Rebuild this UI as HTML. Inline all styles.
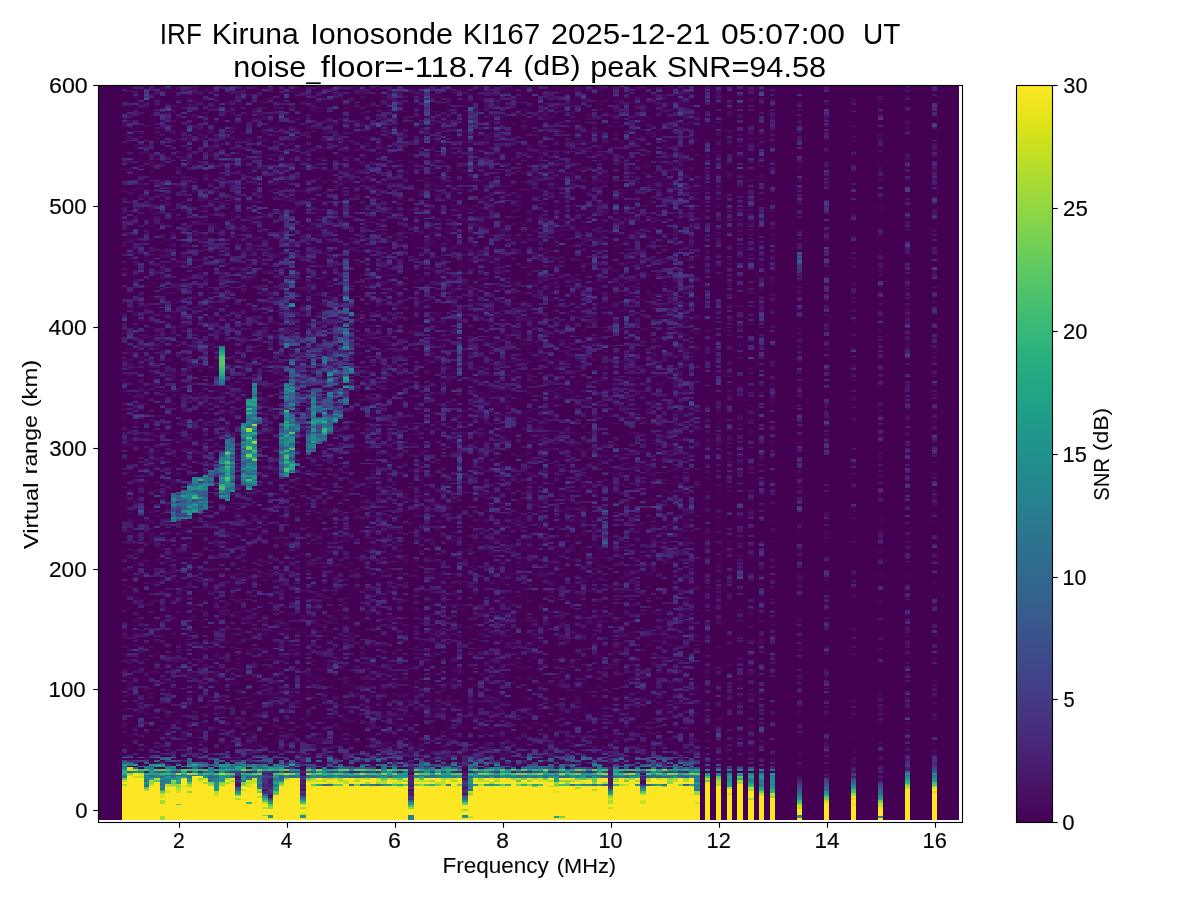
<!DOCTYPE html>
<html><head><meta charset="utf-8"><title>ionogram</title>
<style>html,body{margin:0;padding:0;background:#fff;overflow:hidden}svg{display:block}text{font-family:"Liberation Sans",sans-serif;fill:#000}</style>
</head><body>
<svg width="1200" height="900" viewBox="0 0 1200 900">
<defs><linearGradient id="vg" x1="0" y1="0" x2="0" y2="1"><stop offset="0.0000" stop-color="#fde725"/><stop offset="0.0312" stop-color="#ece51b"/><stop offset="0.0625" stop-color="#d8e219"/><stop offset="0.0938" stop-color="#c2df23"/><stop offset="0.1250" stop-color="#addc30"/><stop offset="0.1562" stop-color="#98d83e"/><stop offset="0.1875" stop-color="#84d44b"/><stop offset="0.2188" stop-color="#70cf57"/><stop offset="0.2500" stop-color="#5ec962"/><stop offset="0.2812" stop-color="#4ec36b"/><stop offset="0.3125" stop-color="#3fbc73"/><stop offset="0.3438" stop-color="#32b67a"/><stop offset="0.3750" stop-color="#28ae80"/><stop offset="0.4062" stop-color="#22a785"/><stop offset="0.4375" stop-color="#1fa088"/><stop offset="0.4688" stop-color="#1f988b"/><stop offset="0.5000" stop-color="#21918c"/><stop offset="0.5312" stop-color="#23898e"/><stop offset="0.5625" stop-color="#26828e"/><stop offset="0.5938" stop-color="#297a8e"/><stop offset="0.6250" stop-color="#2c728e"/><stop offset="0.6562" stop-color="#2f6b8e"/><stop offset="0.6875" stop-color="#33638d"/><stop offset="0.7188" stop-color="#375b8d"/><stop offset="0.7500" stop-color="#3b528b"/><stop offset="0.7812" stop-color="#3e4989"/><stop offset="0.8125" stop-color="#424086"/><stop offset="0.8438" stop-color="#453781"/><stop offset="0.8750" stop-color="#472d7b"/><stop offset="0.9062" stop-color="#482374"/><stop offset="0.9375" stop-color="#48186a"/><stop offset="0.9688" stop-color="#470d60"/><stop offset="1.0000" stop-color="#440154"/></linearGradient>
<clipPath id="cp"><rect x="97.65" y="85.23" width="863.88" height="736.99"/></clipPath></defs>
<rect width="1200" height="900" fill="#fff"/>
<rect x="98.00" y="85.50" width="861.00" height="734.50" fill="#440154"/>
<g clip-path="url(#cp)"><g transform="translate(94.950,0) scale(5.3993,1)" fill="none" shape-rendering="crispEdges">
<g stroke-width="2">
<path stroke="#470d60" d="M12 88h1M15 88h1M18 88h1M29 88h1M37 88h1M47 88h1M51 88h1M61 88h1M75 88h1M89 88h1M94 88h1M100 88h2M104 88h1M113 88h1M17 90h2M20 90h1M27 90h1M48 90h1M58 90h1M75 90h1M87 90h1M89 90h1M91 90h1M93 90h1M121 90h1M123 90h1M150 90h1M7 93h1M18 93h1M26 93h2M34 93h2M45 93h1M48 93h2M54 93h1M56 93h1M60 93h1M66 93h1M76 93h1M109 93h1M115 93h1M17 95h1M26 95h1M28 95h1M30 95h1M39 95h1M44 95h1M60 95h1M62 95h1M69 95h1M73 95h2M103 95h1M105 95h1M107 95h2M115 95h1M7 97h1M22 97h1M45 97h1M49 97h1M53 97h1M57 97h1M63 97h1M84 97h1M89 97h1M96 97h1M100 97h1M105 97h1M145 97h1M150 97h1M17 99h1M27 99h1M32 99h1M55 99h1M60 99h1M65 99h1M71 99h1M77 99h1M85 99h1M91 99h1M103 99h1M105 99h1M108 99h1M115 99h1M121 99h1M123 99h1M140 99h1M145 99h1M18 101h1M25 101h1M47 101h1M56 101h1M63 101h1M69 101h1M90 101h1M94 101h1M96 101h2M108 101h1M121 101h1M140 101h1M8 104h1M13 104h1M17 104h2M24 104h1M26 104h1M38 104h1M46 104h1M54 104h1M65 104h1M72 104h1M74 104h1M83 104h1M87 104h1M93 104h1M97 104h1M103 104h2M108 104h2M117 104h1M123 104h1M130 104h1M135 104h1M5 106h2M14 106h2M17 106h2M20 106h1M33 106h1M36 106h1M39 106h1M50 106h2M68 106h1M72 106h1M74 106h1M76 106h1M80 106h1M85 106h4M100 106h1M110 106h1M119 106h1M125 106h1M8 108h1M12 108h1M22 108h1M25 108h1M31 108h1M33 108h1M36 108h1M40 108h2M46 108h1M59 108h1M72 108h1M77 108h1M85 108h1M109 108h1M117 108h1M7 110h1M14 110h1M29 110h1M40 110h1M52 110h1M54 110h1M65 110h1M70 110h1M79 110h1M83 110h1M93 110h1M96 110h1M101 110h1M104 110h3M130 110h1M13 113h1M20 113h1M25 113h1M29 113h2M49 113h2M59 113h1M77 113h1M82 113h2M85 113h1M88 113h1M94 113h1M104 113h1M111 113h1M117 113h1M125 113h1M6 115h1M10 115h1M18 115h1M30 115h1M54 115h1M73 115h2M91 115h1M95 115h2M109 115h2M117 115h1M119 115h1M145 115h1M15 117h1M18 117h1M26 117h1M31 117h1M36 117h1M39 117h1M52 117h1M57 117h1M63 117h1M65 117h1M75 117h1M84 117h1M102 117h1M106 117h1M111 117h1M115 117h1M119 117h1M125 117h1M135 117h1M5 119h1M29 119h3M37 119h1M45 119h1M53 119h1M57 119h1M62 119h1M83 119h1M91 119h3M96 119h1M109 119h1M125 119h1M135 119h1M6 121h1M12 121h1M14 121h1M20 121h1M22 121h1M32 121h1M42 121h1M48 121h1M63 121h3M67 121h1M73 121h2M79 121h1M88 121h2M101 121h1M107 121h1M130 121h1M150 121h1M5 124h1M44 124h1M49 124h1M62 124h1M65 124h1M74 124h1M77 124h1M92 124h1M102 124h1M109 124h1M113 124h1M150 124h1M5 126h1M9 126h1M14 126h1M19 126h1M49 126h1M51 126h1M53 126h1M72 126h1M95 126h1M97 126h1M100 126h1M102 126h2M106 126h1M121 126h1M135 126h1M140 126h1M12 128h1M18 128h1M32 128h2M39 128h3M46 128h1M51 128h1M60 128h1M64 128h1M73 128h1M79 128h1M83 128h2M90 128h1M109 128h1M150 128h1M19 130h1M21 130h1M24 130h1M37 130h1M42 130h2M53 130h2M60 130h1M63 130h1M89 130h1M92 130h1M99 130h1M101 130h1M104 130h1M125 130h1M8 133h1M11 133h1M14 133h1M18 133h1M21 133h1M25 133h1M27 133h1M31 133h1M34 133h1M38 133h2M42 133h2M47 133h1M52 133h1M73 133h1M89 133h1M98 133h1M102 133h2M115 133h1M130 133h1M5 135h1M19 135h2M33 135h1M39 135h1M45 135h1M55 135h1M57 135h1M65 135h1M71 135h2M75 135h1M81 135h1M96 135h1M103 135h1M115 135h1M119 135h1M145 135h1M6 137h1M8 137h1M16 137h2M22 137h1M25 137h1M36 137h1M44 137h1M49 137h1M51 137h1M54 137h1M57 137h1M63 137h1M67 137h1M72 137h2M101 137h1M103 137h1M110 137h1M140 137h1M6 139h1M11 139h1M15 139h1M17 139h1M19 139h1M25 139h2M28 139h1M30 139h1M42 139h1M50 139h1M60 139h1M62 139h1M72 139h1M74 139h1M94 139h1M110 139h1M117 139h1M121 139h1M123 139h1M125 139h1M135 139h1M145 139h1M14 142h1M22 142h1M28 142h1M39 142h1M47 142h2M55 142h1M63 142h1M68 142h1M70 142h1M77 142h1M85 142h1M87 142h2M90 142h3M94 142h1M97 142h1M105 142h1M113 142h1M115 142h1M119 142h1M145 142h1M22 144h2M26 144h1M36 144h1M45 144h1M50 144h1M52 144h1M56 144h1M64 144h1M72 144h1M82 144h1M89 144h1M100 144h1M117 144h1M121 144h1M155 144h1M7 146h1M9 146h1M21 146h1M28 146h1M30 146h2M46 146h1M50 146h1M52 146h1M55 146h1M57 146h1M75 146h1M80 146h1M82 146h1M93 146h1M105 146h1M107 146h1M109 146h1M119 146h1M145 146h1M20 148h3M26 148h1M28 148h1M40 148h1M42 148h1M45 148h1M53 148h1M62 148h1M67 148h1M80 148h1M89 148h1M93 148h1M95 148h1M135 148h1M12 150h1M17 150h1M21 150h1M32 150h1M37 150h1M39 150h1M46 150h1M48 150h1M59 150h1M62 150h1M65 150h1M67 150h1M70 150h2M73 150h1M77 150h1M82 150h2M85 150h1M89 150h1M100 150h1M110 150h1M155 150h1M8 153h2M15 153h1M17 153h1M26 153h1M39 153h1M52 153h1M54 153h1M67 153h1M70 153h1M74 153h1M79 153h1M82 153h1M85 153h1M93 153h2M102 153h1M108 153h1M14 155h1M21 155h1M23 155h1M27 155h1M30 155h1M32 155h3M45 155h1M58 155h1M63 155h1M68 155h1M72 155h2M78 155h1M80 155h1M85 155h1M92 155h1M105 155h2M109 155h1M111 155h1M113 155h1M115 155h1M140 155h1M13 157h1M16 157h1M46 157h2M49 157h1M72 157h1M82 157h1M94 157h1M106 157h1M113 157h1M115 157h1M150 157h1M11 159h1M16 159h2M27 159h4M36 159h1M41 159h2M73 159h2M77 159h1M82 159h1M94 159h1M98 159h1M108 159h2M150 159h1M5 162h2M10 162h1M17 162h1M38 162h1M51 162h1M55 162h1M58 162h1M62 162h1M64 162h1M96 162h3M104 162h1M106 162h1M108 162h1M115 162h1M121 162h1M123 162h1M125 162h1M130 162h1M135 162h1M150 162h1M10 164h3M17 164h1M21 164h1M49 164h2M59 164h1M70 164h1M75 164h1M82 164h2M86 164h2M106 164h1M108 164h1M8 166h1M10 166h1M23 166h1M28 166h1M40 166h1M54 166h1M68 166h1M70 166h1M72 166h1M76 166h1M84 166h2M93 166h1M100 166h1M102 166h1M108 166h1M123 166h1M6 168h1M15 168h1M22 168h1M25 168h1M29 168h1M31 168h1M33 168h3M38 168h1M41 168h1M46 168h1M55 168h1M70 168h1M82 168h1M90 168h2M110 168h1M130 168h1M145 168h1M6 171h1M10 171h1M26 171h1M34 171h1M43 171h1M45 171h2M48 171h1M50 171h1M57 171h1M68 171h1M78 171h1M80 171h1M84 171h2M93 171h1M98 171h1M106 171h1M113 171h1M140 171h1M145 171h1M155 171h1M28 173h1M48 173h1M56 173h2M62 173h1M76 173h1M79 173h1M81 173h1M86 173h3M94 173h1M101 173h1M103 173h1M113 173h1M117 173h1M20 175h1M33 175h2M51 175h1M71 175h1M82 175h1M88 175h2M92 175h2M98 175h1M109 175h1M115 175h1M117 175h1M119 175h1M123 175h1M14 177h1M16 177h2M20 177h1M23 177h1M29 177h1M33 177h1M63 177h1M69 177h1M81 177h1M84 177h2M94 177h1M99 177h2M103 177h1M109 177h1M117 177h1M123 177h1M16 179h1M18 179h1M22 179h1M37 179h1M41 179h1M44 179h1M49 179h2M54 179h1M56 179h2M61 179h1M70 179h1M72 179h1M74 179h1M81 179h1M86 179h1M93 179h1M98 179h1M105 179h2M130 179h1M145 179h1M150 179h1M155 179h1M11 182h1M17 182h1M33 182h3M42 182h1M46 182h1M57 182h1M61 182h1M64 182h1M79 182h1M81 182h1M92 182h1M94 182h1M100 182h1M102 182h1M104 182h1M8 184h1M21 184h1M24 184h2M27 184h1M29 184h1M32 184h2M52 184h4M61 184h2M77 184h1M80 184h1M85 184h1M88 184h1M103 184h1M106 184h1M111 184h1M135 184h1M12 186h1M15 186h1M17 186h1M41 186h1M44 186h1M50 186h2M57 186h1M63 186h1M75 186h2M81 186h1M84 186h1M88 186h1M96 186h1M99 186h1M102 186h1M107 186h1M109 186h2M119 186h1M135 186h1M8 188h1M16 188h1M23 188h1M35 188h1M39 188h1M44 188h1M51 188h1M56 188h1M61 188h1M84 188h2M93 188h1M106 188h1M110 188h1M113 188h1M115 188h1M130 188h1M5 191h1M18 191h1M22 191h1M32 191h1M37 191h2M40 191h1M48 191h1M52 191h1M60 191h1M74 191h2M104 191h1M115 191h1M6 193h1M16 193h1M20 193h1M30 193h1M36 193h1M39 193h1M42 193h1M46 193h1M52 193h1M60 193h1M73 193h1M84 193h1M91 193h1M97 193h1M106 193h1M110 193h2M145 193h1M8 195h1M11 195h1M26 195h1M30 195h1M35 195h1M48 195h1M63 195h1M78 195h1M84 195h1M93 195h1M107 195h1M115 195h1M121 195h1M8 197h3M26 197h1M33 197h1M48 197h1M55 197h1M63 197h1M78 197h1M81 197h2M86 197h1M97 197h1M104 197h1M130 197h1M145 197h1M155 197h1M19 199h2M25 199h1M34 199h1M36 199h1M39 199h1M46 199h1M52 199h1M56 199h1M64 199h2M71 199h1M75 199h1M87 199h1M96 199h1M107 199h1M109 199h1M111 199h1M123 199h1M13 202h1M16 202h1M21 202h3M26 202h1M28 202h2M36 202h1M40 202h1M72 202h1M78 202h1M100 202h1M130 202h1M150 202h1M10 204h1M12 204h2M17 204h1M23 204h2M26 204h1M49 204h1M73 204h2M82 204h2M93 204h2M96 204h1M106 204h1M130 204h1M155 204h1M13 206h1M17 206h1M19 206h1M34 206h1M37 206h1M47 206h1M51 206h1M66 206h1M70 206h1M75 206h1M78 206h1M85 206h1M92 206h1M101 206h2M115 206h1M7 208h2M10 208h1M20 208h1M24 208h1M39 208h1M45 208h1M54 208h1M62 208h1M68 208h1M71 208h1M87 208h1M145 208h1M6 211h1M10 211h1M16 211h1M19 211h1M22 211h1M28 211h1M34 211h1M51 211h1M59 211h2M66 211h2M70 211h1M77 211h1M80 211h1M89 211h1M91 211h1M94 211h1M96 211h1M100 211h1M104 211h1M119 211h1M125 211h1M5 213h1M11 213h1M22 213h2M25 213h1M32 213h1M34 213h1M36 213h1M53 213h4M80 213h1M83 213h1M93 213h2M98 213h1M102 213h1M107 213h1M109 213h1M150 213h1M155 213h1M17 215h1M20 215h2M26 215h1M31 215h1M44 215h1M82 215h1M85 215h1M90 215h1M101 215h1M108 215h2M140 215h1M7 217h1M11 217h1M23 217h1M28 217h2M31 217h1M41 217h1M45 217h1M51 217h1M56 217h2M59 217h1M70 217h3M77 217h2M82 217h1M91 217h1M97 217h1M99 217h1M107 217h1M109 217h1M6 220h1M9 220h1M20 220h1M43 220h1M52 220h1M63 220h1M68 220h1M83 220h2M86 220h1M98 220h1M104 220h1M111 220h1M119 220h1M140 220h1M19 222h1M46 222h1M50 222h2M56 222h1M71 222h1M75 222h1M80 222h1M83 222h1M90 222h1M94 222h1M101 222h1M103 222h1M108 222h1M125 222h1M11 224h2M18 224h5M25 224h1M29 224h1M53 224h1M77 224h1M79 224h1M107 224h1M110 224h1M121 224h1M150 224h1M10 226h1M16 226h1M38 226h1M42 226h1M50 226h1M52 226h1M59 226h1M66 226h1M70 226h2M87 226h2M119 226h1M17 228h1M22 228h1M26 228h1M28 228h1M30 228h1M39 228h3M43 228h1M58 228h1M66 228h1M72 228h3M80 228h1M90 228h1M97 228h1M103 228h1M110 228h1M125 228h1M145 228h1M25 231h1M27 231h2M31 231h1M34 231h1M36 231h1M43 231h2M60 231h1M65 231h1M75 231h2M79 231h1M81 231h1M85 231h1M89 231h1M92 231h2M95 231h1M100 231h2M107 231h1M110 231h1M119 231h1M130 231h1M155 231h1M5 233h1M9 233h1M14 233h1M18 233h1M21 233h2M49 233h1M53 233h1M57 233h2M60 233h1M62 233h2M65 233h1M67 233h1M69 233h1M75 233h1M93 233h1M95 233h2M101 233h1M107 233h2M115 233h1M117 233h1M135 233h1M6 235h2M12 235h1M14 235h1M18 235h1M20 235h1M25 235h2M34 235h1M38 235h1M41 235h1M49 235h1M53 235h1M55 235h2M61 235h1M73 235h1M76 235h1M82 235h1M86 235h1M90 235h1M100 235h1M107 235h1M115 235h1M119 235h1M121 235h1M125 235h1M145 235h1M30 237h1M42 237h1M56 237h1M63 237h2M75 237h2M92 237h1M100 237h1M102 237h1M107 237h1M110 237h1M113 237h1M140 237h1M6 240h2M10 240h1M13 240h1M19 240h1M26 240h1M29 240h1M31 240h1M45 240h1M48 240h1M50 240h1M52 240h1M54 240h1M65 240h1M80 240h2M87 240h1M92 240h2M100 240h1M107 240h1M115 240h1M135 240h1M5 242h2M23 242h1M35 242h1M39 242h1M43 242h2M47 242h1M54 242h1M61 242h2M82 242h2M90 242h1M94 242h1M98 242h1M107 242h1M5 244h1M14 244h1M16 244h1M20 244h1M26 244h1M36 244h1M48 244h1M56 244h2M61 244h1M70 244h1M89 244h2M97 244h1M103 244h1M108 244h1M110 244h1M5 246h1M8 246h1M14 246h1M16 246h2M28 246h2M46 246h1M49 246h1M61 246h1M66 246h1M70 246h1M72 246h1M85 246h1M88 246h1M91 246h1M96 246h1M105 246h1M110 246h1M117 246h1M47 248h2M51 248h1M53 248h1M59 248h3M66 248h1M74 248h1M119 248h1M12 251h1M24 251h1M27 251h2M31 251h1M48 251h2M54 251h1M56 251h2M69 251h1M77 251h2M84 251h1M93 251h1M100 251h2M105 251h1M108 251h1M110 251h1M113 251h1M119 251h1M123 251h1M6 253h2M13 253h1M32 253h1M37 253h1M39 253h1M42 253h1M50 253h1M60 253h1M70 253h2M78 253h1M81 253h1M83 253h1M113 253h1M10 255h1M12 255h2M16 255h1M28 255h1M33 255h1M57 255h1M68 255h1M70 255h1M75 255h1M81 255h1M99 255h2M111 255h1M115 255h1M121 255h1M145 255h1M9 257h1M12 257h2M16 257h1M20 257h1M30 257h1M33 257h1M35 257h1M43 257h1M63 257h1M72 257h2M75 257h1M83 257h2M86 257h1M119 257h1M125 257h1M9 260h1M15 260h1M18 260h3M34 260h1M59 260h1M64 260h1M67 260h1M69 260h1M72 260h1M84 260h1M88 260h2M103 260h1M106 260h1M109 260h1M113 260h1M117 260h1M15 262h1M25 262h1M30 262h1M39 262h1M52 262h2M63 262h1M93 262h1M99 262h1M104 262h1M121 262h1M125 262h1M7 264h1M28 264h1M44 264h1M48 264h1M74 264h1M90 264h2M98 264h1M100 264h2M117 264h1M123 264h1M135 264h1M11 266h2M14 266h2M17 266h1M28 266h1M32 266h1M39 266h1M42 266h1M44 266h1M64 266h1M67 266h1M80 266h1M85 266h1M99 266h1M110 266h1M115 266h1M123 266h1M125 266h1M140 266h1M145 266h1M150 266h1M12 269h1M19 269h1M26 269h1M28 269h1M33 269h1M54 269h1M61 269h2M64 269h1M69 269h1M74 269h1M95 269h1M113 269h1M11 271h2M23 271h1M27 271h2M31 271h2M37 271h1M52 271h1M74 271h2M82 271h1M90 271h1M96 271h1M145 271h1M155 271h1M5 273h1M8 273h1M19 273h1M26 273h2M31 273h1M45 273h1M64 273h1M68 273h1M75 273h1M80 273h1M85 273h1M104 273h1M113 273h1M155 273h1M7 275h1M12 275h1M19 275h1M23 275h1M27 275h1M29 275h1M33 275h1M49 275h1M52 275h1M54 275h2M59 275h1M61 275h1M67 275h1M80 275h1M86 275h1M89 275h1M100 275h1M102 275h1M104 275h1M106 275h1M145 275h1M12 277h1M17 277h1M24 277h1M29 277h1M40 277h1M42 277h1M45 277h1M53 277h1M57 277h1M66 277h1M82 277h1M88 277h1M98 277h1M111 277h1M117 277h1M125 277h1M130 277h1M135 277h1M7 280h1M20 280h1M22 280h1M25 280h1M28 280h1M60 280h1M66 280h1M71 280h1M80 280h1M82 280h1M87 280h2M100 280h1M130 280h1M37 282h1M39 282h1M43 282h1M52 282h3M59 282h1M63 282h1M68 282h1M78 282h1M85 282h1M88 282h1M96 282h1M98 282h1M105 282h1M107 282h1M117 282h1M125 282h1M14 284h2M27 284h1M39 284h2M51 284h1M53 284h1M55 284h1M57 284h1M62 284h1M67 284h2M70 284h1M75 284h1M77 284h1M81 284h1M84 284h2M97 284h1M100 284h1M117 284h1M140 284h1M9 286h1M15 286h1M20 286h1M23 286h1M29 286h2M49 286h2M56 286h1M69 286h1M71 286h1M78 286h1M81 286h1M85 286h1M87 286h2M90 286h1M97 286h1M99 286h1M105 286h1M109 286h1M117 286h1M145 286h1M150 286h1M15 289h1M17 289h1M37 289h3M51 289h1M66 289h1M68 289h2M75 289h1M80 289h1M89 289h1M92 289h1M100 289h1M110 289h1M123 289h1M150 289h1M22 291h1M27 291h1M33 291h1M39 291h1M44 291h1M54 291h2M59 291h1M64 291h1M66 291h1M81 291h1M102 291h1M110 291h1M130 291h1M13 293h2M21 293h1M37 293h1M39 293h1M41 293h1M43 293h1M73 293h1M77 293h1M79 293h1M84 293h1M88 293h1M91 293h1M96 293h1M102 293h1M106 293h1M121 293h1M130 293h1M140 293h1M8 295h1M24 295h1M31 295h2M40 295h2M59 295h1M63 295h1M70 295h1M81 295h1M83 295h1M94 295h1M98 295h1M103 295h1M105 295h2M125 295h1M11 298h1M16 298h1M18 298h1M33 298h1M43 298h1M49 298h1M77 298h1M100 298h1M103 298h1M109 298h1M125 298h1M140 298h1M14 300h1M17 300h1M21 300h1M24 300h1M32 300h2M36 300h1M43 300h1M56 300h1M59 300h1M84 300h1M101 300h1M106 300h1M113 300h1M123 300h1M135 300h1M5 302h1M8 302h1M15 302h1M30 302h1M40 302h1M45 302h2M60 302h1M73 302h1M79 302h1M94 302h1M107 302h1M140 302h1M155 302h1M9 304h1M12 304h1M26 304h1M41 304h2M52 304h2M56 304h1M64 304h1M66 304h1M69 304h2M78 304h1M80 304h1M109 304h1M123 304h1M145 304h1M8 306h2M19 306h1M21 306h1M32 306h1M38 306h1M40 306h1M42 306h1M52 306h1M55 306h1M59 306h1M66 306h1M71 306h1M76 306h1M79 306h1M85 306h1M89 306h1M92 306h1M95 306h2M104 306h1M117 306h1M119 306h1M123 306h1M9 309h1M16 309h1M22 309h1M36 309h2M47 309h1M57 309h1M72 309h1M78 309h3M91 309h1M98 309h1M103 309h1M150 309h1M12 311h1M14 311h1M25 311h1M29 311h1M33 311h2M36 311h1M38 311h1M49 311h1M52 311h1M71 311h3M75 311h1M95 311h1M97 311h1M106 311h1M115 311h1M123 311h1M125 311h1M140 311h1M145 311h1M150 311h1M7 313h1M14 313h1M26 313h1M41 313h1M51 313h1M55 313h1M62 313h2M73 313h1M83 313h1M87 313h1M90 313h1M99 313h1M107 313h1M7 315h1M13 315h1M25 315h1M37 315h1M41 315h1M45 315h1M48 315h1M54 315h1M63 315h1M68 315h1M70 315h1M75 315h1M77 315h1M91 315h2M95 315h1M102 315h1M105 315h1M135 315h1M150 315h1M13 318h2M21 318h1M23 318h1M29 318h1M34 318h1M36 318h1M41 318h1M43 318h1M56 318h1M58 318h1M78 318h4M83 318h1M89 318h2M92 318h1M100 318h1M102 318h1M107 318h1M150 318h1M8 320h1M17 320h1M21 320h1M27 320h1M45 320h1M50 320h1M54 320h2M57 320h1M64 320h1M71 320h1M79 320h2M92 320h1M104 320h1M108 320h1M117 320h1M140 320h1M19 322h1M22 322h1M33 322h1M63 322h2M67 322h1M91 322h2M96 322h1M100 322h1M109 322h1M123 322h1M150 322h1M16 324h1M42 324h1M55 324h1M64 324h1M87 324h1M121 324h1M14 326h1M16 326h1M23 326h1M28 326h1M39 326h1M45 326h1M47 326h1M50 326h2M59 326h2M80 326h1M91 326h1M107 326h1M109 326h1M119 326h1M125 326h1M14 329h1M18 329h1M28 329h1M31 329h1M36 329h1M52 329h1M56 329h1M66 329h1M77 329h1M85 329h1M97 329h1M101 329h1M119 329h1M130 329h1M9 331h1M12 331h1M14 331h1M19 331h2M29 331h1M40 331h1M43 331h1M58 331h1M65 331h2M77 331h2M90 331h1M94 331h2M100 331h1M107 331h1M110 331h1M113 331h1M117 331h1M145 331h1M150 331h1M5 333h1M7 333h1M21 333h1M23 333h1M29 333h1M31 333h1M34 333h1M36 333h1M40 333h1M50 333h1M56 333h1M58 333h1M70 333h1M78 333h1M83 333h1M100 333h1M105 333h1M108 333h1M111 333h1M115 333h1M130 333h1M8 335h2M11 335h1M31 335h1M33 335h1M45 335h1M49 335h3M54 335h1M65 335h1M67 335h1M88 335h1M109 335h1M117 335h1M140 335h1M9 338h1M16 338h1M27 338h1M33 338h1M47 338h1M50 338h1M69 338h1M76 338h1M92 338h2M104 338h1M107 338h1M119 338h1M155 338h1M12 340h1M18 340h1M22 340h1M32 340h1M48 340h1M53 340h1M57 340h1M63 340h1M67 340h1M79 340h1M86 340h1M92 340h1M96 340h1M150 340h1M15 342h1M50 342h1M53 342h2M59 342h1M65 342h1M72 342h1M74 342h1M81 342h1M86 342h1M103 342h1M130 342h1M11 344h1M18 344h1M20 344h2M40 344h1M54 344h1M62 344h1M64 344h1M69 344h1M77 344h1M79 344h2M91 344h2M150 344h1M8 347h3M17 347h1M40 347h1M48 347h2M64 347h1M82 347h1M93 347h1M104 347h1M111 347h1M113 347h1M130 347h1M150 347h1M6 349h1M11 349h1M18 349h1M21 349h1M39 349h1M44 349h1M56 349h1M77 349h1M82 349h1M103 349h1M108 349h2M111 349h1M117 349h1M135 349h1M140 349h1M150 349h1M12 351h1M22 351h1M26 351h1M29 351h2M33 351h1M36 351h1M42 351h1M53 351h1M55 351h2M70 351h1M73 351h1M86 351h2M90 351h1M94 351h1M99 351h1M102 351h1M109 351h1M113 351h1M130 351h1M6 353h1M8 353h1M36 353h1M42 353h1M48 353h2M62 353h1M69 353h1M80 353h1M87 353h1M96 353h1M103 353h1M110 353h1M155 353h1M15 355h1M33 355h1M37 355h1M42 355h1M56 355h1M69 355h1M87 355h2M93 355h1M103 355h1M108 355h1M7 358h2M17 358h1M25 358h1M27 358h1M29 358h1M36 358h1M38 358h1M50 358h1M53 358h2M57 358h1M83 358h1M91 358h1M105 358h1M107 358h1M119 358h1M145 358h1M150 358h1M155 358h1M6 360h1M10 360h1M13 360h1M19 360h1M33 360h1M41 360h1M45 360h1M61 360h1M63 360h1M75 360h1M77 360h1M79 360h1M82 360h1M85 360h1M87 360h1M89 360h1M92 360h1M103 360h1M109 360h2M30 362h1M33 362h1M37 362h3M52 362h1M75 362h3M80 362h1M95 362h1M97 362h1M108 362h1M117 362h1M155 362h1M6 364h1M8 364h1M11 364h1M17 364h1M22 364h1M24 364h1M37 364h1M49 364h1M55 364h2M61 364h1M68 364h1M73 364h1M84 364h1M90 364h1M96 364h1M117 364h1M125 364h1M5 367h1M7 367h1M10 367h2M18 367h2M25 367h1M36 367h1M49 367h1M53 367h1M56 367h1M65 367h1M71 367h1M74 367h1M85 367h1M89 367h1M94 367h1M103 367h1M140 367h1M6 369h1M17 369h1M22 369h1M34 369h1M40 369h1M45 369h1M56 369h1M65 369h1M70 369h1M94 369h1M100 369h2M117 369h1M121 369h1M17 371h1M19 371h1M24 371h1M31 371h1M33 371h2M50 371h1M56 371h1M61 371h1M88 371h2M103 371h1M108 371h1M110 371h1M130 371h1M155 371h1M14 373h1M16 373h1M24 373h1M34 373h1M38 373h1M49 373h2M54 373h1M57 373h1M61 373h1M66 373h1M77 373h2M86 373h1M101 373h1M108 373h1M115 373h1M117 373h1M121 373h1M130 373h1M6 375h1M14 375h1M34 375h1M56 375h1M59 375h1M65 375h1M71 375h3M76 375h1M80 375h1M83 375h1M94 375h1M104 375h2M108 375h1M140 375h1M14 378h1M35 378h1M50 378h1M65 378h2M69 378h1M80 378h1M88 378h1M96 378h1M99 378h2M108 378h1M5 380h1M8 380h1M14 380h1M45 380h1M50 380h1M53 380h2M57 380h1M65 380h1M69 380h1M74 380h1M87 380h1M93 380h2M99 380h1M140 380h1M8 382h1M33 382h1M55 382h1M58 382h1M65 382h1M71 382h1M78 382h1M81 382h1M83 382h1M89 382h1M91 382h1M97 382h1M105 382h1M107 382h1M10 384h2M17 384h1M21 384h1M25 384h1M34 384h1M45 384h1M52 384h1M78 384h1M84 384h1M91 384h1M93 384h1M104 384h1M107 384h1M125 384h1M150 384h1M155 384h1M31 387h2M53 387h1M55 387h1M60 387h1M73 387h1M76 387h1M82 387h1M86 387h1M96 387h1M107 387h1M119 387h1M8 389h1M15 389h1M24 389h1M34 389h1M48 389h1M74 389h1M76 389h1M85 389h1M95 389h1M99 389h1M108 389h1M5 391h1M8 391h2M12 391h4M22 391h1M27 391h1M48 391h1M70 391h1M73 391h1M77 391h1M83 391h2M88 391h1M90 391h1M95 391h2M100 391h2M109 391h2M117 391h1M19 393h1M23 393h1M25 393h2M39 393h1M60 393h1M63 393h2M67 393h1M71 393h1M80 393h1M85 393h1M87 393h2M100 393h1M103 393h1M119 393h1M123 393h1M130 393h1M8 396h1M14 396h1M16 396h1M19 396h1M23 396h1M42 396h1M58 396h1M61 396h1M72 396h1M76 396h1M82 396h1M89 396h1M95 396h1M101 396h1M105 396h1M117 396h1M119 396h1M125 396h1M8 398h1M28 398h1M31 398h1M50 398h1M53 398h1M62 398h1M70 398h1M86 398h1M88 398h1M94 398h1M108 398h1M125 398h1M140 398h1M22 400h2M27 400h1M31 400h1M39 400h1M49 400h4M70 400h1M91 400h1M96 400h1M117 400h1M140 400h1M12 402h1M24 402h1M31 402h1M51 402h1M62 402h1M69 402h1M72 402h2M76 402h1M91 402h1M97 402h2M103 402h1M108 402h1M125 402h1M8 404h2M14 404h1M51 404h1M59 404h1M63 404h1M71 404h1M74 404h1M91 404h1M94 404h1M103 404h1M135 404h1M155 404h1M20 407h1M23 407h1M27 407h1M32 407h1M34 407h1M53 407h1M59 407h1M64 407h1M70 407h1M76 407h1M97 407h2M110 407h1M113 407h1M135 407h1M140 407h1M5 409h1M16 409h1M25 409h1M52 409h1M60 409h1M76 409h1M81 409h1M83 409h1M100 409h1M102 409h1M111 409h1M115 409h1M150 409h1M155 409h1M16 411h1M24 411h2M36 411h1M43 411h1M47 411h1M49 411h1M51 411h1M53 411h1M68 411h1M80 411h1M82 411h2M97 411h2M102 411h1M105 411h1M107 411h2M115 411h1M121 411h1M135 411h1M145 411h1M31 413h1M33 413h1M60 413h1M62 413h1M71 413h1M77 413h1M79 413h1M90 413h1M108 413h1M11 416h2M25 416h1M55 416h1M71 416h1M74 416h1M76 416h1M78 416h1M92 416h1M94 416h2M107 416h1M119 416h1M145 416h1M150 416h1M5 418h1M46 418h1M56 418h1M61 418h1M67 418h1M70 418h2M80 418h1M83 418h1M85 418h1M92 418h1M98 418h2M110 418h1M119 418h1M135 418h1M140 418h1M155 418h1M10 420h1M16 420h1M45 420h1M72 420h1M83 420h1M86 420h1M104 420h1M119 420h1M121 420h1M140 420h1M150 420h1M7 422h1M16 422h1M20 422h1M22 422h1M52 422h1M54 422h1M63 422h1M68 422h1M72 422h1M83 422h1M89 422h1M101 422h1M107 422h1M110 422h1M113 422h1M121 422h1M130 422h1M155 422h1M13 425h1M15 425h1M20 425h3M24 425h1M30 425h1M38 425h2M46 425h1M50 425h1M53 425h2M57 425h1M60 425h1M73 425h1M107 425h1M109 425h1M119 425h1M145 425h1M5 427h1M19 427h1M24 427h1M31 427h2M51 427h1M56 427h1M75 427h1M77 427h1M82 427h1M87 427h1M90 427h1M105 427h1M115 427h1M123 427h1M17 429h2M24 429h1M44 429h1M48 429h1M51 429h1M61 429h1M63 429h1M75 429h1M79 429h1M81 429h2M111 429h1M155 429h1M6 431h1M38 431h1M45 431h1M50 431h2M54 431h1M59 431h1M64 431h1M75 431h1M84 431h4M113 431h1M121 431h1M5 433h1M10 433h1M12 433h2M15 433h1M20 433h1M25 433h1M31 433h2M50 433h1M68 433h1M71 433h1M87 433h2M91 433h1M99 433h2M103 433h1M110 433h1M113 433h1M150 433h1M11 436h1M20 436h1M25 436h1M54 436h1M66 436h1M71 436h1M75 436h1M82 436h1M85 436h1M90 436h1M101 436h1M105 436h1M115 436h1M117 436h1M8 438h2M22 438h1M33 438h1M51 438h1M67 438h1M104 438h2M109 438h1M117 438h1M135 438h1M5 440h2M14 440h1M16 440h2M30 440h1M32 440h1M50 440h1M52 440h1M55 440h1M65 440h1M75 440h2M83 440h1M90 440h1M96 440h1M103 440h1M107 440h2M113 440h1M117 440h1M55 442h1M66 442h1M70 442h1M72 442h1M78 442h1M80 442h2M86 442h1M89 442h1M111 442h1M113 442h1M115 442h1M125 442h1M135 442h1M155 442h1M5 445h2M13 445h1M19 445h2M22 445h1M30 445h1M45 445h1M48 445h2M53 445h1M59 445h1M83 445h1M88 445h1M94 445h1M96 445h1M104 445h1M106 445h1M115 445h1M11 447h1M21 447h1M32 447h1M41 447h2M44 447h1M50 447h1M54 447h1M68 447h1M93 447h1M107 447h1M113 447h1M117 447h1M121 447h1M16 449h2M33 449h1M37 449h1M50 449h1M55 449h1M70 449h1M73 449h1M76 449h1M80 449h1M83 449h2M89 449h1M91 449h2M97 449h1M104 449h1M110 449h1M135 449h1M11 451h1M17 451h1M47 451h2M52 451h1M60 451h2M86 451h1M90 451h1M94 451h1M100 451h2M106 451h2M9 453h1M18 453h1M26 453h1M30 453h1M43 453h1M54 453h1M56 453h2M60 453h1M66 453h1M71 453h1M80 453h1M119 453h1M125 453h1M145 453h1M150 453h1M14 456h1M19 456h1M41 456h1M52 456h1M54 456h1M58 456h1M65 456h1M78 456h1M82 456h2M93 456h2M106 456h1M119 456h1M123 456h1M11 458h1M15 458h1M26 458h1M33 458h1M40 458h2M56 458h1M74 458h1M91 458h1M103 458h1M109 458h1M117 458h1M123 458h1M145 458h1M11 460h2M17 460h1M22 460h1M31 460h1M43 460h1M51 460h1M71 460h1M81 460h1M88 460h1M93 460h1M97 460h1M123 460h1M9 462h2M33 462h1M54 462h1M71 462h1M75 462h1M87 462h2M117 462h1M119 462h1M155 462h1M6 465h1M10 465h1M26 465h1M32 465h1M40 465h1M46 465h1M85 465h1M93 465h1M97 465h1M100 465h1M113 465h1M123 465h1M7 467h1M11 467h1M14 467h1M21 467h1M30 467h1M33 467h1M52 467h1M71 467h1M75 467h1M85 467h1M91 467h1M95 467h1M97 467h1M99 467h3M117 467h1M121 467h1M8 469h1M12 469h1M26 469h1M31 469h1M37 469h1M41 469h2M71 469h1M83 469h1M96 469h1M99 469h2M102 469h1M107 469h1M111 469h1M121 469h1M10 471h1M13 471h1M33 471h1M43 471h1M45 471h1M51 471h1M53 471h1M58 471h1M60 471h1M72 471h2M79 471h1M82 471h1M87 471h1M102 471h1M106 471h1M113 471h1M119 471h1M130 471h1M145 471h1M15 474h1M18 474h1M31 474h2M38 474h1M44 474h1M51 474h1M56 474h1M59 474h1M80 474h1M86 474h1M90 474h1M96 474h2M102 474h2M119 474h1M140 474h1M155 474h1M7 476h1M9 476h2M51 476h1M62 476h1M68 476h1M77 476h1M90 476h1M100 476h1M103 476h1M107 476h1M109 476h1M145 476h1M31 478h1M35 478h1M54 478h1M66 478h1M75 478h1M77 478h1M85 478h1M89 478h1M91 478h1M107 478h1M113 478h1M13 480h2M26 480h1M33 480h1M37 480h1M39 480h1M47 480h1M50 480h1M60 480h1M65 480h2M94 480h1M103 480h1M105 480h1M117 480h1M7 482h3M11 482h1M14 482h1M22 482h1M35 482h2M40 482h1M47 482h1M51 482h1M54 482h2M68 482h1M72 482h1M78 482h1M81 482h1M83 482h1M109 482h1M111 482h1M145 482h1M14 485h1M32 485h1M42 485h1M55 485h1M64 485h1M90 485h1M96 485h2M115 485h1M5 487h1M8 487h1M40 487h1M50 487h1M53 487h1M58 487h2M74 487h1M90 487h1M98 487h1M103 487h1M117 487h1M130 487h1M140 487h1M13 489h1M31 489h1M37 489h1M42 489h1M47 489h1M53 489h1M63 489h1M76 489h1M80 489h1M87 489h1M91 489h1M100 489h1M108 489h1M125 489h1M6 491h1M10 491h2M29 491h1M34 491h1M43 491h1M55 491h1M61 491h1M70 491h2M80 491h1M87 491h1M89 491h1M92 491h1M105 491h1M108 491h1M117 491h1M150 491h1M155 491h1M12 494h2M28 494h2M35 494h1M37 494h1M46 494h1M57 494h1M71 494h2M77 494h1M79 494h1M86 494h1M92 494h1M94 494h1M97 494h1M109 494h1M121 494h1M123 494h1M22 496h1M40 496h1M43 496h1M46 496h1M52 496h1M54 496h1M57 496h1M60 496h2M67 496h1M71 496h1M73 496h1M86 496h1M155 496h1M26 498h1M52 498h1M56 498h2M59 498h1M62 498h1M72 498h1M87 498h2M108 498h1M145 498h1M150 498h1M6 500h1M42 500h1M50 500h1M54 500h1M58 500h1M78 500h1M83 500h1M103 500h1M105 500h1M121 500h1M7 502h1M10 502h1M13 502h1M45 502h1M49 502h1M51 502h1M55 502h1M61 502h1M66 502h1M75 502h1M83 502h1M88 502h2M98 502h1M125 502h1M13 505h1M26 505h2M33 505h1M62 505h1M64 505h1M73 505h1M81 505h1M98 505h1M107 505h1M123 505h1M155 505h1M6 507h1M24 507h2M32 507h1M47 507h1M56 507h1M65 507h1M67 507h1M73 507h1M85 507h1M87 507h1M90 507h1M94 507h1M140 507h1M7 509h1M13 509h1M33 509h1M42 509h1M48 509h2M59 509h1M65 509h1M87 509h2M94 509h1M108 509h1M10 511h1M21 511h1M23 511h2M37 511h1M40 511h1M43 511h1M45 511h1M48 511h1M51 511h1M53 511h1M72 511h1M82 511h1M86 511h1M104 511h1M109 511h2M113 511h1M121 511h1M140 511h1M12 514h1M26 514h1M28 514h1M32 514h1M43 514h1M45 514h1M59 514h1M64 514h1M67 514h1M76 514h1M87 514h1M99 514h1M105 514h1M109 514h1M121 514h1M135 514h1M155 514h1M8 516h1M11 516h1M31 516h1M46 516h1M48 516h1M51 516h2M56 516h1M59 516h2M65 516h1M71 516h1M85 516h1M94 516h1M111 516h1M119 516h1M121 516h1M123 516h1M135 516h1M21 518h1M26 518h1M29 518h1M35 518h1M41 518h1M48 518h1M50 518h1M78 518h1M100 518h1M103 518h1M115 518h1M140 518h1M6 520h1M9 520h1M18 520h1M26 520h1M30 520h1M39 520h1M53 520h1M67 520h1M72 520h1M77 520h2M87 520h1M90 520h1M145 520h1M13 523h1M17 523h1M20 523h3M27 523h1M52 523h1M57 523h2M77 523h1M79 523h1M82 523h1M90 523h1M99 523h1M101 523h1M107 523h1M21 525h1M31 525h1M60 525h2M74 525h1M80 525h1M87 525h1M97 525h1M100 525h1M106 525h1M109 525h1M130 525h1M39 527h1M51 527h1M53 527h1M69 527h1M82 527h1M85 527h1M88 527h1M90 527h1M92 527h1M103 527h1M109 527h1M10 529h1M17 529h1M22 529h1M25 529h1M31 529h1M43 529h1M51 529h1M54 529h3M59 529h2M63 529h1M92 529h2M102 529h1M105 529h2M113 529h1M125 529h1M6 531h1M16 531h1M22 531h1M51 531h1M53 531h1M70 531h1M75 531h1M90 531h1M92 531h1M99 531h2M108 531h3M113 531h1M115 531h1M125 531h1M145 531h1M10 534h1M18 534h3M24 534h2M31 534h1M40 534h1M43 534h1M47 534h1M54 534h1M70 534h2M80 534h1M90 534h1M92 534h1M104 534h2M108 534h1M10 536h2M22 536h1M34 536h1M41 536h1M44 536h1M46 536h1M64 536h1M66 536h1M73 536h1M75 536h2M89 536h1M103 536h1M10 538h1M25 538h1M34 538h1M44 538h1M47 538h1M50 538h2M53 538h3M60 538h1M75 538h1M84 538h1M96 538h1M100 538h1M109 538h1M135 538h1M145 538h1M16 540h1M22 540h1M37 540h1M46 540h1M62 540h1M65 540h3M73 540h2M83 540h1M103 540h1M105 540h1M113 540h1M5 543h3M9 543h1M17 543h1M22 543h1M24 543h1M35 543h1M41 543h1M53 543h1M55 543h1M62 543h1M80 543h1M109 543h1M115 543h1M119 543h1M12 545h1M22 545h2M35 545h1M53 545h1M56 545h1M62 545h1M69 545h1M72 545h1M76 545h2M82 545h1M88 545h1M92 545h1M98 545h1M102 545h1M109 545h1M119 545h1M11 547h1M17 547h1M20 547h1M53 547h1M75 547h3M80 547h1M85 547h1M88 547h1M93 547h1M97 547h2M101 547h1M104 547h1M6 549h1M12 549h1M15 549h1M36 549h1M44 549h1M51 549h1M69 549h1M72 549h1M79 549h1M87 549h2M90 549h1M93 549h1M98 549h1M130 549h1M150 549h1M15 552h2M34 552h1M43 552h1M60 552h1M69 552h2M73 552h2M85 552h1M94 552h1M108 552h1M145 552h1M7 554h1M12 554h1M38 554h1M51 554h1M54 554h1M73 554h1M96 554h1M102 554h1M117 554h1M121 554h1M155 554h1M14 556h1M19 556h1M22 556h1M26 556h2M37 556h1M42 556h1M46 556h1M55 556h1M57 556h1M67 556h1M78 556h1M83 556h1M97 556h1M101 556h1M103 556h1M107 556h1M119 556h1M121 556h1M130 556h1M6 558h1M16 558h2M23 558h2M33 558h1M43 558h2M48 558h1M61 558h1M70 558h1M79 558h1M92 558h1M94 558h1M97 558h1M102 558h1M113 558h1M9 560h1M11 560h1M27 560h1M41 560h1M49 560h1M51 560h1M57 560h1M59 560h1M62 560h1M68 560h1M88 560h1M95 560h1M105 560h1M108 560h1M8 563h1M37 563h1M39 563h4M47 563h1M54 563h1M57 563h1M78 563h1M84 563h2M87 563h1M105 563h1M36 565h1M39 565h2M43 565h3M50 565h1M91 565h1M93 565h1M97 565h1M99 565h1M102 565h1M110 565h1M115 565h1M119 565h1M14 567h1M16 567h1M18 567h1M27 567h1M37 567h1M46 567h1M69 567h1M72 567h1M78 567h1M91 567h1M94 567h1M101 567h1M103 567h1M115 567h1M123 567h1M5 569h2M14 569h1M21 569h1M23 569h1M29 569h1M37 569h1M48 569h1M50 569h1M54 569h1M70 569h1M74 569h1M86 569h1M92 569h1M103 569h1M119 569h1M123 569h1M13 572h2M19 572h1M35 572h1M47 572h1M50 572h1M53 572h1M62 572h1M64 572h1M82 572h1M84 572h1M100 572h1M103 572h1M115 572h1M8 574h1M13 574h1M26 574h2M29 574h1M31 574h2M54 574h1M56 574h1M66 574h1M73 574h1M77 574h2M81 574h3M86 574h1M92 574h1M98 574h2M102 574h1M104 574h1M113 574h1M121 574h1M140 574h1M8 576h1M15 576h1M28 576h1M32 576h1M37 576h1M49 576h1M58 576h2M61 576h2M73 576h1M76 576h1M82 576h2M89 576h1M91 576h1M98 576h1M123 576h1M130 576h1M145 576h1M150 576h1M14 578h1M17 578h1M20 578h2M26 578h3M35 578h1M40 578h1M48 578h1M52 578h1M65 578h1M75 578h1M93 578h1M97 578h1M109 578h1M113 578h1M130 578h1M12 580h1M18 580h2M26 580h1M31 580h1M33 580h1M44 580h1M46 580h1M56 580h1M79 580h1M83 580h1M93 580h2M115 580h1M117 580h1M121 580h1M123 580h1M125 580h1M130 580h1M135 580h1M140 580h1M9 583h1M11 583h1M17 583h1M24 583h1M34 583h1M42 583h1M55 583h1M57 583h1M66 583h2M73 583h1M83 583h2M99 583h2M117 583h1M5 585h1M17 585h1M26 585h1M30 585h1M34 585h1M40 585h1M54 585h1M57 585h1M69 585h1M76 585h1M80 585h1M84 585h1M97 585h1M123 585h1M130 585h1M150 585h1M6 587h1M16 587h2M20 587h1M23 587h1M37 587h1M48 587h1M52 587h1M54 587h1M70 587h1M95 587h1M100 587h1M102 587h1M111 587h1M113 587h1M115 587h1M125 587h1M130 587h1M140 587h1M14 589h1M20 589h1M33 589h2M42 589h1M44 589h1M50 589h2M55 589h1M61 589h1M74 589h1M79 589h1M85 589h1M98 589h1M108 589h1M110 589h2M115 589h1M119 589h1M21 592h1M34 592h1M39 592h1M44 592h1M59 592h1M62 592h1M66 592h1M70 592h1M76 592h2M84 592h1M92 592h1M97 592h1M108 592h1M5 594h1M15 594h1M28 594h1M33 594h1M41 594h1M44 594h1M50 594h1M64 594h1M66 594h1M70 594h1M89 594h1M101 594h1M105 594h1M117 594h1M6 596h1M25 596h1M34 596h1M41 596h2M64 596h1M67 596h1M78 596h1M84 596h1M97 596h1M115 596h1M123 596h1M140 596h1M7 598h1M42 598h2M46 598h1M53 598h1M85 598h1M90 598h1M102 598h1M104 598h1M115 598h1M117 598h1M135 598h1M11 601h1M14 601h1M20 601h1M26 601h1M40 601h1M45 601h1M50 601h1M56 601h2M59 601h1M61 601h1M64 601h1M76 601h1M80 601h1M87 601h1M93 601h1M109 601h1M145 601h1M8 603h1M10 603h1M22 603h1M24 603h1M46 603h1M56 603h1M63 603h1M75 603h1M97 603h1M9 605h2M12 605h1M17 605h2M24 605h1M62 605h1M65 605h4M71 605h1M78 605h1M82 605h1M90 605h1M92 605h1M99 605h2M115 605h1M135 605h1M12 607h1M23 607h1M34 607h2M46 607h1M52 607h1M73 607h1M76 607h1M82 607h1M88 607h1M94 607h1M18 609h1M41 609h1M59 609h1M64 609h1M67 609h1M82 609h1M104 609h1M110 609h1M121 609h1M5 612h1M7 612h1M15 612h1M20 612h1M23 612h1M26 612h1M28 612h1M46 612h1M50 612h2M70 612h1M74 612h1M78 612h1M84 612h1M86 612h1M90 612h1M103 612h1M23 614h3M36 614h1M50 614h1M62 614h1M64 614h1M71 614h1M75 614h1M86 614h1M98 614h4M104 614h1M121 614h1M18 616h1M20 616h1M26 616h1M28 616h2M31 616h1M38 616h1M46 616h1M61 616h1M73 616h1M86 616h1M93 616h3M109 616h1M13 618h1M17 618h1M22 618h1M27 618h1M29 618h1M44 618h1M54 618h2M57 618h1M69 618h1M72 618h1M76 618h2M86 618h1M90 618h1M92 618h1M97 618h1M100 618h1M135 618h1M7 621h1M12 621h1M31 621h1M33 621h2M42 621h2M54 621h1M72 621h1M80 621h2M91 621h1M93 621h2M96 621h1M99 621h1M109 621h2M115 621h1M119 621h1M123 621h1M8 623h1M28 623h1M31 623h1M35 623h1M40 623h1M43 623h2M56 623h1M60 623h1M76 623h1M81 623h1M83 623h1M86 623h1M89 623h1M91 623h1M93 623h1M110 623h1M113 623h1M115 623h1M17 625h1M33 625h3M41 625h2M54 625h1M57 625h1M62 625h1M67 625h1M70 625h1M83 625h1M86 625h1M90 625h1M125 625h1M54 627h1M67 627h1M69 627h1M73 627h1M75 627h1M82 627h1M86 627h1M96 627h1M106 627h1M121 627h1M150 627h1M5 629h1M24 629h2M30 629h3M36 629h1M40 629h1M50 629h2M62 629h1M65 629h1M74 629h1M92 629h1M101 629h1M104 629h1M109 629h1M140 629h1M17 632h2M23 632h1M27 632h1M34 632h1M38 632h1M41 632h1M43 632h1M59 632h1M63 632h1M74 632h1M93 632h1M97 632h1M99 632h1M105 632h1M7 634h2M14 634h1M25 634h1M31 634h1M35 634h1M37 634h1M47 634h1M62 634h2M66 634h1M71 634h1M74 634h1M77 634h1M81 634h2M89 634h1M92 634h1M97 634h2M104 634h1M5 636h1M12 636h1M39 636h2M42 636h1M52 636h1M65 636h1M67 636h1M73 636h1M75 636h2M81 636h1M85 636h1M92 636h1M97 636h3M101 636h2M106 636h3M111 636h1M123 636h1M125 636h1M130 636h1M150 636h1M155 636h1M5 638h1M7 638h1M22 638h2M47 638h1M62 638h1M86 638h1M88 638h1M90 638h1M105 638h3M145 638h1M11 641h1M22 641h1M35 641h1M43 641h1M46 641h2M56 641h2M61 641h1M67 641h1M71 641h1M74 641h2M82 641h1M87 641h1M103 641h3M110 641h2M121 641h1M123 641h1M150 641h1M9 643h1M12 643h1M17 643h1M24 643h1M26 643h1M40 643h1M46 643h1M51 643h1M76 643h2M87 643h1M92 643h1M97 643h1M113 643h1M123 643h1M7 645h1M15 645h1M19 645h1M34 645h1M36 645h1M39 645h1M50 645h4M76 645h1M80 645h1M85 645h2M102 645h1M106 645h1M111 645h1M150 645h1M5 647h1M10 647h1M13 647h1M20 647h1M25 647h1M44 647h1M49 647h1M59 647h1M76 647h2M82 647h1M96 647h1M98 647h1M107 647h1M109 647h1M115 647h1M135 647h1M140 647h1M150 647h1M15 650h1M20 650h1M29 650h3M36 650h1M40 650h1M45 650h2M59 650h2M80 650h1M90 650h1M101 650h1M111 650h1M130 650h1M8 652h1M15 652h1M28 652h1M37 652h1M49 652h1M55 652h1M69 652h1M71 652h1M73 652h1M80 652h1M96 652h2M135 652h1M5 654h1M20 654h1M22 654h1M26 654h1M36 654h1M44 654h1M49 654h1M55 654h1M59 654h2M73 654h1M135 654h1M140 654h1M150 654h1M13 656h1M22 656h1M32 656h1M34 656h2M62 656h1M98 656h1M104 656h1M125 656h1M16 658h1M35 658h1M51 658h1M66 658h1M76 658h1M81 658h1M86 658h1M100 658h1M104 658h1M106 658h1M109 658h1M119 658h1M155 658h1M6 661h1M8 661h1M13 661h3M17 661h1M40 661h1M45 661h1M61 661h1M66 661h1M73 661h1M80 661h1M99 661h1M108 661h1M6 663h1M11 663h1M26 663h1M29 663h1M49 663h3M74 663h1M78 663h1M88 663h1M96 663h1M103 663h1M105 663h1M110 663h1M113 663h1M119 663h1M150 663h1M20 665h1M40 665h1M43 665h1M46 665h1M51 665h1M54 665h2M72 665h1M75 665h3M82 665h2M90 665h1M95 665h2M99 665h1M103 665h1M117 665h1M121 665h1M20 667h1M32 667h1M43 667h1M52 667h1M54 667h1M57 667h1M64 667h1M78 667h1M80 667h1M91 667h1M94 667h2M100 667h1M108 667h1M115 667h1M5 670h1M26 670h1M41 670h1M50 670h1M54 670h1M66 670h2M73 670h1M98 670h1M101 670h1M108 670h1M113 670h1M123 670h1M135 670h1M8 672h1M10 672h2M17 672h1M22 672h1M24 672h1M34 672h1M39 672h1M52 672h1M57 672h1M67 672h1M72 672h1M86 672h1M94 672h1M96 672h1M99 672h2M102 672h1M104 672h1M113 672h1M121 672h1M16 674h2M22 674h1M29 674h2M39 674h1M51 674h1M55 674h1M67 674h1M71 674h1M75 674h1M87 674h1M97 674h1M101 674h1M107 674h1M115 674h1M121 674h1M150 674h1M9 676h1M18 676h1M20 676h1M22 676h1M27 676h1M39 676h1M75 676h1M135 676h1M12 679h1M28 679h1M35 679h1M42 679h1M45 679h2M49 679h2M53 679h1M56 679h2M80 679h1M90 679h1M99 679h1M119 679h1M130 679h1M13 681h2M22 681h1M24 681h1M39 681h1M41 681h1M46 681h1M59 681h1M66 681h1M73 681h1M86 681h1M94 681h1M98 681h1M100 681h1M106 681h1M155 681h1M6 683h1M11 683h1M19 683h1M22 683h1M25 683h1M33 683h1M46 683h1M50 683h1M54 683h2M59 683h1M61 683h1M65 683h1M67 683h1M77 683h1M81 683h2M84 683h1M86 683h1M90 683h1M106 683h1M108 683h1M19 685h1M28 685h1M41 685h1M47 685h1M55 685h1M63 685h1M70 685h1M75 685h1M85 685h1M98 685h1M117 685h1M155 685h1M6 687h1M30 687h1M32 687h1M43 687h1M48 687h1M50 687h1M54 687h1M61 687h1M64 687h1M67 687h1M86 687h1M89 687h1M93 687h1M106 687h1M111 687h1M119 687h1M6 690h1M9 690h1M13 690h1M26 690h1M32 690h1M35 690h1M59 690h1M64 690h1M73 690h1M82 690h1M87 690h2M101 690h1M110 690h1M113 690h1M115 690h1M121 690h1M18 692h1M22 692h1M26 692h1M32 692h1M36 692h1M47 692h1M74 692h1M91 692h1M95 692h1M100 692h1M104 692h1M6 694h1M10 694h1M27 694h1M29 694h1M31 694h3M37 694h1M39 694h1M42 694h1M48 694h1M52 694h2M55 694h1M57 694h1M63 694h1M107 694h1M121 694h1M145 694h1M5 696h1M17 696h1M20 696h1M36 696h1M48 696h1M51 696h1M56 696h2M61 696h1M65 696h1M72 696h1M98 696h1M104 696h1M117 696h1M119 696h1M121 696h1M155 696h1M22 699h2M42 699h1M44 699h1M59 699h1M63 699h1M69 699h1M72 699h1M74 699h1M89 699h1M99 699h1M101 699h1M108 699h1M121 699h1M150 699h1M17 701h1M29 701h1M42 701h1M46 701h1M56 701h3M65 701h3M70 701h2M74 701h1M84 701h1M89 701h1M93 701h1M96 701h1M101 701h1M103 701h1M110 701h1M135 701h1M140 701h1M145 701h1M12 703h2M33 703h1M37 703h1M46 703h1M50 703h1M52 703h1M55 703h1M58 703h1M65 703h1M69 703h1M73 703h1M75 703h1M88 703h2M104 703h1M107 703h2M111 703h1M119 703h1M150 703h1M155 703h1M8 705h1M17 705h1M21 705h1M34 705h1M41 705h1M45 705h1M61 705h1M63 705h1M73 705h1M100 705h1M113 705h1M119 705h1M19 707h1M25 707h1M28 707h1M32 707h1M59 707h2M66 707h1M84 707h1M86 707h1M94 707h1M98 707h1M121 707h1M135 707h1M145 707h1M5 710h1M8 710h1M12 710h1M22 710h1M44 710h1M47 710h1M59 710h1M62 710h1M75 710h1M80 710h1M86 710h1M97 710h1M107 710h1M119 710h1M145 710h1M8 712h1M14 712h1M23 712h1M57 712h1M69 712h1M73 712h1M75 712h1M89 712h1M94 712h1M96 712h1M100 712h1M103 712h1M123 712h1M130 712h1M9 714h1M13 714h1M20 714h1M29 714h2M39 714h1M57 714h1M91 714h1M111 714h1M125 714h1M135 714h1M140 714h1M150 714h1M155 714h1M13 716h1M29 716h1M39 716h1M53 716h4M58 716h1M62 716h1M70 716h1M82 716h1M100 716h1M155 716h1M26 719h2M35 719h1M38 719h1M46 719h1M66 719h1M71 719h1M77 719h1M88 719h1M93 719h1M98 719h1M103 719h1M115 719h1M155 719h1M12 721h1M15 721h1M27 721h1M30 721h1M46 721h2M49 721h1M90 721h2M95 721h1M99 721h1M145 721h1M5 723h1M15 723h1M17 723h1M19 723h2M28 723h2M35 723h1M39 723h1M42 723h1M50 723h2M55 723h1M70 723h1M81 723h1M88 723h1M103 723h1M113 723h1M150 723h1M5 725h1M24 725h1M26 725h1M28 725h1M33 725h1M51 725h1M56 725h1M67 725h1M79 725h1M87 725h1M98 725h1M130 725h1M7 728h1M22 728h1M37 728h1M45 728h1M51 728h2M56 728h1M62 728h1M65 728h1M73 728h1M98 728h1M103 728h1M108 728h1M130 728h1M11 730h1M13 730h1M15 730h1M17 730h1M19 730h1M21 730h1M42 730h1M71 730h1M84 730h1M150 730h1M5 732h1M9 732h1M13 732h1M28 732h1M34 732h1M53 732h2M57 732h1M64 732h1M99 732h1M102 732h1M104 732h1M16 734h1M29 734h1M35 734h2M66 734h1M72 734h1M74 734h1M79 734h1M83 734h1M101 734h1M103 734h1M135 734h1M150 734h1M6 736h1M14 736h1M16 736h1M24 736h2M36 736h1M45 736h1M47 736h1M58 736h1M75 736h1M89 736h1M92 736h1M94 736h1M119 736h1M121 736h1M28 739h2M31 739h1M34 739h2M39 739h4M50 739h1M64 739h2M78 739h1M82 739h1M104 739h1M106 739h1M135 739h1M20 741h1M40 741h1M48 741h1M61 741h1M65 741h1M80 741h1M103 741h1M110 741h2M113 741h1M115 741h1M123 741h1M150 741h1M17 743h1M19 743h1M23 743h1M28 743h1M41 743h1M46 743h1M51 743h1M53 743h2M58 743h1M70 743h1M72 743h1M76 743h2M81 743h1M84 743h1M86 743h1M88 743h1M95 743h2M135 743h1M145 743h1M5 745h1M12 745h1M16 745h1M24 745h1M27 745h1M30 745h1M35 745h1M52 745h2M55 745h1M58 745h1M60 745h1M72 745h2M75 745h1M83 745h1M88 745h1M100 745h1M105 745h1M121 745h1M123 745h1M135 745h1M11 748h1M18 748h1M22 748h1M24 748h1M27 748h1M41 748h1M51 748h1M53 748h1M59 748h1M72 748h2M75 748h1M78 748h1M92 748h1M94 748h2M150 748h1M34 750h1M55 750h1M57 750h1M64 750h2M67 750h1M69 750h1M80 750h1M96 750h1M155 750h1M28 752h1M44 752h1M50 752h1M58 752h1M68 752h1M76 752h1M99 752h1M121 752h1M135 752h1M140 752h1M155 752h1M26 754h1M56 754h1M58 754h1M61 754h2M75 754h2M90 754h1M95 754h1M115 754h1M121 754h1M125 754h1M130 754h1M5 756h1M19 756h1M23 756h1M38 756h1M42 756h1M54 756h1M63 756h2M75 756h1M79 756h1M81 756h1M86 756h1M9 759h1M19 759h2M24 759h1M26 759h1M65 759h1M92 759h1M94 759h1M98 759h1M125 759h1M140 759h1M145 759h1M19 761h1M51 761h1M55 761h1M61 761h1M77 761h1M90 761h1M140 761h1M10 763h2M15 763h1M28 763h1M30 763h1M38 763h2M58 763h1M69 763h1M82 763h1M87 763h1M102 763h1M140 763h1M16 765h1M42 765h1M47 765h1M51 765h1M54 765h1M56 765h1M67 765h1M76 765h1M94 765h1M11 768h1M76 768h1M85 768h1M104 768h1M113 768h1M38 770h1M135 770h1M68 772h1M95 772h1M140 772h1M38 774h1M101 774h1M135 774h1M26 777h1M130 777h1M135 777h1M68 779h1M145 779h1M101 781h1M145 781h1M101 783h1M26 785h1M31 790h1M38 790h1M58 790h1M32 797h1"/>
<path stroke="#481a6c" d="M8 88h1M10 88h1M13 88h1M17 88h1M23 88h1M26 88h1M28 88h1M32 88h1M39 88h2M45 88h2M53 88h2M62 88h1M74 88h1M80 88h1M83 88h1M96 88h1M121 88h1M135 88h1M10 90h1M16 90h1M32 90h1M43 90h1M49 90h2M54 90h1M66 90h1M73 90h2M78 90h1M96 90h1M115 90h1M125 90h1M135 90h1M11 93h1M15 93h1M19 93h1M21 93h1M25 93h1M30 93h1M38 93h1M41 93h1M44 93h1M50 93h2M59 93h1M63 93h1M67 93h2M72 93h2M84 93h2M92 93h1M96 93h1M99 93h1M108 93h1M121 93h1M10 95h1M15 95h1M37 95h2M41 95h1M54 95h1M56 95h1M72 95h1M78 95h1M83 95h2M104 95h1M106 95h1M119 95h1M125 95h1M155 95h1M26 97h1M40 97h1M44 97h1M54 97h1M75 97h1M83 97h1M85 97h2M98 97h1M104 97h1M115 97h1M20 99h1M26 99h1M42 99h1M47 99h1M54 99h1M59 99h1M62 99h1M64 99h1M72 99h1M75 99h1M84 99h1M90 99h1M100 99h1M113 99h1M150 99h1M11 101h1M15 101h1M22 101h1M41 101h1M53 101h1M55 101h1M57 101h1M65 101h1M74 101h1M87 101h1M91 101h2M102 101h2M109 101h1M123 101h1M125 101h1M9 104h1M11 104h1M19 104h1M21 104h1M25 104h1M34 104h2M51 104h1M53 104h1M56 104h1M76 104h1M84 104h1M86 104h1M98 104h1M113 104h1M140 104h1M8 106h2M21 106h1M40 106h1M44 106h1M48 106h1M52 106h1M67 106h1M77 106h1M82 106h1M89 106h1M96 106h1M101 106h1M121 106h1M16 108h1M27 108h1M30 108h1M34 108h1M49 108h1M73 108h1M82 108h1M96 108h1M100 108h2M11 110h1M18 110h1M21 110h2M30 110h1M43 110h1M66 110h1M72 110h1M82 110h1M98 110h1M110 110h1M115 110h1M121 110h1M125 110h1M150 110h1M7 113h2M23 113h1M27 113h1M31 113h1M33 113h1M64 113h1M78 113h1M81 113h1M87 113h1M100 113h1M107 113h1M113 113h1M123 113h1M26 115h1M39 115h1M59 115h1M63 115h1M65 115h1M79 115h1M81 115h1M83 115h1M100 115h1M104 115h1M106 115h2M125 115h1M130 115h1M6 117h1M20 117h1M50 117h1M53 117h1M58 117h1M67 117h1M72 117h1M82 117h1M88 117h1M92 117h2M96 117h1M99 117h1M109 117h1M13 119h1M39 119h1M43 119h1M52 119h1M55 119h1M82 119h1M111 119h1M7 121h1M29 121h2M36 121h1M40 121h1M43 121h1M47 121h1M51 121h1M53 121h1M58 121h1M60 121h1M62 121h1M66 121h1M99 121h1M8 124h1M11 124h1M16 124h1M28 124h1M38 124h1M46 124h1M54 124h2M60 124h1M69 124h2M85 124h1M99 124h1M105 124h1M12 126h1M18 126h1M28 126h1M41 126h1M66 126h1M75 126h1M79 126h1M84 126h2M87 126h1M130 126h1M11 128h1M19 128h1M25 128h1M36 128h1M53 128h1M55 128h1M71 128h1M81 128h1M92 128h1M106 128h1M108 128h1M125 128h1M155 128h1M31 130h1M49 130h2M57 130h1M61 130h1M65 130h2M83 130h3M108 130h1M110 130h1M121 130h1M16 133h1M35 133h1M44 133h1M46 133h1M54 133h1M56 133h1M61 133h1M67 133h1M74 133h1M85 133h1M92 133h1M94 133h1M107 133h1M110 133h1M121 133h1M123 133h1M135 133h1M12 135h1M16 135h2M22 135h1M32 135h1M38 135h1M44 135h1M63 135h1M69 135h1M76 135h1M80 135h1M86 135h1M108 135h1M125 135h1M135 135h1M18 137h1M20 137h1M24 137h1M34 137h1M37 137h1M39 137h1M45 137h1M56 137h1M59 137h1M74 137h2M78 137h1M83 137h1M89 137h1M92 137h1M105 137h1M107 137h1M109 137h1M130 137h1M7 139h1M16 139h1M21 139h3M36 139h1M44 139h1M59 139h1M65 139h1M76 139h2M87 139h1M96 139h1M100 139h2M108 139h1M130 139h1M5 142h1M17 142h1M24 142h1M26 142h2M30 142h1M33 142h1M58 142h1M66 142h1M69 142h1M71 142h2M78 142h1M99 142h1M104 142h1M117 142h1M123 142h1M8 144h1M10 144h1M12 144h1M43 144h1M48 144h1M57 144h2M67 144h1M74 144h2M77 144h1M85 144h1M87 144h2M110 144h1M115 144h1M10 146h1M16 146h1M33 146h1M35 146h1M43 146h1M74 146h1M76 146h1M83 146h1M87 146h1M99 146h2M121 146h1M155 146h1M9 148h1M17 148h1M25 148h1M27 148h1M37 148h1M41 148h1M52 148h1M56 148h1M60 148h1M66 148h1M73 148h1M88 148h1M91 148h1M96 148h2M106 148h2M121 148h1M125 148h1M155 148h1M19 150h1M23 150h1M29 150h1M33 150h1M35 150h1M40 150h1M45 150h1M50 150h1M80 150h2M90 150h1M121 150h1M135 150h1M6 153h1M18 153h1M20 153h1M22 153h1M30 153h1M38 153h1M66 153h1M68 153h2M83 153h1M87 153h1M90 153h1M95 153h1M105 153h1M107 153h1M140 153h1M10 155h2M69 155h1M79 155h1M83 155h1M93 155h1M96 155h1M99 155h1M101 155h1M108 155h1M117 155h1M119 155h1M150 155h1M155 155h1M10 157h1M15 157h1M22 157h1M30 157h1M34 157h1M37 157h1M67 157h1M78 157h1M84 157h1M91 157h1M96 157h2M104 157h1M108 157h1M117 157h1M10 159h1M13 159h1M20 159h1M22 159h1M32 159h1M39 159h1M46 159h1M72 159h1M96 159h1M123 159h1M7 162h1M19 162h1M44 162h1M49 162h1M54 162h1M63 162h1M84 162h1M87 162h1M107 162h1M113 162h1M117 162h1M9 164h1M23 164h1M25 164h1M35 164h2M39 164h1M41 164h1M45 164h1M51 164h1M62 164h1M67 164h2M76 164h1M85 164h1M88 164h2M93 164h1M96 164h1M135 164h1M12 166h1M16 166h1M18 166h1M22 166h1M26 166h1M31 166h1M36 166h1M52 166h1M59 166h2M62 166h4M67 166h1M80 166h1M82 166h1M88 166h1M98 166h1M104 166h1M135 166h1M140 166h1M155 166h1M11 168h1M17 168h1M24 168h1M30 168h1M50 168h1M78 168h1M81 168h1M98 168h1M100 168h1M107 168h1M125 168h1M15 171h1M31 171h1M49 171h1M54 171h1M65 171h1M71 171h1M76 171h1M81 171h1M94 171h1M96 171h1M104 171h1M150 171h1M15 173h1M24 173h3M32 173h2M46 173h1M49 173h1M53 173h1M72 173h3M77 173h1M84 173h1M99 173h1M135 173h1M145 173h1M155 173h1M27 175h1M31 175h1M37 175h1M47 175h1M53 175h1M56 175h1M69 175h1M85 175h1M102 175h1M113 175h1M135 175h1M145 175h1M155 175h1M8 177h2M27 177h2M35 177h1M37 177h1M46 177h3M50 177h1M55 177h1M65 177h1M74 177h1M83 177h1M87 177h1M108 177h1M111 177h1M113 177h1M119 177h1M8 179h1M20 179h1M23 179h1M35 179h1M45 179h1M47 179h1M53 179h1M55 179h1M67 179h1M82 179h1M84 179h1M89 179h1M92 179h1M96 179h1M100 179h1M12 182h1M18 182h1M25 182h1M28 182h2M40 182h1M80 182h1M99 182h1M135 182h1M5 184h1M7 184h1M9 184h1M11 184h1M15 184h1M45 184h1M56 184h1M81 184h1M104 184h1M119 184h1M140 184h1M155 184h1M16 186h1M21 186h1M25 186h2M49 186h1M54 186h1M58 186h1M61 186h1M68 186h1M72 186h1M74 186h1M90 186h1M94 186h1M104 186h1M115 186h1M123 186h1M12 188h2M25 188h1M27 188h1M41 188h1M48 188h1M54 188h1M66 188h1M72 188h2M81 188h1M86 188h1M92 188h1M102 188h1M107 188h2M11 191h1M20 191h1M25 191h1M39 191h1M43 191h1M46 191h1M53 191h1M63 191h2M69 191h1M92 191h1M100 191h2M121 191h1M125 191h1M130 191h1M13 193h1M15 193h1M23 193h1M29 193h1M34 193h1M53 193h1M64 193h2M77 193h1M83 193h1M86 193h2M100 193h2M104 193h1M109 193h1M113 193h1M121 193h1M123 193h1M9 195h1M12 195h1M15 195h3M24 195h1M29 195h1M46 195h1M52 195h1M60 195h1M73 195h1M76 195h1M91 195h2M117 195h1M130 195h1M11 197h1M13 197h1M19 197h1M23 197h3M56 197h1M72 197h1M84 197h1M88 197h1M96 197h1M103 197h1M106 197h1M119 197h1M5 199h1M8 199h1M10 199h1M13 199h1M33 199h1M47 199h2M58 199h1M63 199h1M70 199h1M92 199h1M99 199h2M104 199h1M106 199h1M110 199h1M115 199h1M121 199h1M150 199h1M6 202h1M9 202h1M30 202h1M37 202h1M42 202h2M45 202h1M49 202h1M53 202h1M85 202h1M87 202h1M93 202h1M103 202h1M106 202h1M119 202h1M9 204h1M15 204h1M37 204h2M52 204h2M56 204h1M61 204h1M72 204h1M77 204h1M105 204h1M108 204h1M10 206h2M15 206h1M20 206h2M44 206h1M50 206h1M62 206h1M72 206h1M93 206h1M98 206h1M111 206h1M113 206h1M121 206h1M5 208h1M15 208h1M18 208h1M40 208h1M46 208h1M50 208h1M56 208h1M59 208h1M82 208h1M93 208h1M110 208h1M117 208h1M5 211h1M20 211h1M33 211h1M36 211h1M39 211h1M44 211h1M53 211h1M73 211h1M87 211h1M93 211h1M108 211h1M113 211h1M117 211h1M155 211h1M8 213h1M12 213h2M40 213h1M50 213h1M73 213h2M85 213h1M92 213h1M96 213h1M106 213h1M110 213h1M123 213h1M130 213h1M135 213h1M15 215h1M34 215h1M43 215h1M50 215h1M66 215h1M73 215h1M83 215h1M89 215h1M93 215h1M104 215h1M110 215h1M121 215h1M18 217h1M26 217h1M32 217h1M46 217h2M54 217h2M62 217h1M67 217h1M73 217h1M76 217h1M89 217h1M100 217h1M102 217h1M110 217h1M113 217h1M115 217h1M130 217h1M140 217h1M150 217h1M11 220h1M25 220h1M28 220h1M33 220h1M41 220h1M45 220h1M65 220h1M71 220h1M80 220h1M82 220h1M94 220h1M96 220h1M100 220h1M115 220h1M117 220h1M121 220h1M123 220h1M6 222h1M11 222h1M18 222h1M30 222h1M33 222h1M39 222h1M43 222h1M45 222h1M59 222h1M61 222h1M66 222h1M97 222h1M150 222h1M5 224h1M9 224h1M30 224h1M37 224h1M40 224h3M44 224h1M52 224h1M56 224h2M62 224h1M69 224h2M85 224h1M87 224h1M96 224h2M111 224h1M113 224h1M119 224h1M5 226h1M8 226h1M13 226h1M17 226h1M21 226h1M24 226h1M27 226h1M57 226h1M62 226h1M69 226h1M84 226h1M86 226h1M110 226h2M113 226h1M121 226h1M5 228h1M16 228h1M24 228h1M27 228h1M47 228h1M61 228h1M71 228h1M82 228h1M84 228h1M88 228h1M93 228h1M115 228h1M9 231h1M16 231h1M18 231h1M23 231h1M47 231h1M50 231h1M69 231h1M94 231h1M102 231h1M6 233h1M19 233h1M32 233h3M56 233h1M72 233h1M83 233h1M89 233h1M91 233h1M100 233h1M130 233h1M145 233h1M17 235h1M23 235h1M27 235h1M42 235h2M52 235h1M71 235h1M74 235h1M78 235h1M80 235h1M83 235h1M89 235h1M99 235h1M105 235h1M113 235h1M155 235h1M12 237h1M25 237h1M34 237h1M38 237h1M49 237h1M57 237h1M69 237h1M83 237h2M91 237h1M94 237h1M8 240h2M15 240h1M27 240h1M35 240h1M39 240h1M43 240h1M51 240h1M56 240h1M61 240h1M67 240h1M69 240h1M91 240h1M106 240h1M110 240h1M19 242h1M31 242h1M34 242h1M37 242h2M52 242h1M55 242h1M69 242h1M77 242h1M79 242h1M85 242h1M93 242h1M103 242h1M110 242h1M115 242h1M121 242h1M123 242h1M150 242h1M8 244h1M24 244h1M39 244h1M64 244h1M67 244h1M76 244h2M82 244h1M93 244h1M107 244h1M115 244h1M119 244h1M121 244h1M130 244h1M7 246h1M20 246h2M23 246h1M30 246h2M36 246h1M92 246h1M102 246h1M104 246h1M123 246h1M130 246h1M7 248h1M10 248h1M23 248h2M28 248h1M32 248h1M40 248h1M52 248h1M80 248h1M82 248h1M103 248h1M109 248h1M121 248h1M130 248h1M150 248h1M10 251h1M13 251h2M19 251h1M21 251h1M39 251h1M41 251h1M43 251h1M51 251h2M61 251h1M71 251h1M92 251h1M111 251h1M125 251h1M150 251h1M155 251h1M8 253h1M24 253h1M27 253h1M29 253h1M31 253h1M34 253h2M40 253h2M52 253h1M61 253h1M67 253h1M69 253h1M74 253h1M97 253h1M99 253h2M104 253h1M107 253h1M140 253h1M150 253h1M155 253h1M5 255h1M9 255h1M18 255h1M23 255h1M29 255h1M31 255h2M37 255h1M43 255h1M52 255h1M54 255h1M64 255h1M66 255h1M71 255h1M76 255h1M89 255h1M94 255h1M98 255h1M119 255h1M123 255h1M7 257h1M17 257h1M25 257h1M32 257h1M37 257h2M53 257h1M58 257h1M62 257h1M66 257h2M81 257h2M91 257h1M93 257h1M98 257h1M103 257h1M107 257h1M113 257h1M117 257h1M145 257h1M14 260h1M28 260h1M38 260h1M48 260h1M56 260h1M70 260h1M74 260h1M82 260h1M101 260h2M104 260h1M110 260h1M123 260h1M5 262h1M7 262h1M12 262h2M16 262h1M20 262h1M23 262h1M26 262h1M40 262h1M56 262h1M60 262h1M73 262h1M80 262h1M84 262h1M86 262h1M103 262h1M105 262h1M107 262h1M10 264h2M22 264h1M24 264h1M43 264h1M53 264h1M56 264h1M60 264h1M78 264h1M92 264h3M97 264h1M115 264h1M145 264h1M19 266h1M41 266h1M43 266h1M52 266h2M55 266h1M83 266h1M86 266h1M90 266h1M100 266h1M113 266h1M135 266h1M5 269h1M8 269h1M10 269h1M25 269h1M44 269h1M55 269h2M59 269h1M93 269h2M107 269h1M121 269h1M7 271h1M22 271h1M33 271h1M42 271h1M44 271h1M46 271h1M50 271h1M64 271h1M67 271h1M69 271h1M71 271h1M76 271h1M81 271h1M103 271h2M108 271h1M113 271h1M117 271h1M11 273h1M23 273h1M32 273h1M39 273h1M50 273h1M56 273h1M63 273h1M71 273h1M74 273h1M98 273h1M101 273h1M107 273h1M115 273h1M150 273h1M18 275h1M20 275h1M34 275h1M37 275h1M45 275h1M66 275h1M72 275h1M83 275h1M97 275h1M117 275h1M130 275h1M155 275h1M14 277h1M19 277h1M23 277h1M28 277h1M33 277h1M37 277h1M51 277h1M67 277h1M83 277h1M86 277h1M91 277h1M93 277h1M97 277h1M104 277h3M23 280h2M49 280h1M65 280h1M68 280h1M83 280h1M89 280h1M93 280h1M96 280h1M99 280h1M107 280h1M111 280h1M123 280h1M7 282h1M13 282h1M20 282h1M23 282h1M26 282h1M45 282h1M48 282h2M62 282h1M76 282h1M82 282h1M87 282h1M121 282h1M123 282h1M12 284h1M16 284h1M35 284h1M63 284h1M65 284h1M74 284h1M78 284h1M150 284h1M14 286h1M17 286h1M19 286h1M24 286h1M31 286h1M33 286h3M39 286h2M43 286h1M47 286h1M61 286h1M65 286h1M67 286h1M75 286h1M79 286h1M83 286h1M94 286h1M113 286h1M135 286h1M12 289h1M27 289h1M30 289h1M47 289h1M53 289h1M63 289h1M70 289h1M77 289h1M83 289h1M109 289h1M121 289h1M140 289h1M17 291h1M31 291h1M77 291h2M82 291h1M90 291h1M97 291h2M105 291h2M108 291h1M140 291h1M8 293h1M22 293h1M24 293h2M30 293h1M32 293h1M61 293h1M80 293h1M82 293h1M90 293h1M94 293h1M109 293h1M145 293h1M150 293h1M35 295h1M45 295h1M56 295h1M68 295h2M73 295h1M82 295h1M104 295h1M117 295h1M150 295h1M12 298h1M23 298h1M25 298h1M34 298h1M39 298h1M52 298h1M58 298h2M62 298h1M65 298h1M67 298h1M74 298h1M82 298h1M90 298h1M106 298h1M123 298h1M150 298h1M7 300h1M23 300h1M37 300h1M51 300h1M53 300h1M57 300h1M61 300h1M65 300h2M71 300h1M74 300h1M91 300h1M94 300h1M104 300h1M125 300h1M22 302h2M31 302h1M42 302h1M44 302h1M63 302h1M75 302h1M83 302h1M97 302h1M99 302h1M102 302h1M106 302h1M110 302h1M6 304h1M10 304h1M13 304h1M35 304h1M45 304h1M50 304h1M55 304h1M71 304h3M82 304h1M96 304h1M98 304h1M100 304h1M103 304h3M107 304h2M113 304h1M115 304h1M150 304h1M16 306h1M24 306h1M47 306h1M61 306h1M68 306h1M80 306h1M86 306h2M98 306h3M121 306h1M135 306h1M15 309h1M17 309h1M20 309h1M29 309h2M32 309h1M67 309h1M73 309h1M77 309h1M108 309h1M123 309h1M130 309h1M9 311h2M15 311h2M18 311h1M23 311h1M27 311h1M35 311h1M67 311h1M70 311h1M77 311h1M79 311h1M85 311h1M88 311h1M101 311h1M109 311h2M9 313h2M18 313h1M27 313h1M31 313h1M37 313h1M54 313h1M59 313h1M65 313h1M77 313h2M81 313h1M94 313h1M100 313h1M106 313h1M119 313h1M125 313h1M145 313h1M150 313h1M5 315h1M11 315h1M24 315h1M34 315h1M38 315h1M46 315h1M49 315h1M51 315h1M55 315h1M69 315h1M72 315h1M83 315h1M99 315h1M101 315h1M119 315h1M121 315h1M145 315h1M16 318h1M26 318h1M30 318h1M57 318h1M62 318h1M71 318h1M73 318h1M115 318h1M117 318h1M19 320h1M25 320h1M29 320h1M32 320h1M36 320h2M43 320h1M48 320h1M62 320h1M68 320h1M72 320h1M78 320h1M84 320h1M86 320h1M91 320h1M96 320h1M100 320h1M103 320h1M106 320h1M150 320h1M29 322h2M32 322h1M41 322h2M49 322h1M54 322h1M68 322h1M73 322h1M80 322h1M85 322h1M105 322h1M107 322h1M115 322h1M5 324h1M7 324h1M17 324h1M21 324h2M27 324h1M39 324h1M41 324h1M43 324h2M47 324h1M75 324h1M78 324h1M82 324h1M89 324h1M92 324h1M100 324h1M108 324h1M117 324h1M119 324h1M135 324h1M150 324h1M155 324h1M5 326h1M22 326h1M37 326h1M44 326h1M62 326h1M69 326h1M73 326h1M78 326h1M85 326h1M89 326h1M92 326h1M95 326h1M100 326h1M135 326h1M6 329h1M11 329h2M27 329h1M35 329h1M37 329h1M39 329h3M43 329h1M62 329h1M67 329h1M81 329h1M95 329h1M106 329h1M135 329h1M11 331h1M16 331h1M22 331h1M31 331h1M33 331h1M35 331h2M48 331h1M52 331h1M55 331h1M83 331h1M86 331h1M12 333h1M14 333h1M22 333h1M35 333h1M42 333h1M51 333h1M60 333h1M66 333h1M75 333h1M84 333h1M12 335h1M15 335h1M18 335h1M22 335h1M26 335h1M32 335h1M36 335h2M64 335h1M76 335h1M78 335h1M80 335h1M83 335h1M92 335h1M106 335h1M108 335h1M123 335h1M20 338h1M22 338h1M24 338h1M26 338h1M48 338h1M51 338h2M55 338h1M62 338h1M80 338h1M94 338h1M108 338h1M110 338h1M150 338h1M7 340h2M11 340h1M13 340h1M19 340h1M24 340h1M27 340h2M30 340h1M49 340h1M56 340h1M61 340h1M64 340h1M70 340h2M75 340h1M100 340h1M103 340h1M105 340h1M130 340h1M145 340h1M10 342h1M12 342h1M16 342h1M18 342h1M27 342h1M32 342h1M39 342h1M56 342h1M60 342h1M67 342h1M69 342h1M90 342h1M101 342h1M110 342h1M115 342h1M135 342h1M16 344h1M32 344h1M41 344h1M48 344h1M56 344h1M58 344h1M61 344h1M66 344h1M70 344h1M73 344h1M76 344h1M84 344h1M86 344h1M88 344h1M93 344h1M99 344h2M108 344h1M18 347h1M29 347h1M32 347h1M38 347h1M41 347h1M51 347h1M63 347h1M69 347h1M75 347h1M85 347h1M87 347h1M107 347h2M117 347h1M123 347h1M145 347h1M155 347h1M10 349h1M20 349h1M28 349h1M36 349h1M38 349h1M43 349h1M51 349h1M54 349h2M59 349h1M68 349h1M70 349h1M75 349h2M78 349h1M88 349h2M99 349h1M102 349h1M113 349h1M115 349h1M19 351h2M45 351h3M66 351h1M98 351h1M5 353h1M7 353h1M11 353h2M16 353h1M27 353h1M34 353h1M38 353h1M40 353h2M43 353h1M61 353h1M64 353h1M71 353h1M83 353h1M98 353h1M106 353h1M109 353h1M113 353h1M130 353h1M20 355h1M34 355h1M38 355h1M65 355h1M71 355h1M78 355h1M91 355h1M98 355h1M100 355h1M105 355h2M109 355h1M145 355h1M5 358h1M16 358h1M22 358h1M30 358h1M33 358h1M47 358h1M55 358h2M63 358h1M69 358h1M75 358h1M89 358h1M94 358h1M98 358h1M115 358h1M123 358h1M12 360h1M16 360h1M26 360h1M29 360h1M34 360h1M47 360h1M55 360h1M73 360h1M78 360h1M83 360h1M90 360h1M94 360h3M98 360h2M102 360h1M105 360h1M130 360h1M5 362h1M17 362h1M27 362h1M32 362h1M34 362h1M43 362h2M46 362h1M51 362h1M53 362h1M62 362h1M69 362h1M86 362h1M94 362h1M99 362h1M103 362h2M113 362h1M125 362h1M18 364h2M41 364h1M43 364h1M64 364h1M75 364h1M78 364h1M87 364h1M98 364h1M123 364h1M150 364h1M6 367h1M8 367h1M13 367h1M17 367h1M21 367h1M27 367h2M31 367h1M44 367h1M50 367h1M54 367h1M59 367h1M64 367h1M67 367h1M76 367h1M79 367h1M82 367h1M86 367h2M90 367h1M98 367h3M108 367h1M111 367h1M13 369h2M27 369h1M30 369h1M33 369h1M53 369h1M57 369h1M69 369h1M72 369h1M78 369h1M81 369h2M85 369h1M90 369h1M98 369h1M105 369h1M135 369h1M145 369h1M10 371h2M13 371h2M16 371h1M30 371h1M39 371h1M48 371h1M53 371h1M59 371h1M64 371h1M77 371h1M87 371h1M96 371h1M99 371h1M5 373h2M12 373h1M27 373h1M30 373h1M33 373h1M40 373h1M64 373h1M71 373h1M82 373h1M87 373h2M94 373h1M98 373h3M106 373h2M155 373h1M13 375h1M16 375h2M26 375h2M29 375h1M39 375h1M48 375h1M53 375h2M74 375h1M84 375h1M119 375h1M135 375h1M145 375h1M13 378h1M25 378h1M27 378h3M37 378h1M41 378h1M64 378h1M77 378h1M86 378h1M91 378h1M102 378h1M106 378h1M125 378h1M34 380h2M70 380h1M75 380h1M80 380h1M85 380h1M96 380h2M107 380h1M130 380h1M16 382h2M26 382h1M29 382h3M52 382h2M57 382h1M59 382h1M61 382h1M70 382h1M84 382h1M108 382h1M110 382h2M150 382h1M6 384h1M18 384h1M37 384h1M42 384h1M47 384h1M50 384h1M56 384h1M59 384h1M62 384h1M64 384h1M75 384h2M83 384h1M85 384h2M96 384h1M123 384h1M145 384h1M11 387h1M16 387h1M24 387h1M33 387h1M52 387h1M58 387h1M61 387h1M74 387h1M80 387h2M102 387h1M108 387h1M150 387h1M10 389h1M20 389h1M46 389h1M51 389h1M53 389h1M75 389h1M87 389h1M97 389h2M104 389h1M110 389h1M125 389h1M130 389h1M150 389h1M6 391h1M25 391h2M34 391h1M38 391h1M60 391h1M69 391h1M79 391h1M92 391h1M94 391h1M102 391h1M119 391h1M140 391h1M150 391h1M155 391h1M30 393h1M62 393h1M69 393h1M93 393h1M96 393h1M104 393h1M108 393h2M121 393h1M7 396h1M17 396h1M20 396h1M25 396h1M27 396h1M50 396h1M55 396h1M59 396h1M81 396h1M85 396h1M98 396h2M104 396h1M107 396h1M121 396h1M130 396h1M13 398h1M16 398h2M19 398h3M26 398h1M51 398h2M71 398h1M73 398h2M77 398h1M85 398h1M95 398h1M98 398h1M101 398h1M110 398h1M117 398h1M155 398h1M16 400h1M18 400h1M20 400h1M26 400h1M30 400h1M41 400h1M61 400h1M66 400h1M83 400h1M89 400h2M94 400h1M109 400h1M16 402h2M20 402h1M57 402h1M61 402h1M65 402h1M75 402h1M93 402h1M102 402h1M106 402h1M115 402h1M5 404h1M21 404h1M24 404h1M30 404h1M39 404h1M44 404h1M53 404h1M64 404h1M69 404h1M80 404h1M83 404h1M89 404h1M96 404h1M99 404h1M102 404h1M106 404h1M115 404h1M145 404h1M150 404h1M7 407h1M16 407h1M31 407h1M39 407h1M49 407h1M52 407h1M57 407h1M90 407h1M103 407h2M109 407h1M111 407h1M115 407h1M6 409h1M8 409h1M13 409h2M21 409h1M26 409h1M32 409h1M47 409h1M89 409h1M95 409h1M97 409h3M106 409h1M110 409h1M10 411h1M32 411h1M37 411h1M46 411h1M70 411h2M73 411h1M84 411h1M103 411h1M111 411h1M117 411h1M20 413h1M23 413h1M25 413h1M43 413h1M63 413h1M76 413h1M82 413h1M84 413h1M98 413h1M102 413h1M105 413h1M110 413h1M121 413h1M135 413h1M33 416h1M53 416h1M56 416h3M67 416h1M90 416h1M99 416h1M109 416h1M135 416h1M155 416h1M8 418h1M31 418h1M51 418h1M54 418h2M66 418h1M74 418h1M93 418h1M101 418h1M107 418h1M150 418h1M54 420h1M70 420h1M77 420h1M81 420h1M84 420h2M89 420h1M100 420h1M113 420h1M117 420h1M145 420h1M18 422h1M21 422h1M31 422h2M55 422h1M67 422h1M80 422h1M82 422h1M87 422h1M104 422h1M16 425h1M18 425h1M62 425h1M67 425h1M98 425h1M104 425h1M110 425h1M113 425h1M135 425h1M7 427h1M18 427h1M23 427h1M26 427h1M44 427h1M57 427h1M65 427h1M68 427h1M111 427h1M125 427h1M155 427h1M5 429h1M11 429h1M13 429h1M32 429h1M38 429h1M45 429h2M50 429h1M55 429h1M58 429h2M66 429h1M71 429h1M87 429h1M107 429h3M117 429h1M119 429h1M125 429h1M16 431h1M20 431h1M24 431h1M30 431h1M32 431h1M44 431h1M56 431h2M70 431h1M81 431h1M92 431h1M106 431h1M135 431h1M6 433h4M23 433h1M54 433h1M56 433h1M60 433h1M67 433h1M70 433h1M86 433h1M92 433h1M107 433h2M145 433h1M38 436h1M74 436h1M81 436h1M100 436h1M104 436h1M119 436h1M7 438h1M17 438h1M37 438h1M47 438h1M54 438h1M60 438h1M73 438h1M75 438h1M83 438h1M85 438h2M96 438h1M100 438h1M106 438h1M115 438h1M119 438h1M8 440h1M10 440h1M20 440h1M31 440h1M51 440h1M73 440h2M78 440h1M82 440h1M85 440h1M88 440h1M100 440h1M115 440h1M123 440h1M155 440h1M15 442h1M42 442h1M57 442h1M63 442h1M75 442h1M84 442h1M87 442h1M91 442h2M100 442h1M119 442h1M123 442h1M11 445h1M18 445h1M51 445h2M54 445h1M69 445h1M72 445h1M95 445h1M99 445h1M101 445h1M111 445h1M150 445h1M7 447h1M9 447h1M23 447h1M45 447h1M58 447h2M65 447h1M69 447h2M74 447h1M79 447h1M92 447h1M94 447h1M101 447h1M119 447h1M155 447h1M10 449h1M13 449h1M26 449h1M30 449h1M64 449h1M67 449h1M72 449h1M74 449h1M85 449h1M107 449h2M115 449h1M130 449h1M140 449h1M150 449h1M14 451h1M16 451h1M18 451h1M20 451h1M37 451h1M46 451h1M57 451h1M67 451h2M73 451h1M83 451h1M92 451h1M105 451h1M125 451h1M130 451h1M10 453h1M13 453h2M19 453h1M52 453h2M67 453h1M87 453h1M90 453h1M100 453h1M105 453h1M107 453h3M117 453h1M10 456h1M21 456h1M26 456h1M56 456h1M59 456h1M72 456h1M90 456h1M96 456h1M103 456h1M125 456h1M155 456h1M5 458h1M8 458h1M12 458h1M43 458h1M55 458h1M62 458h1M81 458h2M97 458h2M105 458h1M21 460h1M26 460h1M30 460h1M37 460h1M42 460h1M63 460h1M73 460h1M95 460h1M105 460h1M107 460h2M119 460h1M8 462h1M13 462h1M20 462h1M40 462h1M43 462h1M59 462h1M62 462h1M81 462h1M85 462h1M94 462h1M105 462h1M109 462h1M130 462h1M140 462h1M21 465h1M41 465h1M44 465h1M57 465h1M67 465h1M70 465h1M86 465h1M91 465h1M102 465h1M107 465h1M115 465h1M145 465h1M150 465h1M17 467h1M26 467h1M31 467h1M46 467h1M60 467h1M70 467h1M79 467h2M88 467h1M103 467h1M108 467h1M5 469h2M9 469h1M16 469h1M32 469h2M43 469h1M45 469h1M52 469h1M54 469h1M59 469h1M64 469h1M75 469h1M77 469h1M79 469h1M86 469h1M90 469h1M93 469h1M97 469h2M109 469h1M12 471h1M17 471h1M20 471h1M39 471h1M63 471h1M70 471h1M75 471h1M77 471h2M83 471h1M115 471h1M123 471h1M5 474h1M17 474h1M20 474h1M40 474h2M43 474h1M57 474h1M64 474h1M66 474h1M68 474h1M71 474h1M78 474h1M85 474h1M8 476h1M26 476h1M40 476h1M44 476h1M55 476h1M61 476h1M65 476h1M69 476h1M74 476h2M81 476h1M97 476h1M115 476h1M117 476h1M119 476h1M150 476h1M26 478h1M42 478h1M46 478h1M51 478h2M69 478h2M83 478h1M87 478h2M96 478h1M98 478h1M100 478h2M115 478h1M155 478h1M7 480h1M45 480h1M70 480h1M72 480h1M75 480h1M77 480h1M79 480h1M85 480h1M89 480h1M98 480h1M104 480h1M109 480h1M150 480h1M6 482h1M15 482h1M32 482h1M76 482h1M90 482h1M101 482h1M22 485h1M26 485h1M30 485h1M35 485h1M44 485h1M48 485h1M61 485h1M67 485h1M73 485h1M76 485h1M92 485h2M100 485h1M108 485h1M111 485h1M135 485h1M140 485h1M13 487h1M26 487h1M34 487h1M36 487h1M44 487h2M48 487h1M52 487h1M54 487h1M62 487h1M82 487h1M87 487h2M92 487h1M96 487h1M109 487h1M8 489h1M12 489h1M29 489h1M40 489h1M52 489h1M59 489h1M71 489h1M8 491h1M12 491h1M45 491h1M54 491h1M56 491h1M59 491h1M63 491h2M78 491h1M82 491h1M88 491h1M96 491h1M107 491h1M121 491h1M130 491h1M135 491h1M10 494h1M25 494h1M31 494h1M33 494h1M52 494h3M64 494h1M75 494h1M80 494h1M98 494h1M125 494h1M155 494h1M12 496h1M27 496h1M41 496h1M49 496h1M59 496h1M113 496h1M6 498h1M8 498h1M28 498h1M34 498h1M36 498h1M41 498h1M66 498h1M73 498h1M79 498h1M83 498h1M107 498h1M113 498h1M121 498h1M130 498h1M52 500h2M59 500h1M67 500h1M80 500h1M82 500h1M85 500h1M97 500h1M107 500h1M130 500h1M155 500h1M21 502h1M29 502h1M40 502h1M42 502h1M50 502h1M52 502h1M62 502h1M90 502h2M105 502h1M108 502h1M155 502h1M7 505h1M11 505h1M23 505h1M28 505h1M36 505h1M51 505h1M63 505h1M85 505h1M105 505h1M34 507h2M37 507h1M49 507h2M53 507h1M59 507h1M61 507h1M69 507h2M75 507h1M82 507h1M92 507h1M102 507h1M150 507h1M26 509h1M35 509h1M44 509h1M58 509h1M61 509h3M89 509h1M109 509h1M113 509h1M11 511h1M13 511h1M32 511h1M35 511h1M39 511h1M54 511h3M61 511h1M63 511h1M68 511h1M70 511h1M77 511h1M83 511h1M90 511h1M115 511h1M123 511h1M19 514h1M39 514h1M53 514h1M65 514h1M68 514h1M79 514h1M29 516h1M34 516h1M50 516h1M54 516h1M62 516h1M64 516h1M69 516h1M73 516h1M80 516h1M98 516h1M102 516h1M108 516h1M19 518h1M31 518h1M49 518h1M52 518h1M65 518h2M80 518h1M93 518h1M99 518h1M108 518h1M12 520h2M16 520h1M19 520h1M29 520h1M45 520h2M55 520h1M65 520h1M70 520h1M74 520h1M76 520h1M80 520h1M88 520h1M96 520h1M99 520h1M110 520h1M123 520h1M6 523h1M12 523h1M15 523h1M23 523h2M28 523h1M33 523h1M61 523h1M98 523h1M150 523h1M5 525h2M9 525h1M12 525h2M15 525h1M25 525h1M27 525h1M46 525h1M78 525h1M81 525h1M91 525h1M135 525h1M6 527h1M9 527h1M13 527h1M15 527h1M18 527h4M30 527h1M44 527h1M46 527h1M54 527h1M60 527h4M75 527h2M79 527h1M83 527h1M110 527h1M121 527h1M130 527h1M5 529h1M9 529h1M23 529h1M28 529h2M38 529h1M53 529h1M71 529h1M86 529h2M99 529h1M108 529h1M111 529h1M117 529h1M119 529h1M5 531h1M9 531h1M45 531h1M49 531h1M72 531h1M77 531h1M79 531h1M103 531h1M119 531h1M8 534h1M15 534h1M28 534h1M36 534h2M39 534h1M50 534h1M52 534h1M57 534h1M59 534h1M64 534h1M73 534h2M83 534h1M98 534h1M107 534h1M145 534h1M150 534h1M8 536h1M30 536h1M36 536h2M45 536h1M47 536h1M50 536h1M54 536h1M69 536h2M72 536h1M80 536h1M85 536h1M87 536h1M92 536h3M96 536h1M106 536h2M119 536h1M145 536h1M155 536h1M6 538h1M8 538h1M14 538h1M20 538h1M33 538h1M35 538h1M41 538h1M67 538h1M70 538h1M72 538h1M79 538h2M82 538h2M92 538h1M97 538h1M8 540h1M13 540h1M20 540h1M29 540h1M31 540h1M40 540h1M48 540h1M56 540h1M59 540h1M61 540h1M78 540h1M92 540h1M97 540h1M100 540h1M145 540h1M11 543h1M23 543h1M29 543h1M31 543h1M36 543h1M39 543h1M43 543h2M51 543h1M64 543h1M74 543h1M78 543h1M83 543h1M103 543h1M105 543h1M110 543h1M123 543h1M145 543h1M9 545h1M11 545h1M14 545h1M28 545h1M33 545h1M54 545h1M60 545h1M67 545h1M80 545h1M96 545h1M99 545h1M101 545h1M108 545h1M113 545h1M121 545h1M155 545h1M16 547h1M26 547h2M33 547h1M37 547h1M44 547h1M55 547h1M72 547h1M74 547h1M84 547h1M86 547h1M91 547h1M102 547h2M107 547h1M119 547h1M130 547h1M150 547h1M8 549h1M16 549h1M20 549h1M24 549h1M26 549h2M45 549h1M55 549h1M71 549h1M73 549h1M76 549h1M96 549h1M105 549h1M113 549h1M8 552h1M46 552h1M53 552h1M64 552h1M76 552h2M87 552h1M101 552h1M103 552h1M105 552h1M13 554h1M19 554h1M27 554h1M46 554h1M60 554h1M63 554h1M77 554h1M99 554h1M105 554h1M107 554h3M115 554h1M130 554h1M6 556h1M21 556h1M23 556h1M35 556h1M39 556h1M66 556h1M74 556h1M80 556h1M86 556h1M117 556h1M123 556h1M155 556h1M22 558h1M26 558h1M32 558h1M36 558h1M41 558h1M46 558h1M49 558h2M53 558h1M56 558h1M67 558h1M78 558h1M80 558h2M91 558h1M95 558h1M99 558h1M104 558h1M106 558h1M111 558h1M135 558h1M150 558h1M5 560h1M14 560h1M30 560h1M33 560h1M45 560h1M52 560h1M61 560h1M63 560h1M80 560h1M82 560h1M89 560h1M100 560h1M104 560h1M109 560h1M119 560h1M125 560h1M145 560h1M25 563h1M29 563h1M32 563h1M34 563h1M36 563h1M52 563h1M64 563h1M68 563h1M75 563h1M97 563h1M107 563h1M119 563h1M8 565h1M25 565h1M30 565h1M64 565h1M67 565h2M72 565h1M81 565h1M83 565h1M96 565h1M100 565h1M103 565h1M123 565h1M130 565h1M42 567h1M60 567h1M71 567h1M73 567h1M83 567h1M85 567h1M90 567h1M107 567h1M109 567h1M119 567h1M125 567h1M130 567h1M11 569h2M19 569h2M22 569h1M26 569h1M33 569h1M72 569h1M90 569h1M95 569h1M110 569h1M11 572h1M30 572h1M33 572h1M36 572h1M42 572h2M61 572h1M93 572h1M99 572h1M107 572h1M110 572h1M140 572h1M19 574h1M23 574h1M33 574h1M36 574h1M42 574h1M45 574h1M48 574h1M51 574h1M57 574h1M64 574h1M69 574h1M84 574h1M94 574h1M11 576h1M25 576h1M30 576h1M34 576h1M45 576h1M47 576h2M53 576h2M67 576h1M71 576h1M104 576h1M107 576h1M109 576h1M117 576h1M19 578h1M25 578h1M29 578h1M37 578h1M44 578h1M76 578h1M87 578h1M110 578h1M21 580h1M45 580h1M99 580h1M110 580h1M113 580h1M23 583h1M27 583h1M35 583h1M37 583h1M44 583h1M52 583h1M54 583h1M64 583h1M69 583h2M79 583h1M87 583h1M89 583h1M107 583h1M110 583h1M113 583h1M125 583h1M11 585h1M22 585h1M35 585h1M46 585h1M48 585h1M56 585h1M90 585h1M94 585h1M96 585h1M100 585h1M29 587h1M36 587h1M39 587h1M44 587h2M50 587h2M55 587h1M57 587h1M60 587h1M69 587h1M86 587h1M13 589h1M22 589h1M26 589h1M36 589h1M60 589h1M62 589h2M72 589h1M80 589h1M86 589h1M92 589h1M94 589h1M96 589h2M107 589h1M7 592h1M12 592h1M15 592h1M22 592h1M33 592h1M40 592h1M49 592h1M54 592h1M63 592h1M75 592h1M78 592h1M86 592h1M89 592h2M100 592h2M115 592h1M10 594h1M12 594h1M21 594h1M23 594h1M34 594h1M52 594h2M65 594h1M90 594h1M110 594h1M113 594h1M29 596h1M32 596h1M51 596h1M59 596h1M86 596h1M96 596h1M98 596h3M113 596h1M117 596h1M15 598h1M17 598h1M55 598h1M61 598h1M67 598h1M69 598h1M75 598h1M83 598h1M109 598h1M113 598h1M7 601h2M12 601h1M15 601h1M23 601h1M29 601h1M41 601h1M51 601h1M92 601h1M102 601h1M115 601h1M121 601h1M7 603h1M27 603h1M32 603h1M36 603h1M49 603h1M59 603h1M96 603h1M100 603h1M105 603h2M109 603h1M123 603h1M125 603h1M155 603h1M8 605h1M22 605h1M33 605h1M36 605h1M41 605h1M43 605h1M45 605h1M50 605h1M69 605h1M75 605h1M77 605h1M88 605h1M110 605h1M113 605h1M22 607h1M27 607h1M40 607h1M49 607h1M51 607h1M54 607h1M56 607h1M66 607h1M71 607h1M75 607h1M102 607h1M108 607h1M113 607h1M115 607h1M155 607h1M29 609h1M33 609h1M39 609h1M51 609h1M71 609h1M75 609h2M89 609h1M109 609h1M115 609h1M135 609h1M10 612h1M34 612h1M40 612h1M52 612h1M73 612h1M92 612h1M98 612h1M106 612h1M123 612h1M7 614h1M20 614h1M29 614h1M33 614h1M39 614h1M42 614h1M52 614h1M70 614h1M72 614h1M76 614h2M87 614h1M95 614h1M108 614h1M110 614h1M119 614h1M150 614h1M25 616h1M40 616h1M43 616h1M66 616h1M71 616h1M83 616h1M85 616h1M89 616h1M99 616h1M108 616h1M115 616h1M119 616h1M125 616h1M8 618h1M14 618h1M28 618h1M46 618h1M59 618h1M65 618h1M70 618h1M80 618h1M91 618h1M108 618h1M115 618h1M13 621h1M30 621h1M36 621h3M40 621h1M61 621h1M64 621h1M75 621h1M83 621h1M104 621h1M106 621h1M150 621h1M5 623h1M25 623h1M27 623h1M34 623h1M61 623h1M65 623h2M72 623h1M74 623h1M108 623h1M111 623h1M8 625h1M29 625h1M48 625h1M53 625h1M61 625h1M74 625h1M77 625h1M81 625h1M87 625h1M89 625h1M113 625h1M130 625h1M155 625h1M20 627h1M24 627h1M42 627h1M46 627h1M52 627h1M55 627h1M59 627h1M66 627h1M77 627h1M87 627h1M90 627h1M93 627h1M104 627h1M135 627h1M155 627h1M9 629h2M12 629h1M23 629h1M26 629h1M29 629h1M35 629h1M64 629h1M66 629h1M72 629h1M78 629h1M84 629h1M107 629h1M135 629h1M150 629h1M46 632h1M53 632h1M56 632h1M61 632h1M64 632h1M80 632h1M87 632h2M96 632h1M100 632h1M102 632h1M123 632h1M125 632h1M150 632h1M5 634h1M26 634h1M40 634h1M45 634h1M59 634h1M75 634h1M102 634h2M105 634h1M110 634h1M123 634h1M7 636h3M11 636h1M17 636h1M29 636h2M35 636h1M46 636h1M48 636h1M57 636h1M63 636h1M72 636h1M86 636h2M90 636h1M113 636h1M6 638h1M18 638h1M30 638h1M59 638h1M87 638h1M94 638h1M100 638h1M110 638h1M113 638h1M119 638h1M140 638h1M7 641h1M12 641h1M20 641h1M23 641h1M27 641h1M33 641h2M51 641h1M62 641h1M66 641h1M72 641h1M78 641h1M98 641h1M109 641h1M119 641h1M18 643h1M21 643h2M34 643h1M48 643h1M53 643h1M63 643h1M65 643h1M69 643h1M78 643h1M96 643h1M105 643h1M117 643h1M121 643h1M125 643h1M130 643h1M150 643h1M37 645h1M40 645h1M46 645h2M54 645h1M67 645h2M92 645h1M94 645h1M96 645h1M100 645h1M109 645h1M155 645h1M8 647h1M15 647h1M21 647h1M34 647h1M41 647h1M47 647h1M67 647h2M78 647h2M104 647h1M108 647h1M155 647h1M6 650h1M8 650h1M56 650h1M61 650h1M89 650h1M98 650h1M105 650h1M107 650h1M13 652h1M41 652h3M53 652h1M64 652h1M67 652h1M89 652h1M92 652h1M98 652h1M123 652h1M150 652h1M24 654h1M28 654h1M30 654h1M34 654h1M37 654h1M39 654h1M41 654h3M47 654h1M57 654h1M63 654h1M67 654h1M69 654h1M71 654h1M76 654h2M79 654h1M90 654h1M92 654h1M95 654h1M103 654h1M110 654h1M121 654h1M6 656h2M10 656h1M15 656h1M24 656h1M30 656h1M42 656h2M52 656h1M61 656h1M70 656h1M75 656h1M90 656h1M113 656h1M13 658h3M23 658h2M44 658h1M49 658h2M59 658h1M74 658h1M78 658h1M105 658h1M125 658h1M5 661h1M7 661h1M19 661h1M24 661h1M33 661h2M43 661h2M54 661h1M74 661h1M88 661h1M96 661h1M105 661h1M8 663h1M17 663h1M35 663h1M44 663h1M56 663h1M72 663h1M92 663h1M108 663h1M125 663h1M13 665h1M23 665h1M28 665h2M31 665h2M53 665h1M60 665h1M69 665h1M98 665h1M104 665h1M107 665h1M123 665h1M11 667h1M15 667h1M21 667h1M23 667h1M29 667h1M45 667h1M48 667h1M53 667h1M59 667h1M67 667h1M75 667h1M85 667h1M88 667h1M104 667h1M150 667h1M8 670h1M14 670h1M19 670h1M24 670h1M36 670h2M39 670h1M47 670h1M55 670h3M74 670h1M82 670h1M91 670h1M121 670h1M130 670h1M5 672h1M7 672h1M15 672h1M18 672h1M38 672h1M48 672h1M93 672h1M98 672h1M106 672h1M108 672h1M115 672h1M119 672h1M125 672h1M135 672h1M9 674h1M14 674h1M19 674h2M25 674h1M34 674h1M44 674h1M52 674h2M61 674h1M63 674h1M85 674h1M94 674h1M96 674h1M117 674h1M135 674h1M5 676h1M12 676h1M29 676h1M33 676h1M37 676h1M50 676h1M73 676h1M94 676h1M100 676h1M125 676h1M130 676h1M150 676h1M7 679h1M13 679h1M18 679h1M32 679h1M51 679h1M60 679h1M66 679h1M69 679h1M87 679h1M89 679h1M93 679h1M104 679h1M108 679h1M18 681h2M30 681h4M71 681h2M75 681h1M84 681h1M104 681h1M107 681h2M121 681h1M135 681h1M150 681h1M20 683h1M32 683h1M37 683h1M74 683h1M101 683h1M104 683h1M117 683h1M121 683h1M130 683h1M31 685h1M40 685h1M53 685h1M56 685h2M66 685h2M79 685h1M86 685h2M100 685h1M104 685h1M8 687h2M14 687h1M24 687h1M34 687h1M40 687h2M49 687h1M51 687h1M53 687h1M55 687h1M66 687h1M76 687h1M82 687h1M87 687h1M97 687h1M104 687h1M110 687h1M117 687h1M12 690h1M24 690h1M31 690h1M60 690h1M83 690h1M94 690h1M117 690h1M155 690h1M37 692h1M61 692h1M63 692h1M71 692h1M92 692h1M117 692h1M123 692h1M130 692h1M150 692h1M13 694h1M30 694h1M47 694h1M60 694h1M82 694h1M99 694h1M103 694h1M108 694h1M110 694h1M119 694h1M155 694h1M8 696h1M13 696h1M19 696h1M23 696h2M42 696h1M59 696h2M92 696h1M107 696h1M8 699h1M26 699h1M34 699h1M49 699h2M52 699h1M80 699h1M98 699h1M117 699h1M145 699h1M7 701h1M12 701h1M21 701h1M32 701h1M34 701h2M37 701h1M59 701h1M63 701h1M69 701h1M72 701h2M99 701h1M102 701h1M106 701h1M108 701h1M130 701h1M8 703h1M17 703h1M28 703h1M36 703h1M42 703h1M44 703h1M54 703h1M64 703h1M83 703h1M86 703h1M109 703h1M113 703h1M115 703h1M10 705h1M14 705h3M32 705h1M36 705h1M44 705h1M49 705h1M52 705h1M58 705h1M75 705h2M85 705h2M99 705h1M101 705h1M106 705h1M115 705h1M130 705h1M145 705h1M150 705h1M8 707h2M20 707h1M22 707h1M37 707h1M40 707h1M46 707h1M50 707h1M57 707h1M61 707h1M69 707h1M74 707h1M89 707h1M100 707h1M123 707h1M140 707h1M150 707h1M25 710h1M35 710h2M39 710h1M50 710h1M56 710h2M64 710h1M71 710h1M78 710h1M87 710h1M104 710h1M117 710h1M11 712h1M18 712h1M25 712h1M31 712h1M35 712h1M39 712h1M44 712h1M52 712h1M54 712h1M71 712h1M79 712h1M87 712h1M109 712h1M117 712h1M125 712h1M135 712h1M22 714h1M25 714h1M31 714h1M44 714h1M49 714h1M51 714h1M54 714h2M61 714h1M63 714h2M69 714h1M72 714h1M74 714h2M80 714h1M84 714h1M98 714h1M119 714h1M123 714h1M145 714h1M16 716h3M20 716h1M30 716h1M35 716h1M52 716h1M61 716h1M63 716h1M67 716h3M74 716h1M78 716h1M94 716h1M108 716h1M110 716h1M113 716h1M18 719h1M33 719h1M52 719h1M64 719h1M70 719h1M78 719h1M86 719h1M91 719h1M94 719h1M110 719h1M113 719h1M121 719h1M145 719h1M22 721h1M53 721h1M61 721h2M72 721h2M75 721h1M85 721h1M104 721h1M9 723h1M24 723h1M31 723h1M49 723h1M67 723h1M76 723h1M95 723h1M102 723h1M109 723h2M123 723h1M125 723h1M17 725h1M39 725h1M44 725h1M57 725h1M66 725h1M76 725h2M83 725h1M86 725h1M107 725h1M21 728h1M27 728h1M34 728h1M42 728h2M50 728h1M66 728h1M80 728h1M102 728h1M109 728h1M115 728h1M7 730h1M23 730h1M25 730h1M36 730h1M58 730h1M82 730h1M117 730h1M16 732h1M55 732h1M75 732h1M85 732h3M91 732h1M96 732h1M113 732h1M115 732h1M121 732h1M130 732h1M7 734h1M32 734h1M41 734h1M46 734h1M52 734h1M55 734h1M67 734h1M75 734h1M82 734h1M87 734h1M96 734h1M100 734h1M8 736h1M29 736h1M35 736h1M40 736h1M43 736h1M67 736h1M79 736h1M85 736h1M87 736h2M91 736h1M99 736h2M107 736h1M12 739h1M16 739h1M37 739h1M43 739h1M46 739h1M60 739h1M83 739h1M90 739h1M98 739h1M110 739h1M117 739h1M119 739h1M7 741h1M26 741h1M28 741h2M37 741h1M42 741h2M51 741h2M62 741h1M76 741h1M83 741h2M87 741h1M91 741h1M96 741h1M98 741h1M101 741h1M7 743h1M11 743h1M65 743h1M67 743h1M73 743h1M110 743h1M19 745h1M22 745h1M40 745h1M51 745h1M77 745h1M80 745h1M104 745h1M109 745h1M117 745h1M119 745h1M20 748h1M31 748h1M34 748h1M36 748h1M40 748h1M42 748h2M54 748h1M68 748h1M85 748h1M99 748h2M103 748h1M109 748h1M113 748h1M115 748h1M123 748h1M135 748h1M8 750h1M13 750h1M15 750h2M29 750h1M53 750h1M58 750h1M72 750h2M75 750h1M83 750h2M86 750h1M100 750h1M110 750h1M115 750h1M117 750h1M150 750h1M5 752h1M10 752h1M17 752h1M30 752h1M33 752h1M37 752h1M42 752h1M62 752h2M66 752h1M94 752h1M101 752h1M109 752h3M12 754h1M14 754h1M16 754h1M19 754h1M21 754h1M28 754h1M38 754h1M47 754h2M53 754h1M57 754h1M64 754h2M67 754h1M84 754h1M101 754h1M113 754h1M119 754h1M33 756h1M57 756h2M60 756h1M65 756h1M69 756h1M82 756h1M84 756h1M96 756h2M135 756h1M37 759h1M46 759h1M55 759h1M62 759h3M68 759h1M70 759h1M117 759h1M121 759h1M123 759h1M150 759h1M16 761h1M49 761h1M53 761h1M68 761h1M74 761h1M80 761h1M95 761h1M31 763h1M35 763h1M43 763h1M67 763h1M79 763h1M89 763h1M95 763h1M97 763h1M105 763h1M130 763h1M135 763h1M64 765h2M78 765h1M58 768h1M92 768h1M125 768h1M140 768h1M145 768h1M150 768h1M95 770h1M145 770h1M150 770h1M9 772h1M22 772h1M28 772h1M56 772h1M58 772h1M67 772h1M77 772h1M117 772h1M32 774h1M68 774h1M95 774h1M101 777h1M140 777h1M145 777h1M26 779h1M32 779h1M58 779h1M95 779h1M130 779h1M32 781h1M38 781h1M95 781h1M26 783h1M32 783h1M95 783h1M38 785h1M58 785h1M95 785h1M68 788h1M58 794h1M68 794h1"/>
<path stroke="#482475" d="M7 88h1M16 88h1M34 88h1M36 88h1M56 88h1M64 88h1M70 88h1M72 88h1M82 88h1M91 88h1M110 88h1M117 88h1M119 88h1M155 88h1M5 90h1M22 90h1M39 90h1M42 90h1M44 90h1M62 90h1M69 90h1M72 90h1M92 90h1M98 90h2M102 90h1M155 90h1M39 93h1M46 93h1M55 93h1M71 93h1M74 93h1M83 93h1M103 93h1M7 95h1M29 95h1M45 95h1M87 95h1M89 95h1M98 95h1M110 95h1M113 95h1M10 97h1M20 97h1M33 97h1M39 97h1M56 97h1M59 97h1M69 97h1M77 97h1M82 97h1M29 99h1M41 99h1M43 99h1M61 99h1M67 99h1M69 99h1M73 99h1M76 99h1M82 99h1M86 99h1M102 99h1M109 99h1M8 101h1M17 101h1M26 101h1M29 101h1M32 101h1M35 101h1M62 101h1M72 101h1M77 101h1M117 101h1M135 101h1M5 104h2M33 104h1M39 104h1M60 104h1M70 104h1M73 104h1M77 104h1M80 104h1M85 104h1M105 104h1M13 106h1M66 106h1M70 106h1M73 106h1M84 106h1M91 106h1M95 106h1M105 106h1M130 106h1M17 108h1M20 108h1M43 108h1M61 108h1M70 108h1M75 108h2M89 108h1M98 108h1M104 108h1M107 108h2M150 108h1M155 108h1M17 110h1M25 110h1M36 110h1M56 110h1M59 110h1M75 110h1M84 110h1M92 110h1M97 110h1M108 110h2M119 110h1M145 110h1M6 113h1M11 113h1M32 113h1M34 113h1M53 113h2M66 113h1M69 113h2M73 113h3M80 113h1M92 113h1M97 113h2M109 113h2M155 113h1M7 115h1M11 115h1M13 115h1M15 115h1M23 115h1M29 115h1M46 115h1M52 115h2M69 115h1M76 115h1M87 115h1M92 115h1M94 115h1M113 115h1M135 115h1M5 117h1M13 117h1M16 117h1M70 117h1M74 117h1M80 117h1M123 117h1M20 119h1M32 119h1M34 119h1M46 119h1M50 119h1M54 119h1M64 119h1M69 119h2M98 119h1M123 119h1M13 121h1M17 121h1M26 121h1M34 121h1M44 121h1M55 121h1M57 121h1M87 121h1M119 121h1M125 121h1M135 121h1M7 124h1M12 124h1M19 124h1M31 124h1M41 124h1M48 124h1M64 124h1M106 124h2M111 124h1M125 124h1M6 126h1M13 126h1M21 126h1M30 126h1M40 126h1M43 126h1M48 126h1M59 126h1M86 126h1M99 126h1M125 126h1M145 126h1M28 128h1M42 128h2M70 128h1M75 128h2M89 128h1M99 128h1M103 128h1M119 128h1M121 128h1M13 130h1M34 130h1M36 130h1M74 130h1M76 130h1M82 130h1M90 130h1M109 130h1M119 130h1M135 130h1M23 133h1M28 133h1M36 133h2M60 133h1M63 133h1M69 133h1M75 133h1M108 133h1M150 133h1M24 135h1M53 135h1M56 135h1M62 135h1M74 135h1M85 135h1M87 135h1M94 135h1M110 135h1M23 137h1M30 137h1M35 137h1M42 137h2M46 137h1M106 137h1M108 137h1M117 137h1M135 137h1M18 139h1M34 139h2M45 139h1M52 139h1M84 139h1M98 139h1M119 139h1M13 142h1M20 142h1M45 142h1M57 142h1M59 142h1M65 142h1M67 142h1M82 142h1M28 144h2M39 144h1M55 144h1M59 144h1M66 144h1M70 144h2M76 144h1M79 144h1M108 144h1M145 144h1M13 146h1M22 146h1M26 146h1M41 146h1M44 146h1M49 146h1M56 146h1M88 146h1M92 146h1M98 146h1M108 146h1M10 148h1M14 148h1M19 148h1M33 148h1M43 148h1M49 148h1M98 148h1M104 148h1M113 148h1M9 150h1M36 150h1M51 150h1M101 150h1M107 150h1M14 153h1M29 153h1M60 153h2M73 153h1M78 153h1M89 153h1M99 153h2M155 153h1M12 155h1M17 155h1M20 155h1M24 155h1M39 155h1M49 155h1M59 155h1M64 155h1M75 155h1M17 157h1M28 157h1M59 157h1M61 157h1M70 157h1M80 157h1M92 157h1M99 157h1M105 157h1M107 157h1M5 159h1M25 159h1M37 159h1M48 159h1M52 159h2M69 159h1M71 159h1M75 159h1M86 159h2M110 159h1M115 159h1M117 159h1M130 159h1M13 162h1M20 162h1M29 162h2M72 162h2M103 162h1M105 162h1M155 162h1M20 164h1M28 164h1M38 164h1M42 164h1M46 164h1M53 164h1M78 164h1M98 164h1M115 164h1M119 164h1M125 164h1M11 166h1M30 166h1M32 166h2M44 166h1M56 166h1M71 166h1M115 166h1M150 166h1M19 168h1M40 168h1M42 168h1M44 168h1M51 168h1M65 168h1M69 168h1M73 168h1M77 168h1M83 168h1M87 168h1M104 168h1M113 168h1M121 168h1M140 168h1M155 168h1M59 171h1M90 171h1M92 171h1M105 171h1M108 171h1M125 171h1M6 173h1M23 173h1M37 173h1M45 173h1M50 173h1M52 173h1M59 173h1M80 173h1M83 173h1M93 173h1M125 173h1M24 175h1M32 175h1M36 175h1M44 175h1M46 175h1M72 175h1M76 175h1M105 175h1M34 177h1M45 177h1M54 177h1M56 177h1M64 177h1M67 177h1M92 177h1M98 177h1M102 177h1M150 177h1M27 179h1M36 179h1M51 179h1M64 179h1M83 179h1M113 179h1M115 179h1M135 179h1M5 182h1M16 182h1M24 182h1M39 182h1M44 182h1M73 182h1M77 182h1M113 182h1M115 182h1M119 182h1M155 182h1M12 184h1M14 184h1M23 184h1M26 184h1M30 184h1M36 184h2M73 184h2M84 184h1M109 184h1M23 186h1M55 186h2M67 186h1M69 186h1M89 186h1M111 186h1M121 186h1M22 188h1M40 188h1M46 188h1M50 188h1M58 188h1M70 188h1M88 188h1M90 188h1M109 188h1M123 188h1M135 188h1M155 188h1M9 191h1M13 191h1M16 191h1M21 191h1M34 191h3M55 191h1M61 191h1M72 191h1M83 191h1M96 191h1M102 191h1M108 191h1M33 193h1M51 193h1M55 193h2M67 193h1M75 193h1M93 193h1M96 193h1M115 193h1M27 195h1M36 195h1M41 195h1M43 195h2M55 195h1M65 195h1M83 195h1M87 195h1M104 195h1M108 195h2M145 195h1M28 197h1M30 197h1M35 197h1M43 197h1M75 197h1M87 197h1M92 197h1M110 197h1M17 199h1M22 199h1M40 199h1M44 199h1M51 199h1M73 199h1M81 199h1M98 199h1M105 199h1M113 199h1M117 199h1M140 199h1M5 202h1M7 202h1M38 202h2M51 202h1M71 202h1M77 202h1M91 202h1M105 202h1M113 202h1M7 204h2M21 204h1M42 204h1M46 204h1M60 204h1M67 204h1M150 204h1M7 206h2M23 206h1M29 206h1M46 206h1M52 206h1M64 206h1M73 206h1M81 206h1M87 206h1M89 206h1M94 206h1M100 206h1M105 206h1M107 206h1M109 206h1M119 206h1M135 206h1M17 208h1M22 208h2M52 208h2M64 208h1M72 208h1M94 208h1M99 208h1M123 208h1M125 208h1M12 211h1M17 211h1M26 211h1M46 211h1M52 211h1M64 211h1M83 211h1M85 211h1M98 211h1M101 211h1M123 211h1M130 211h1M17 213h1M30 213h1M33 213h1M39 213h1M44 213h1M48 213h1M69 213h1M99 213h1M101 213h1M103 213h1M108 213h1M115 213h1M119 213h1M6 215h1M22 215h2M46 215h1M51 215h1M56 215h1M87 215h1M115 215h1M117 215h1M155 215h1M5 217h1M13 217h1M17 217h1M19 217h2M30 217h1M34 217h1M36 217h1M42 217h1M44 217h1M69 217h1M95 217h1M108 217h1M117 217h1M7 220h1M27 220h1M34 220h2M48 220h1M53 220h1M70 220h1M88 220h1M99 220h1M106 220h1M5 222h1M7 222h1M9 222h1M29 222h1M37 222h1M16 224h1M43 224h1M45 224h1M65 224h2M82 224h1M125 224h1M12 226h1M25 226h1M41 226h1M45 226h1M76 226h1M150 226h1M21 228h1M35 228h1M46 228h1M49 228h1M63 228h1M76 228h1M79 228h1M83 228h1M96 228h1M107 228h1M113 228h1M135 228h1M21 231h1M30 231h1M35 231h1M37 231h1M42 231h1M49 231h1M51 231h1M59 231h1M67 231h1M84 231h1M145 231h1M20 233h1M23 233h1M37 233h1M42 233h2M82 233h1M84 233h1M97 233h1M9 235h1M28 235h1M48 235h1M75 235h1M101 235h1M110 235h1M130 235h1M135 235h1M14 237h1M28 237h1M33 237h1M54 237h1M74 237h1M82 237h1M99 237h1M105 237h1M123 237h1M135 237h1M18 240h1M22 240h1M24 240h1M34 240h1M38 240h1M40 240h2M44 240h1M74 240h1M76 240h1M104 240h1M113 240h1M119 240h1M155 240h1M17 242h1M20 242h2M36 242h1M45 242h1M48 242h1M53 242h1M73 242h1M100 242h1M7 244h1M9 244h1M21 244h3M28 244h1M31 244h1M34 244h1M37 244h1M46 244h1M50 244h1M98 244h1M100 244h1M22 246h1M26 246h1M55 246h2M76 246h1M89 246h1M100 246h1M103 246h1M22 248h1M39 248h1M44 248h1M57 248h1M100 248h1M117 248h1M155 248h1M8 251h1M17 251h2M23 251h1M37 251h1M40 251h1M64 251h1M72 251h1M75 251h1M94 251h1M135 251h1M16 253h2M53 253h1M57 253h1M62 253h1M66 253h1M75 253h2M93 253h1M101 253h1M119 253h1M123 253h1M135 253h1M27 255h1M40 255h1M45 255h2M51 255h1M56 255h1M60 255h1M62 255h1M65 255h1M69 255h1M92 255h1M101 255h1M135 255h1M21 257h1M26 257h2M44 257h1M55 257h1M70 257h1M92 257h1M106 257h1M110 257h1M115 257h1M23 260h1M26 260h1M31 260h2M52 260h1M58 260h1M71 260h1M83 260h1M96 260h1M27 262h1M29 262h1M44 262h1M49 262h1M59 262h1M64 262h2M94 262h1M20 264h2M29 264h1M31 264h1M36 264h1M45 264h1M50 264h1M52 264h1M54 264h1M64 264h1M103 264h2M113 264h1M119 264h1M150 264h1M8 266h1M16 266h1M33 266h1M40 266h1M56 266h1M63 266h1M71 266h1M76 266h1M13 269h1M27 269h1M30 269h1M34 269h1M39 269h1M47 269h1M52 269h1M65 269h1M100 269h1M105 269h1M108 269h1M117 269h1M123 269h1M125 269h1M150 269h1M10 271h1M13 271h1M17 271h1M34 271h1M39 271h2M63 271h1M94 271h1M105 271h2M7 273h1M12 273h1M24 273h1M29 273h1M40 273h1M61 273h1M65 273h2M69 273h1M94 273h1M130 273h1M5 275h1M10 275h1M24 275h2M40 275h1M50 275h1M84 275h1M87 275h1M101 275h1M119 275h1M9 277h1M13 277h1M18 277h1M27 277h1M35 277h2M94 277h1M99 277h1M101 277h1M109 277h2M113 277h1M155 277h1M8 280h1M16 280h1M31 280h1M39 280h1M54 280h1M67 280h1M108 280h1M117 280h1M18 282h1M32 282h1M64 282h1M70 282h1M91 282h1M108 282h1M110 282h1M119 282h1M150 282h1M17 284h4M34 284h1M44 284h2M56 284h1M73 284h1M119 284h1M5 286h1M7 286h1M27 286h1M51 286h1M76 286h1M89 286h1M6 289h1M16 289h1M22 289h1M34 289h1M40 289h1M54 289h1M57 289h1M67 289h1M117 289h1M6 291h1M11 291h1M24 291h1M35 291h1M69 291h1M71 291h1M85 291h1M91 291h1M96 291h1M100 291h1M113 291h1M119 291h1M135 291h1M16 293h2M23 293h1M53 293h1M65 293h1M69 293h1M76 293h1M99 293h1M113 293h1M155 293h1M19 295h1M33 295h1M37 295h1M42 295h1M50 295h1M61 295h1M72 295h1M91 295h1M135 295h1M7 298h2M17 298h1M21 298h1M32 298h1M44 298h1M71 298h1M85 298h1M91 298h1M113 298h1M117 298h1M130 298h1M135 298h1M5 300h2M16 300h1M20 300h1M26 300h2M31 300h1M34 300h1M49 300h1M86 300h1M90 300h1M99 300h1M107 300h1M130 300h1M6 302h1M13 302h1M21 302h1M26 302h1M32 302h1M52 302h1M54 302h1M56 302h1M59 302h1M64 302h1M66 302h1M76 302h1M100 302h1M103 302h1M108 302h1M115 302h1M121 302h1M8 304h1M11 304h1M17 304h1M19 304h1M28 304h1M54 304h1M59 304h1M76 304h1M86 304h1M88 304h1M92 304h1M6 306h1M44 306h1M67 306h1M69 306h1M73 306h1M113 306h1M34 309h1M38 309h1M69 309h1M92 309h1M106 309h2M110 309h1M135 309h1M155 309h1M6 311h1M19 311h1M39 311h1M42 311h1M66 311h1M76 311h1M90 311h2M105 311h1M117 311h1M8 313h1M22 313h1M25 313h1M34 313h1M36 313h1M39 313h1M56 313h1M61 313h1M67 313h1M74 313h1M76 313h1M82 313h1M86 313h1M91 313h2M109 313h1M115 313h1M130 313h1M155 313h1M8 315h1M17 315h1M26 315h1M39 315h1M42 315h1M52 315h1M59 315h1M61 315h1M66 315h1M106 315h2M10 318h1M28 318h1M32 318h1M35 318h1M49 318h1M53 318h1M55 318h1M66 318h2M70 318h1M85 318h1M88 318h1M110 318h1M140 318h1M10 320h2M23 320h1M28 320h1M42 320h1M44 320h1M51 320h1M53 320h1M67 320h1M70 320h1M75 320h1M88 320h1M121 320h1M11 322h1M17 322h1M28 322h1M36 322h2M40 322h1M43 322h2M98 322h1M103 322h1M13 324h1M19 324h1M24 324h1M26 324h1M28 324h1M31 324h1M34 324h2M74 324h1M76 324h1M80 324h1M83 324h1M85 324h1M104 324h1M123 324h1M9 326h1M21 326h1M26 326h1M56 326h1M66 326h1M75 326h1M84 326h1M87 326h1M98 326h1M108 326h1M110 326h1M5 329h1M17 329h1M23 329h3M50 329h1M71 329h1M74 329h2M104 329h1M111 329h1M115 329h1M6 331h1M8 331h1M25 331h1M30 331h1M34 331h1M41 331h1M50 331h1M54 331h1M64 331h1M72 331h1M75 331h1M82 331h1M85 331h1M88 331h1M98 331h1M119 331h1M125 331h1M6 333h1M17 333h1M24 333h1M30 333h1M52 333h1M54 333h1M59 333h1M86 333h1M96 333h1M98 333h1M103 333h1M107 333h1M150 333h1M21 335h1M24 335h1M29 335h2M39 335h2M44 335h1M59 335h3M77 335h1M96 335h1M103 335h1M115 335h1M155 335h1M5 338h1M7 338h1M11 338h2M14 338h1M18 338h1M36 338h1M38 338h1M61 338h1M70 338h1M78 338h1M82 338h1M98 338h1M113 338h1M123 338h1M5 340h1M20 340h1M26 340h1M34 340h1M37 340h1M42 340h1M44 340h1M65 340h1M69 340h1M80 340h1M82 340h1M109 340h1M121 340h1M155 340h1M5 342h1M8 342h1M31 342h1M34 342h1M43 342h1M57 342h1M66 342h1M76 342h1M155 342h1M8 344h1M19 344h1M26 344h1M47 344h1M55 344h1M60 344h1M72 344h1M83 344h1M125 344h1M135 344h1M22 347h1M28 347h1M42 347h1M47 347h1M57 347h1M62 347h1M70 347h1M73 347h1M76 347h1M84 347h1M90 347h1M99 347h1M103 347h1M121 347h1M8 349h1M42 349h1M52 349h1M91 349h3M96 349h1M123 349h1M17 351h1M28 351h1M43 351h2M65 351h1M74 351h1M82 351h1M91 351h2M96 351h1M119 351h1M145 351h1M150 351h1M9 353h1M15 353h1M22 353h1M26 353h1M45 353h1M73 353h1M82 353h1M84 353h1M91 353h1M102 353h1M105 353h1M115 353h1M150 353h1M9 355h1M12 355h1M36 355h1M43 355h1M47 355h1M67 355h1M70 355h1M75 355h1M77 355h1M81 355h1M115 355h1M135 355h1M24 358h1M39 358h1M44 358h1M52 358h1M72 358h1M77 358h1M90 358h1M100 358h1M102 358h1M109 358h1M9 360h1M17 360h1M31 360h1M35 360h1M38 360h1M51 360h1M56 360h2M66 360h1M72 360h1M115 360h1M8 362h1M10 362h1M26 362h1M49 362h1M55 362h1M59 362h1M64 362h2M72 362h1M74 362h1M84 362h1M5 364h1M28 364h3M57 364h1M69 364h1M74 364h1M79 364h1M86 364h1M99 364h1M103 364h1M110 364h1M113 364h1M155 364h1M33 367h2M38 367h2M42 367h1M48 367h1M69 367h1M75 367h1M83 367h1M96 367h1M106 367h1M113 367h1M115 367h1M145 367h1M5 369h1M24 369h1M37 369h2M41 369h1M59 369h1M64 369h1M74 369h1M79 369h1M104 369h1M107 369h1M140 369h1M32 371h1M40 371h1M49 371h1M55 371h1M71 371h1M92 371h1M101 371h1M115 371h1M117 371h1M123 371h1M7 373h1M11 373h1M48 373h1M51 373h1M56 373h1M58 373h1M72 373h1M104 373h1M110 373h1M119 373h1M135 373h1M12 375h1M25 375h1M30 375h1M45 375h1M63 375h1M90 375h1M150 375h1M18 378h1M45 378h1M52 378h1M68 378h1M78 378h1M94 378h1M115 378h1M13 380h1M16 380h2M20 380h1M24 380h1M38 380h1M42 380h1M83 380h1M102 380h1M108 380h1M45 382h1M47 382h1M49 382h1M74 382h1M92 382h1M102 382h1M117 382h1M123 382h1M145 382h1M5 384h1M9 384h1M13 384h2M20 384h1M30 384h3M38 384h2M51 384h1M71 384h1M73 384h1M77 384h1M97 384h3M101 384h1M108 384h1M121 384h1M12 387h1M48 387h1M64 387h1M69 387h1M75 387h1M91 387h2M110 387h1M135 387h1M26 389h1M44 389h1M57 389h1M59 389h1M67 389h1M77 389h1M96 389h1M102 389h1M119 389h1M7 391h1M21 391h1M42 391h2M57 391h1M64 391h1M78 391h1M97 391h1M99 391h1M107 391h1M115 391h1M125 391h1M130 391h1M9 393h1M11 393h1M24 393h1M41 393h1M57 393h1M98 393h1M38 396h1M52 396h1M150 396h1M18 398h1M22 398h2M30 398h1M42 398h1M56 398h1M75 398h1M97 398h1M10 400h1M13 400h1M54 400h1M62 400h1M69 400h1M71 400h1M81 400h1M88 400h1M95 400h1M99 400h1M106 400h1M108 400h1M150 400h1M19 402h1M23 402h1M25 402h1M39 402h1M70 402h2M89 402h1M135 402h1M16 404h1M34 404h1M41 404h1M45 404h1M48 404h1M60 404h1M67 404h1M72 404h1M97 404h1M18 407h1M22 407h1M25 407h1M80 407h1M83 407h1M91 407h1M106 407h1M108 407h1M123 407h1M150 407h1M17 409h2M30 409h1M37 409h1M46 409h1M53 409h1M59 409h1M61 409h1M66 409h2M69 409h1M71 409h1M77 409h1M92 409h1M94 409h1M104 409h1M113 409h1M117 409h1M130 409h1M7 411h1M17 411h1M23 411h1M34 411h1M39 411h1M77 411h1M92 411h1M125 411h1M6 413h1M22 413h1M39 413h1M41 413h1M56 413h1M64 413h1M78 413h1M92 413h1M99 413h1M103 413h1M10 416h1M26 416h1M54 416h1M64 416h1M69 416h1M85 416h1M96 416h1M104 416h1M15 418h1M23 418h1M33 418h1M53 418h1M72 418h1M77 418h1M97 418h1M104 418h1M130 418h1M12 420h1M22 420h1M31 420h1M37 420h1M53 420h1M61 420h1M91 420h1M105 420h1M107 420h1M110 420h1M130 420h1M11 422h2M24 422h1M47 422h1M70 422h1M75 422h1M86 422h1M99 422h1M105 422h2M109 422h1M111 422h1M125 422h1M9 425h1M31 425h1M51 425h1M55 425h1M64 425h1M80 425h1M99 425h1M108 425h1M117 425h1M123 425h1M130 425h1M38 427h1M46 427h1M59 427h1M80 427h1M99 427h1M109 427h1M150 427h1M39 429h1M54 429h1M80 429h1M93 429h2M7 431h1M22 431h1M26 431h1M31 431h1M62 431h1M82 431h2M103 431h2M108 431h1M110 431h1M115 431h1M145 431h1M16 433h1M22 433h1M24 433h1M30 433h1M37 433h1M49 433h1M52 433h1M62 433h1M66 433h1M94 433h1M106 433h1M130 433h1M5 436h1M12 436h1M16 436h1M23 436h1M33 436h1M45 436h3M69 436h1M86 436h2M92 436h1M106 436h1M123 436h1M5 438h1M12 438h1M24 438h1M52 438h1M65 438h2M69 438h1M87 438h1M90 438h1M145 438h1M155 438h1M7 440h1M9 440h1M12 440h1M21 440h1M54 440h1M84 440h1M91 440h1M101 440h1M104 440h1M109 440h1M135 440h1M5 442h1M18 442h1M37 442h1M53 442h1M61 442h1M76 442h1M83 442h1M88 442h1M95 442h1M104 442h2M121 442h1M150 442h1M12 445h1M26 445h1M43 445h1M46 445h2M56 445h1M61 445h1M82 445h1M92 445h1M105 445h1M31 447h1M47 447h1M51 447h1M56 447h2M72 447h1M95 447h1M105 447h1M7 449h1M20 449h1M71 449h1M75 449h1M98 449h1M155 449h1M5 451h1M10 451h1M22 451h2M30 451h1M33 451h1M42 451h1M45 451h1M53 451h1M71 451h2M82 451h1M87 451h1M108 451h1M42 453h1M45 453h1M64 453h1M69 453h1M74 453h1M86 453h1M92 453h1M102 453h1M123 453h1M155 453h1M5 456h1M17 456h1M61 456h2M64 456h1M66 456h2M87 456h1M102 456h1M110 456h1M115 456h1M10 458h1M20 458h1M39 458h1M88 458h1M130 458h1M9 460h1M32 460h2M40 460h1M50 460h1M83 460h1M89 460h1M103 460h1M106 460h1M12 462h1M18 462h1M32 462h1M46 462h1M53 462h1M70 462h1M80 462h1M100 462h2M108 462h1M121 462h1M7 465h1M9 465h1M16 465h1M79 465h1M103 465h1M108 465h1M117 465h1M32 467h1M38 467h1M54 467h1M56 467h1M61 467h1M92 467h1M96 467h1M110 467h1M113 467h1M130 467h1M140 467h1M13 469h1M15 469h1M20 469h1M53 469h1M92 469h1M26 471h1M52 471h1M55 471h1M59 471h1M67 471h1M86 471h1M89 471h1M100 471h1M117 471h1M150 471h1M10 474h1M13 474h1M30 474h1M47 474h1M54 474h1M70 474h1M89 474h1M59 476h1M89 476h1M37 478h1M45 478h1M50 478h1M59 478h1M65 478h1M80 478h1M109 478h1M117 478h1M123 478h1M150 478h1M36 480h1M54 480h1M96 480h1M100 480h1M130 480h1M17 482h1M30 482h1M69 482h2M88 482h1M93 482h1M96 482h1M100 482h1M103 482h1M117 482h1M123 482h1M130 482h1M155 482h1M12 485h1M49 485h1M62 485h1M72 485h1M123 485h1M71 487h2M80 487h1M94 487h1M110 487h1M22 489h1M26 489h1M34 489h1M41 489h1M55 489h1M70 489h1M74 489h1M96 489h1M101 489h1M145 489h1M30 491h1M72 491h1M74 491h1M110 491h1M119 491h1M123 491h1M125 491h1M22 494h1M26 494h1M47 494h2M66 494h1M84 494h1M101 494h1M32 496h1M38 496h1M75 496h1M82 496h2M88 496h2M98 496h1M121 496h1M27 498h1M39 498h1M43 498h1M54 498h1M64 498h1M70 498h1M94 498h1M99 498h1M106 498h1M8 500h1M12 500h1M28 500h1M32 500h1M35 500h1M40 500h1M46 500h1M55 500h1M61 500h2M70 500h1M77 500h1M86 500h1M88 500h1M98 500h1M106 500h1M110 500h1M145 500h1M57 502h1M59 502h1M65 502h1M97 502h1M110 502h1M40 505h1M60 505h1M76 505h1M80 505h1M84 505h1M94 505h1M104 505h1M7 507h1M21 507h1M33 507h1M52 507h1M58 507h1M80 507h1M93 507h1M98 507h1M101 507h1M6 509h1M23 509h1M31 509h1M50 509h1M56 509h1M80 509h1M85 509h1M98 509h1M150 509h1M44 511h1M64 511h1M74 511h1M85 511h1M92 511h2M100 511h1M130 511h1M22 514h1M50 514h1M52 514h1M61 514h1M71 514h1M81 514h1M85 514h1M98 514h1M106 514h1M119 514h1M20 516h1M26 516h1M67 516h1M82 516h1M88 516h1M100 516h1M105 516h1M155 516h1M37 518h1M67 518h1M73 518h1M83 518h1M87 518h1M105 518h1M121 518h1M135 518h1M27 520h1M44 520h1M52 520h1M61 520h1M73 520h1M82 520h1M97 520h1M105 520h1M5 523h1M26 523h1M32 523h1M44 523h1M46 523h1M83 523h1M8 525h1M14 525h1M20 525h1M26 525h1M34 525h2M52 525h1M90 525h1M92 525h1M96 525h1M98 525h2M110 525h1M121 525h1M5 527h1M8 527h1M22 527h1M34 527h1M55 527h2M67 527h1M87 527h1M105 527h1M119 527h1M7 529h1M34 529h1M42 529h1M46 529h1M70 529h1M73 529h1M94 529h1M103 529h2M31 531h1M34 531h1M52 531h1M59 531h1M61 531h1M67 531h1M74 531h1M91 531h1M93 531h2M98 531h1M12 534h1M23 534h1M46 534h1M117 534h1M24 536h1M26 536h1M39 536h1M59 536h1M65 536h1M84 536h1M98 536h1M104 536h1M121 536h1M11 538h2M30 538h1M38 538h1M73 538h1M155 538h1M6 540h1M14 540h1M30 540h1M52 540h1M54 540h1M8 543h1M21 543h1M67 543h1M84 543h1M89 543h1M113 543h1M121 543h1M37 545h1M75 545h1M78 545h1M103 545h1M43 547h1M45 547h1M63 547h1M73 547h1M96 547h1M105 547h1M13 549h1M25 549h1M82 549h1M84 549h1M107 549h1M109 549h2M117 549h1M123 549h1M13 552h1M67 552h1M99 552h1M106 552h2M109 552h1M113 552h1M121 552h1M18 554h1M23 554h2M69 554h1M78 554h1M106 554h1M110 554h1M150 554h1M24 556h1M32 556h1M49 556h1M51 556h1M56 556h1M77 556h1M81 556h1M91 556h1M96 556h1M102 556h1M105 556h1M150 556h1M7 558h1M13 558h1M18 558h1M21 558h1M87 558h1M110 558h1M40 560h1M76 560h1M110 560h1M113 560h1M135 560h1M12 563h1M20 563h1M50 563h1M53 563h1M67 563h1M72 563h1M109 563h1M113 563h1M123 563h1M145 563h1M155 563h1M14 565h1M23 565h1M98 565h1M101 565h1M6 567h1M50 567h1M64 567h2M75 567h1M82 567h1M8 569h1M17 569h1M51 569h1M55 569h2M61 569h2M75 569h1M101 569h1M108 569h1M117 569h1M8 572h1M69 572h1M75 572h1M79 572h1M96 572h1M7 574h1M9 574h1M11 574h1M34 574h1M39 574h1M67 574h1M74 574h1M110 574h1M125 574h1M10 576h1M12 576h1M14 576h1M18 576h1M36 576h1M70 576h1M79 576h1M113 576h1M121 576h1M135 576h1M7 578h1M16 578h1M34 578h1M61 578h2M70 578h1M78 578h2M89 578h1M100 578h1M105 578h1M108 578h1M117 578h1M121 578h1M5 580h1M35 580h1M42 580h1M61 580h1M72 580h1M78 580h1M12 583h1M20 583h1M26 583h1M29 583h1M96 583h1M98 583h1M20 585h1M23 585h1M29 585h1M39 585h1M45 585h1M52 585h1M92 585h1M115 585h1M117 585h1M140 585h1M9 587h1M18 587h1M22 587h1M33 587h1M62 587h2M119 587h1M150 587h1M7 589h1M52 589h1M59 589h1M70 589h1M73 589h1M100 589h1M105 589h1M123 589h1M145 589h1M150 589h1M25 592h1M28 592h1M64 592h1M87 592h1M93 592h1M109 592h1M130 592h1M11 594h1M13 594h1M31 594h1M57 594h1M86 594h1M103 594h1M108 594h1M119 594h1M123 594h1M130 594h1M150 594h1M50 596h1M135 596h1M150 596h1M6 598h1M22 598h1M34 598h1M37 598h1M64 598h1M72 598h1M94 598h1M84 601h1M135 601h1M12 603h1M14 603h1M50 603h1M52 603h2M98 603h1M27 605h1M37 605h1M52 605h1M72 605h1M109 605h1M8 607h1M30 607h1M33 607h1M36 607h2M41 607h1M53 607h1M70 607h1M78 607h1M101 607h1M110 607h1M121 607h1M123 607h1M135 607h1M12 609h1M46 609h1M54 609h1M56 609h1M73 609h1M108 609h1M155 609h1M17 612h1M37 612h1M64 612h1M94 612h1M125 612h1M40 614h1M54 614h1M63 614h1M80 614h1M74 616h1M92 616h1M100 616h1M11 618h1M31 618h1M50 618h1M56 618h1M89 618h1M96 618h1M52 621h1M63 621h1M76 621h2M107 621h2M113 621h1M12 623h1M55 623h1M64 623h1M106 623h1M135 623h1M5 625h1M9 625h1M31 625h1M39 625h1M93 625h1M98 625h1M106 625h1M12 627h1M74 627h1M97 627h1M11 629h1M13 629h1M16 629h1M44 629h1M46 629h1M85 629h1M87 629h1M106 629h1M110 629h1M22 632h1M28 632h1M67 632h1M73 632h1M75 632h1M82 632h1M101 632h1M108 632h1M117 632h1M9 634h2M22 634h2M30 634h1M34 634h1M53 634h1M64 634h1M85 634h1M87 634h1M101 634h1M117 634h1M130 634h1M20 636h1M22 636h2M37 636h1M89 636h1M96 636h1M29 638h1M44 638h1M89 638h1M93 638h1M9 641h1M37 641h1M50 641h1M64 641h1M83 641h1M99 641h1M125 641h1M43 643h1M52 643h1M67 643h1M80 643h1M83 643h1M86 643h1M94 643h1M99 643h1M109 643h1M13 645h1M17 645h1M29 645h1M44 645h1M63 645h2M23 647h1M39 647h1M63 647h1M9 650h1M17 650h1M43 650h1M52 650h1M67 650h1M73 650h2M92 650h1M40 652h1M72 652h1M74 652h1M79 652h1M81 652h2M105 652h1M111 652h1M6 654h2M35 654h1M72 654h1M83 654h1M97 654h2M20 656h1M29 656h1M67 656h1M76 656h1M107 656h1M130 656h1M12 658h1M20 658h1M39 658h1M103 658h1M37 661h1M48 661h1M55 661h1M60 661h1M64 661h1M111 661h1M121 661h1M145 661h1M33 663h1M45 663h2M60 663h1M82 663h1M109 663h1M155 663h1M11 665h1M18 665h1M70 665h1M91 665h1M100 665h1M113 665h1M119 665h1M13 667h1M17 667h1M36 667h1M73 667h1M107 667h1M110 667h1M28 670h1M48 670h2M72 670h1M75 670h2M89 670h1M100 670h1M102 670h1M104 670h1M107 670h1M119 670h1M125 670h1M13 672h2M19 672h3M51 672h1M70 672h1M73 672h1M101 672h1M5 674h1M28 674h1M57 674h1M83 674h1M100 674h1M119 674h1M123 674h1M14 676h3M23 676h1M26 676h1M52 676h1M54 676h1M91 676h1M10 679h1M20 679h1M25 679h1M37 679h1M55 679h1M72 679h1M105 679h1M5 681h1M7 681h1M10 681h2M17 681h1M21 681h1M37 681h1M74 681h1M105 681h1M113 681h1M12 683h1M73 683h1M89 683h1M100 683h1M123 683h1M135 683h1M14 685h1M24 685h1M54 685h1M64 685h1M71 685h1M76 685h1M110 685h1M113 685h1M123 685h1M7 687h1M17 687h1M35 687h1M42 687h1M59 687h1M75 687h1M78 687h1M98 687h1M109 687h1M115 687h1M49 690h1M72 690h1M108 690h2M130 690h1M5 692h1M20 692h1M30 692h1M34 692h1M51 692h1M105 692h1M113 692h1M7 694h1M12 694h1M20 694h1M41 694h1M69 694h1M75 694h1M81 694h1M104 694h1M46 696h2M49 696h1M52 696h2M69 696h1M82 696h1M94 696h1M12 699h1M35 699h1M83 699h1M86 699h1M96 699h1M100 699h1M109 699h1M123 699h1M5 701h1M33 701h1M55 701h1M61 701h1M111 701h1M121 701h1M150 701h1M32 703h1M34 703h1M43 703h1M59 703h1M130 703h1M135 703h1M9 705h1M31 705h1M54 705h1M56 705h1M60 705h1M65 705h1M82 705h1M88 705h1M96 705h1M98 705h1M123 705h1M23 707h1M31 707h1M36 707h1M47 707h2M88 707h1M107 707h1M119 707h1M7 710h1M61 710h1M66 710h2M79 710h1M113 710h1M123 710h1M13 712h1M27 712h1M47 712h1M51 712h1M72 712h1M77 712h1M106 712h1M119 712h1M27 714h1M50 714h1M52 714h1M71 714h1M77 714h1M97 714h1M104 714h1M108 714h1M110 714h1M117 714h1M5 716h2M45 716h1M50 716h1M64 716h1M73 716h1M77 716h1M81 716h1M95 716h1M107 716h1M5 719h1M54 719h1M56 719h1M67 719h1M97 719h1M104 719h2M109 719h1M123 719h1M20 721h1M33 721h1M51 721h1M54 721h1M67 721h1M92 721h1M97 721h2M109 721h1M113 721h1M8 723h1M18 723h1M26 723h1M36 723h1M41 723h1M54 723h1M61 723h1M92 723h1M94 723h1M10 725h1M14 725h1M71 725h1M75 725h1M105 725h1M14 728h2M40 728h1M58 728h1M94 728h1M9 730h1M54 730h1M92 730h1M96 730h1M119 730h1M24 732h2M59 732h1M123 732h1M20 734h1M23 734h2M69 734h1M97 734h1M99 734h1M108 734h1M110 734h1M121 734h1M17 736h1M34 736h1M39 736h1M64 736h1M69 736h1M71 736h1M73 736h1M83 736h1M110 736h1M14 739h2M20 739h1M48 739h1M57 739h1M63 739h1M80 739h2M99 739h1M101 739h1M115 739h1M125 739h1M23 741h1M25 741h1M34 741h1M56 741h1M66 741h1M81 741h1M90 741h1M108 741h1M121 741h1M36 743h1M38 743h1M42 743h2M61 743h1M66 743h1M75 743h1M82 743h1M91 743h1M150 743h1M8 745h1M13 745h1M38 745h2M56 745h1M65 745h1M67 745h1M69 745h1M84 745h1M90 745h1M103 745h1M110 745h1M38 748h2M45 748h1M47 748h1M56 748h1M58 748h1M71 748h1M84 748h1M105 748h1M111 748h1M10 750h1M17 750h1M20 750h1M52 750h1M68 750h1M76 750h1M87 750h1M90 750h1M92 750h1M101 750h1M145 750h1M14 752h1M29 752h1M32 752h1M35 752h1M59 752h1M65 752h1M71 752h1M83 752h1M92 752h1M95 752h2M106 752h2M125 752h1M7 754h1M13 754h1M17 754h2M24 754h1M39 754h1M41 754h2M46 754h1M50 754h1M71 754h1M87 754h1M96 754h1M107 754h1M6 756h1M10 756h1M14 756h1M18 756h1M27 756h1M30 756h1M43 756h1M46 756h1M50 756h3M66 756h1M68 756h1M70 756h2M73 756h1M85 756h1M95 756h1M98 756h1M111 756h1M150 756h1M155 756h1M28 759h1M38 759h1M44 759h1M95 759h1M108 759h1M115 759h1M6 761h1M26 761h1M28 761h1M38 761h1M58 761h1M73 761h1M79 761h1M83 761h1M109 761h1M113 761h1M123 761h1M150 761h1M7 763h1M76 763h1M91 763h1M121 763h1M125 763h1M155 763h1M13 765h1M68 765h1M105 765h1M123 765h1M17 768h1M35 768h1M44 768h1M95 768h1M58 770h1M140 770h1M17 772h1M35 772h1M38 772h1M47 772h2M66 772h1M69 772h1M84 772h1M91 772h1M98 772h2M109 772h1M145 772h1M31 774h1M58 777h1M68 777h1M95 777h1M101 779h1M58 781h1M68 781h1M130 781h1M38 783h1M58 783h1M31 785h2M101 785h1M32 788h1M38 788h1M68 790h1M31 792h1M58 792h1M32 794h1M38 794h1"/>
<path stroke="#472f7d" d="M22 88h1M24 88h1M49 88h1M65 88h1M98 88h1M115 88h1M123 88h1M9 90h1M11 90h1M24 90h2M31 90h1M35 90h1M56 90h1M60 90h1M64 90h1M104 90h1M109 90h1M113 90h1M117 90h1M9 93h1M12 93h1M16 93h2M42 93h1M61 93h1M89 93h1M107 93h1M113 93h1M12 95h1M22 95h1M27 95h1M61 95h1M67 95h1M76 95h1M90 95h1M96 95h1M130 95h1M9 97h1M29 97h1M55 97h1M110 97h1M21 99h1M87 99h1M104 99h1M46 101h1M59 101h1M73 101h1M100 101h1M115 101h1M7 104h1M23 104h1M36 104h1M90 104h1M107 104h1M125 104h1M155 104h1M54 106h1M98 106h1M117 106h1M18 108h1M56 108h1M74 108h1M83 108h1M87 110h1M89 110h1M155 110h1M16 113h1M35 113h1M37 113h1M46 113h1M101 113h1M135 113h1M5 115h1M12 115h1M34 115h1M67 115h1M77 115h1M155 115h1M12 117h1M32 117h1M62 117h1M110 117h1M145 117h1M12 119h1M22 119h1M26 119h1M35 119h1M61 119h1M67 119h1M115 119h1M5 121h1M24 121h1M35 121h1M39 121h1M46 121h1M54 121h1M70 121h1M108 121h1M113 121h1M123 121h1M6 124h1M20 124h1M30 124h1M51 124h1M53 124h1M66 124h1M71 124h1M83 124h1M98 124h1M135 124h1M17 126h1M50 126h1M64 126h2M70 126h1M83 126h1M89 126h1M105 126h1M107 126h1M21 128h1M61 128h1M105 128h1M130 128h1M23 130h1M28 130h1M32 130h1M48 130h1M102 130h1M107 130h1M115 130h1M123 130h1M130 130h1M71 133h1M76 133h1M64 137h1M13 139h1M51 139h1M56 139h1M63 139h1M69 139h1M75 139h1M92 139h1M10 142h1M12 142h1M52 142h1M79 142h1M108 142h1M110 142h1M130 142h1M20 144h1M24 144h1M30 144h1M34 144h1M90 144h1M99 144h1M102 144h1M113 144h1M130 144h1M20 146h1M37 146h1M54 146h1M113 146h1M8 148h1M32 148h1M46 148h1M74 148h1M130 148h1M28 150h1M54 150h2M74 150h1M95 150h1M123 150h1M11 153h1M25 153h1M44 153h1M64 153h1M72 153h1M104 153h1M119 153h1M22 155h1M60 155h2M12 157h1M20 157h1M29 157h1M85 157h1M109 157h1M130 157h1M6 159h1M12 159h1M34 159h1M121 159h1M26 162h1M61 162h1M5 164h1M24 164h1M30 164h1M44 164h1M52 164h1M61 164h1M72 164h3M84 164h1M99 164h1M150 164h1M155 164h1M19 166h1M35 166h1M46 166h1M50 166h1M53 166h1M55 166h1M69 166h1M73 166h1M75 166h1M87 166h1M18 168h1M39 168h1M52 168h1M61 168h1M63 168h1M93 168h1M24 171h1M29 171h1M33 171h1M35 171h1M52 171h1M56 171h1M61 171h1M86 171h1M31 173h1M34 173h1M54 173h1M61 173h1M64 173h1M82 173h1M98 173h1M105 173h1M54 175h1M80 175h1M30 177h1M36 177h1M89 177h1M96 177h1M106 177h1M115 177h1M155 177h1M29 179h1M110 179h1M6 182h1M13 182h1M23 182h1M32 182h1M48 182h1M52 182h1M74 182h1M107 182h1M6 184h1M16 184h1M39 184h1M99 184h1M123 184h1M11 186h1M18 186h1M37 186h1M65 186h1M70 186h1M130 186h1M18 188h1M26 188h1M30 188h1M57 188h1M87 188h1M101 188h1M125 188h1M145 188h1M12 191h1M19 191h1M26 191h1M30 191h1M87 191h1M93 191h1M106 191h1M140 191h1M21 193h1M26 193h1M54 193h1M23 195h1M34 195h1M56 195h1M20 197h1M44 197h1M65 197h1M69 197h2M113 197h1M121 197h1M28 199h1M83 199h1M88 199h1M130 199h1M44 202h1M55 202h1M60 202h1M67 202h1M74 202h1M107 202h2M155 202h1M44 204h1M59 204h1M91 204h1M9 206h1M16 206h1M26 206h1M61 206h1M90 206h2M104 206h1M125 206h1M11 208h1M26 208h1M28 208h1M31 208h1M81 208h1M135 208h1M7 211h1M35 211h1M43 211h1M61 211h1M105 211h1M135 211h1M49 213h1M60 213h1M13 215h1M32 215h1M67 215h1M74 215h1M92 215h1M100 215h1M105 215h1M119 215h1M74 217h1M85 217h1M87 217h1M121 217h1M49 220h1M57 220h1M59 220h1M69 220h1M102 220h1M110 220h1M135 220h1M24 222h1M35 222h1M42 222h1M74 222h1M82 222h1M84 222h1M87 222h1M91 222h1M105 222h1M123 222h1M6 224h1M35 224h2M49 224h1M61 224h1M63 224h1M74 224h1M84 224h1M117 224h1M30 226h1M35 226h2M44 226h1M46 226h1M53 226h1M61 226h1M74 226h1M96 226h1M106 226h2M115 226h1M117 226h1M123 226h1M15 228h1M25 228h1M109 228h1M111 228h1M71 231h2M113 231h1M16 233h1M25 233h1M35 233h1M66 233h1M71 233h1M104 233h1M109 233h2M5 235h1M39 235h1M44 235h1M51 235h1M67 235h1M91 235h1M9 237h1M11 237h1M17 237h1M35 237h1M39 237h1M51 237h2M61 237h1M71 237h1M89 237h1M21 240h1M53 240h1M73 240h1M96 240h1M140 240h1M41 242h1M67 242h1M92 242h1M51 244h1M55 244h1M92 244h1M18 246h1M34 246h2M37 246h1M57 246h1M115 246h1M125 246h1M8 248h1M21 248h1M26 248h1M55 248h1M64 248h1M72 248h1M6 251h1M80 251h1M85 251h1M89 251h1M18 253h1M55 253h1M72 253h1M77 253h1M89 253h1M108 253h3M6 255h1M14 255h1M24 255h1M39 255h1M67 255h1M72 255h1M82 255h1M109 255h1M39 257h2M94 257h1M99 257h1M101 257h1M22 260h1M29 260h1M35 260h1M39 260h1M50 260h1M54 260h1M61 260h1M107 260h1M155 260h1M10 262h1M17 262h1M21 262h1M43 262h1M70 262h1M83 262h1M101 262h1M115 262h1M8 264h1M33 264h2M61 264h1M63 264h1M108 264h1M125 264h1M36 266h1M59 266h1M92 266h1M102 266h1M130 266h1M29 269h1M85 269h1M92 269h1M106 269h1M130 269h1M29 271h1M56 271h1M85 271h1M98 271h1M123 271h1M130 271h1M10 273h1M20 273h1M22 273h1M37 273h1M42 273h1M44 273h1M72 273h1M119 273h1M13 275h1M36 275h1M82 275h1M93 275h1M110 275h1M74 277h1M107 277h2M36 280h1M24 282h2M46 282h1M65 282h1M95 282h1M145 282h1M13 284h1M23 284h1M52 284h1M89 284h1M108 284h1M8 286h1M52 286h1M64 286h1M108 286h1M110 286h1M123 286h1M60 289h2M64 289h1M88 289h1M96 289h1M98 289h1M105 289h1M108 289h1M135 289h1M61 291h1M74 291h1M76 291h1M88 291h1M19 293h1M33 293h1M42 293h1M46 293h1M50 293h2M56 293h1M59 293h1M85 293h1M100 293h1M107 293h1M110 293h1M25 295h1M46 295h1M64 295h1M87 295h1M90 295h1M107 295h1M145 295h1M155 295h1M24 298h1M35 298h1M54 298h1M75 298h1M83 298h1M92 298h1M94 298h1M107 298h1M8 300h1M12 300h1M30 300h1M39 300h1M42 300h1M44 300h1M52 300h1M63 300h1M69 300h1M72 300h1M76 300h1M83 300h1M115 300h1M12 302h1M16 302h2M19 302h1M33 302h1M91 302h1M113 302h1M123 302h1M33 304h1M43 304h1M46 304h2M79 304h1M83 304h1M13 306h1M45 306h2M72 306h1M110 306h1M115 306h1M130 306h1M23 309h1M31 309h1M55 309h1M70 309h2M81 309h2M104 309h1M13 311h1M44 311h1M78 311h1M82 311h1M99 311h1M104 311h1M107 311h1M135 311h1M155 311h1M35 313h1M95 313h1M123 313h1M16 315h1M20 315h1M22 315h1M35 315h1M43 315h1M79 315h1M130 315h1M5 318h1M8 318h1M17 318h1M45 318h1M64 318h2M96 318h1M108 318h1M35 320h1M73 320h1M83 320h1M90 320h1M12 322h1M16 322h1M45 322h1M82 322h2M104 322h1M106 322h1M119 322h1M30 324h1M36 324h1M40 324h1M96 324h1M98 324h2M106 324h1M13 326h1M24 326h1M42 326h1M52 326h1M77 326h1M99 326h1M155 326h1M8 329h1M47 329h1M54 329h1M61 329h1M73 329h1M82 329h1M17 331h1M24 331h1M26 331h1M39 331h1M63 331h1M80 331h1M87 331h1M26 333h1M37 333h1M41 333h1M43 333h1M47 333h1M80 333h1M106 333h1M135 333h1M6 335h1M17 335h1M34 335h1M135 335h1M17 338h1M25 338h1M30 338h1M44 338h1M74 338h1M91 338h1M105 338h2M121 338h1M29 340h1M60 340h1M89 340h1M91 340h1M19 342h1M35 342h1M37 342h1M42 342h1M47 342h1M61 342h1M83 342h1M89 342h1M107 342h1M123 342h1M6 344h1M10 344h1M13 344h1M34 344h1M44 344h1M59 344h1M67 344h1M98 344h1M123 344h1M7 347h1M39 347h1M61 347h1M77 347h1M83 347h1M91 347h1M110 347h1M115 347h1M19 349h1M32 349h1M34 349h1M40 349h1M57 349h1M121 349h1M16 351h1M34 351h1M50 351h1M61 351h1M64 351h1M75 351h1M108 351h1M13 353h1M17 353h1M20 353h1M37 353h1M39 353h1M46 353h1M65 353h1M70 353h1M123 353h1M27 355h1M41 355h1M52 355h1M61 355h1M84 355h1M90 355h1M123 355h1M10 358h1M12 358h1M19 358h1M37 358h1M40 358h2M46 358h1M64 358h1M130 358h1M20 360h1M37 360h1M53 360h1M65 360h1M67 362h1M90 362h1M96 362h1M115 362h1M10 364h1M12 364h1M47 364h1M53 364h1M91 364h1M102 364h1M37 367h1M60 367h1M110 367h1M16 369h1M25 369h1M43 369h1M54 369h1M86 369h1M106 369h1M110 369h1M130 369h1M25 371h1M28 371h1M37 371h1M57 371h1M75 371h1M106 371h1M113 371h1M25 373h2M37 373h1M96 373h1M103 373h1M105 373h1M8 375h1M38 375h1M41 375h1M44 375h1M51 375h1M67 375h1M75 375h1M110 375h1M17 378h1M24 378h1M38 378h1M75 378h1M85 378h1M11 380h1M29 380h2M41 380h1M47 380h1M51 380h1M67 380h1M77 380h1M135 380h1M37 382h1M39 382h1M44 382h1M51 382h1M109 382h1M115 382h1M19 384h1M40 384h2M110 384h1M5 387h1M17 387h1M43 387h1M50 387h1M59 387h1M78 387h1M17 389h1M25 389h1M46 391h1M61 391h1M67 391h1M104 391h1M34 393h1M92 393h1M94 393h1M107 393h1M110 393h1M125 393h1M32 396h1M34 396h1M41 396h1M46 396h1M70 396h1M94 396h1M97 396h1M123 396h1M41 398h1M44 398h1M55 398h1M91 398h1M109 398h1M38 400h1M75 400h1M87 400h1M105 400h1M135 400h1M7 402h1M11 402h1M13 402h1M38 402h1M96 402h1M19 404h1M37 404h1M54 404h1M57 404h1M104 404h1M123 404h1M8 407h1M12 407h1M30 407h1M47 407h1M50 407h1M71 407h1M82 407h1M117 407h1M155 407h1M45 409h1M49 409h1M65 409h1M73 409h1M108 409h1M13 411h1M61 411h1M64 411h2M67 411h1M78 411h1M89 411h1M113 411h1M13 413h1M30 413h1M37 413h1M50 413h1M52 413h1M74 413h1M9 416h1M39 416h1M61 416h1M70 416h1M72 416h1M26 418h1M39 418h1M64 418h1M76 418h1M111 418h1M145 418h1M17 420h1M19 420h1M38 420h1M52 420h1M66 420h1M74 420h1M92 420h1M97 420h1M103 420h1M13 422h1M46 422h1M76 422h2M88 422h1M98 422h1M103 422h1M11 425h1M52 425h1M76 425h2M9 427h1M13 427h1M67 427h1M113 427h1M22 429h2M26 429h1M31 429h1M52 429h1M92 429h1M123 429h1M73 431h1M107 431h1M51 433h1M55 433h1M64 433h1M69 433h1M73 433h1M50 436h1M64 436h2M78 436h1M107 436h1M125 436h1M44 438h1M50 438h1M56 438h1M92 438h1M123 438h1M13 440h1M46 440h1M86 440h1M145 440h1M50 442h2M110 442h1M64 445h1M67 445h1M74 445h1M107 445h1M46 447h1M52 447h1M61 447h1M76 447h1M80 447h1M110 447h1M130 447h1M135 447h1M43 449h1M45 449h1M56 449h1M68 449h1M93 449h1M96 449h1M113 449h1M119 449h1M44 451h1M69 451h1M99 451h1M135 451h1M150 451h1M21 453h1M46 453h1M72 453h1M82 453h1M135 453h1M20 456h1M31 456h1M42 456h2M113 456h1M150 456h1M17 458h1M21 458h1M32 458h1M45 458h1M61 458h1M71 458h1M115 458h1M150 458h1M52 460h2M59 460h1M61 460h1M70 460h1M87 460h1M100 460h1M110 460h1M121 460h1M140 460h1M67 462h1M82 462h1M106 462h1M20 465h1M59 465h1M61 465h1M74 465h1M88 465h1M110 465h1M130 465h1M6 467h1M22 467h1M76 467h1M83 467h1M105 467h1M11 469h1M73 469h1M119 469h1M125 469h1M150 469h1M8 471h1M37 471h1M61 471h1M69 471h1M74 471h1M88 471h1M55 474h1M61 474h1M75 474h2M82 474h2M94 474h1M12 476h1M22 476h1M64 476h1M83 476h1M98 476h1M12 478h1M34 478h1M8 480h1M15 480h1M59 480h1M67 480h1M69 480h1M80 480h1M52 482h1M67 482h1M91 482h1M34 485h1M39 485h1M75 485h1M125 485h1M16 487h1M150 487h1M67 489h1M83 489h1M86 489h1M94 489h1M123 489h1M35 491h1M44 491h1M53 491h1M65 491h1M67 491h1M98 491h3M145 491h1M42 494h1M55 494h2M61 494h1M67 494h1M26 496h1M56 496h1M64 496h1M80 496h1M84 496h1M92 496h1M104 496h1M107 496h1M150 496h1M74 498h1M80 498h1M82 498h1M110 498h1M33 500h2M65 500h1M94 500h1M108 500h1M150 500h1M15 502h1M32 502h1M34 502h2M53 502h1M92 502h1M101 502h1M107 502h1M130 502h1M8 505h1M30 505h1M56 505h1M59 505h1M110 505h1M140 505h1M23 507h1M27 507h1M40 507h1M51 507h1M63 507h2M83 507h1M100 507h1M108 507h1M8 509h1M32 509h1M64 509h1M73 509h1M76 509h1M93 509h1M104 509h1M110 509h1M15 511h1M33 511h1M99 511h1M35 514h1M97 514h1M117 514h1M21 516h1M35 516h1M61 516h1M83 516h1M87 516h1M90 516h1M96 516h1M104 516h1M150 516h1M9 518h1M44 518h1M46 518h1M55 518h1M94 518h1M123 518h1M37 520h1M85 520h1M107 520h1M25 523h1M30 523h1M42 523h1M67 523h1M74 523h1M94 523h1M113 523h1M53 525h2M11 527h1M50 527h1M8 529h1M84 529h1M107 529h1M17 531h1M23 531h1M50 531h1M88 531h1M102 531h1M22 534h1M81 534h1M6 536h1M82 536h1M16 538h2M37 538h1M56 538h1M65 538h1M94 538h1M98 538h1M27 540h1M53 540h1M28 543h1M37 543h1M48 543h1M59 543h1M86 543h1M96 543h1M108 543h1M16 545h1M36 545h1M130 545h1M23 547h1M71 547h1M94 547h1M61 549h1M106 549h1M25 552h1M44 552h1M51 552h1M123 552h1M39 554h1M44 554h1M67 554h1M104 554h1M12 556h1M75 556h1M106 556h1M110 556h1M35 558h1M51 558h1M59 558h1M83 558h1M74 560h1M83 560h1M16 563h1M43 563h1M91 563h1M101 563h1M103 563h1M130 563h1M17 565h1M87 565h1M89 565h1M19 567h1M33 567h1M35 567h1M81 567h1M24 569h1M35 569h1M52 569h1M73 569h1M85 569h1M12 572h1M16 572h1M78 572h1M80 572h1M91 572h1M135 572h1M155 572h1M37 574h1M65 574h1M70 574h1M119 574h1M135 574h1M17 576h1M23 576h1M29 576h1M42 576h1M74 576h1M119 576h1M13 578h1M39 578h1M72 578h1M13 580h1M27 580h1M34 580h1M87 580h1M44 585h1M50 585h1M90 587h1M98 587h1M107 587h1M145 587h1M9 589h1M15 589h1M81 589h1M83 589h2M90 589h1M23 592h1M30 592h1M37 592h1M55 592h1M67 592h1M105 592h1M110 592h1M17 594h1M55 594h1M74 594h1M13 596h1M23 596h1M50 598h1M107 598h2M37 601h1M39 601h1M52 601h2M72 601h1M74 601h1M107 601h1M155 601h1M20 603h1M72 603h1M107 603h1M19 605h1M34 605h1M98 605h1M39 607h1M61 607h1M37 609h1M49 609h1M61 609h1M70 609h1M107 609h1M39 612h1M42 612h1M63 612h1M66 612h1M77 612h1M85 612h1M150 612h1M106 614h1M13 616h1M22 616h1M64 616h1M72 616h1M76 616h1M61 618h1M75 618h1M83 618h1M107 618h1M110 618h1M16 621h2M23 621h1M39 621h1M23 623h1M39 623h1M48 623h1M63 623h1M98 623h1M107 623h1M150 623h1M12 625h1M16 625h1M64 625h1M66 625h1M71 625h1M73 625h1M75 625h1M135 625h1M5 627h1M32 627h2M85 627h1M95 627h1M110 627h1M113 627h1M7 629h1M17 629h1M52 629h1M55 629h1M82 629h1M97 629h1M40 632h1M155 632h1M16 634h1M18 636h1M41 636h1M56 636h1M110 636h1M56 638h2M82 638h1M125 638h1M36 641h1M40 641h1M113 641h1M50 643h1M74 643h1M22 645h1M99 645h1M19 647h1M46 647h1M100 650h1M26 652h1M31 652h1M108 652h1M155 652h1M17 654h1M46 654h1M61 654h1M74 654h1M108 654h1M125 654h1M12 656h1M108 656h1M110 656h1M46 658h1M53 658h1M56 658h1M70 658h2M75 658h1M94 658h1M56 661h2M82 661h1M86 661h1M94 661h1M106 661h1M110 661h1M22 663h1M37 663h1M39 663h1M64 663h1M94 663h1M121 663h1M16 665h1M67 665h1M105 665h1M62 667h1M83 667h1M98 667h1M109 667h1M15 670h1M20 670h1M43 670h1M61 670h1M106 670h1M37 672h1M43 672h1M49 672h1M64 672h1M74 672h1M107 672h1M6 674h1M84 674h1M109 674h1M87 676h1M102 676h1M109 676h1M21 679h1M24 679h1M31 679h1M64 679h1M100 679h1M107 679h1M110 679h1M63 681h1M67 681h1M81 681h1M76 683h1M99 683h1M110 683h1M113 683h1M11 685h1M35 685h1M89 685h1M135 685h1M19 687h1M21 687h1M37 687h1M39 687h1M71 687h1M101 687h1M7 690h1M61 690h1M69 690h1M107 690h1M17 692h1M27 692h1M69 692h1M103 692h1M135 692h1M22 694h1M35 694h1M71 694h1M150 694h1M14 696h1M22 696h1M71 696h1M108 696h1M115 696h1M13 699h1M17 699h1M19 699h1M13 701h1M19 701h1M22 701h1M24 701h1M43 701h1M50 701h1M125 701h1M16 703h1M56 703h1M100 703h1M110 703h1M44 707h1M83 707h1M11 710h1M43 710h1M49 710h1M96 710h1M36 712h1M50 712h1M104 712h1M43 714h1M67 714h1M76 716h1M91 716h1M81 719h1M92 719h1M99 719h1M8 721h1M23 721h1M66 721h1M70 721h1M110 721h1M71 723h1M87 723h1M98 723h1M107 723h1M8 725h1M59 725h1M74 725h1M125 725h1M30 728h1M70 728h1M56 730h1M77 730h1M89 730h1M115 730h1M14 732h1M20 732h1M106 732h1M27 734h1M40 734h1M43 734h1M85 734h1M20 736h1M104 736h1M108 736h1M23 739h1M26 739h1M51 739h1M155 739h1M82 741h1M13 743h1M26 743h1M34 743h1M52 743h1M56 743h1M63 743h1M68 743h1M103 743h2M119 743h1M121 743h1M34 745h1M36 745h1M68 745h1M95 745h1M76 748h1M98 748h1M145 748h1M5 750h1M19 750h1M26 750h2M31 750h1M38 750h1M42 750h1M46 750h1M54 750h1M60 750h1M70 750h1M78 750h2M91 750h1M93 750h1M123 750h1M135 750h1M11 752h1M20 752h1M24 752h1M27 752h1M38 752h1M43 752h1M45 752h2M49 752h1M53 752h3M64 752h1M72 752h3M88 752h1M98 752h1M100 752h1M103 752h1M115 752h1M22 754h1M34 754h1M55 754h1M59 754h1M63 754h1M70 754h1M78 754h1M82 754h2M89 754h1M97 754h1M103 754h1M111 754h1M24 756h1M29 756h1M37 756h1M41 756h1M55 756h2M77 756h1M87 756h1M103 756h2M108 756h1M51 759h1M60 759h1M73 759h1M86 759h1M155 759h1M7 761h1M70 761h1M93 761h1M111 761h1M12 763h1M37 763h1M55 763h1M57 763h1M68 763h1M104 763h1M150 763h1M38 765h1M58 765h1M89 765h1M155 765h1M19 768h1M36 768h1M88 768h1M117 768h1M19 772h1M25 772h1M29 772h1M31 772h3M52 772h1M80 772h1M108 772h1M123 772h1M38 777h1M31 779h1M38 779h1M26 781h1M31 783h1M130 783h1M68 785h1M58 788h1M95 788h1M32 792h1M68 792h1M58 799h1"/>
<path stroke="#443983" d="M25 88h1M44 88h1M57 90h1M63 90h1M80 90h1M107 90h1M110 90h1M53 93h1M119 93h1M35 95h1M75 95h1M81 95h1M27 97h1M35 97h1M43 97h1M87 97h1M108 97h1M113 97h1M82 101h1M113 101h1M28 104h1M61 104h1M55 106h1M61 106h1M111 106h1M155 106h1M13 108h1M23 108h1M12 110h1M61 110h1M135 110h1M71 113h1M70 115h1M97 115h2M101 115h1M108 115h1M19 117h1M69 117h1M74 119h1M113 119h1M145 119h1M61 121h1M94 121h1M100 121h1M61 124h1M72 124h1M155 124h1M46 126h1M69 126h1M13 128h1M17 128h1M24 128h1M50 128h1M69 128h1M72 128h1M100 128h1M6 133h1M99 133h1M23 135h1M67 135h1M89 135h1M92 135h1M98 135h1M61 137h1M94 137h1M43 139h1M61 139h1M83 139h1M8 142h1M56 142h1M56 150h1M61 150h1M64 150h1M125 150h1M23 153h1M123 153h1M107 155h1M123 155h1M53 157h1M69 157h1M75 157h1M23 159h2M69 162h1M71 162h1M34 164h1M71 164h1M113 164h1M21 166h1M24 166h1M34 166h1M81 166h1M83 166h1M7 168h1M21 168h1M115 168h1M51 171h1M135 171h1M108 173h1M70 175h1M108 175h1M130 177h1M33 179h2M87 179h1M108 179h1M7 182h1M26 182h1M87 184h1M98 184h1M107 184h1M73 186h1M150 188h1M51 191h1M150 191h1M9 193h1M19 193h1M61 193h1M74 193h1M108 193h1M19 195h1M50 197h1M26 199h1M69 199h1M108 199h1M155 199h1M75 202h1M109 202h1M121 202h1M135 202h1M39 204h1M51 204h1M100 204h1M107 204h1M121 204h1M12 206h1M117 206h1M16 208h1M30 208h1M90 208h1M35 213h1M43 213h1M46 213h1M51 213h1M59 213h1M61 213h1M64 213h1M105 213h1M18 215h1M55 215h1M123 215h1M150 215h1M35 217h1M43 217h1M123 217h1M155 217h1M39 220h1M42 220h1M99 222h1M24 224h1M83 224h1M99 224h1M123 224h1M85 226h1M12 228h1M59 228h1M7 231h1M83 231h1M108 231h2M7 233h1M17 233h1M70 233h1M32 235h2M36 235h1M63 235h1M117 235h1M101 237h1M23 240h1M36 240h1M49 240h1M83 240h1M51 242h1M70 242h1M106 242h1M108 242h1M35 244h1M73 244h1M94 244h1M150 244h1M113 246h1M43 248h1M123 248h1M35 251h1M46 251h1M50 251h1M74 251h1M9 253h1M14 253h1M36 253h1M46 253h1M56 253h1M80 253h1M36 255h1M44 255h1M107 255h1M130 255h1M54 257h1M25 260h1M43 260h1M46 260h1M80 260h1M135 260h1M22 262h1M35 262h1M54 262h1M108 262h1M135 262h1M17 264h1M35 264h1M107 264h1M121 264h1M23 266h1M46 266h1M119 266h1M121 266h1M22 269h1M50 269h1M98 269h1M8 271h1M28 273h1M34 273h1M51 273h1M82 273h2M106 273h1M108 273h1M26 275h1M46 275h1M51 275h1M107 275h1M109 275h1M64 277h1M44 280h1M55 280h1M75 280h1M135 280h1M56 282h1M66 282h2M135 282h1M7 284h1M36 284h1M46 284h1M72 284h1M113 284h1M123 284h1M145 284h1M12 286h1M16 286h1M80 286h1M31 289h1M91 289h1M16 291h1M35 293h2M64 293h1M72 293h1M23 295h1M113 295h1M36 298h1M51 298h1M35 300h1M34 302h2M43 302h1M65 302h1M98 302h1M20 304h1M44 304h1M90 304h1M110 304h1M29 306h1M34 306h2M43 306h1M35 309h1M105 309h1M32 311h1M43 311h1M42 313h3M108 313h1M36 315h1M73 315h1M108 315h1M19 318h1M113 318h1M123 318h1M61 320h1M105 320h1M123 320h1M26 322h1M145 322h1M20 324h1M103 324h1M107 324h1M40 326h1M67 326h1M21 329h1M34 329h1M44 329h1M87 329h1M96 329h1M7 331h1M44 331h2M56 331h1M61 331h1M44 333h1M41 335h1M47 335h1M82 335h1M99 335h1M6 338h1M13 338h1M32 338h1M37 338h1M100 338h1M14 340h1M38 340h1M47 340h1M83 340h1M36 342h1M38 342h1M125 342h1M9 344h1M42 344h1M115 344h1M43 347h1M45 347h1M41 349h1M69 349h1M74 349h1M85 349h1M13 351h1M41 351h1M140 351h1M33 353h1M44 353h1M52 353h1M75 353h1M7 355h1M39 355h1M89 355h1M99 355h1M20 358h1M67 358h1M96 358h1M18 360h1M46 360h1M64 360h1M45 362h1M44 364h3M108 364h1M24 367h1M26 367h1M32 367h1M43 367h1M47 367h1M104 367h1M135 367h1M28 369h1M44 369h1M55 369h1M38 371h1M42 371h1M67 371h1M53 373h1M74 373h2M70 375h1M107 375h1M123 375h1M22 378h1M30 378h1M36 378h1M39 378h1M53 378h1M83 378h1M107 378h1M22 380h1M44 380h1M115 380h1M11 382h1M41 382h2M72 382h1M87 382h1M98 382h1M155 382h1M22 384h1M49 384h1M87 384h1M109 384h1M115 384h1M37 387h1M42 387h1M14 389h1M50 389h1M61 389h1M64 389h1M39 391h1M66 391h1M91 391h1M37 393h1M46 393h1M83 393h1M37 396h1M96 396h1M34 398h1M39 398h1M61 398h1M83 398h1M37 400h1M44 402h1M54 402h1M6 404h1M92 404h1M42 407h1M44 407h1M107 407h1M33 409h3M44 409h1M50 409h1M64 409h1M50 411h1M52 411h1M94 411h1M34 413h1M36 413h1M38 413h1M72 413h1M89 413h1M8 416h1M50 416h1M123 416h1M130 416h1M7 418h1M37 418h1M52 418h1M100 418h1M23 420h1M64 420h1M76 420h1M87 420h1M38 422h1M17 425h1M69 425h1M92 425h1M34 427h1M76 427h1M92 427h1M117 427h1M20 429h1M74 429h1M39 431h1M52 431h1M80 431h1M39 433h1M56 436h1M67 436h1M155 436h1M23 438h1M46 438h1M92 440h1M110 440h1M67 442h1M76 445h1M80 445h1M135 445h1M20 447h1M67 447h1M108 447h1M44 449h1M69 449h1M155 451h1M17 453h1M37 453h1M30 456h1M100 458h1M113 458h1M78 460h1M130 460h1M22 462h1M54 465h1M67 467h1M9 471h1M22 474h1M39 474h1M52 474h1M31 476h1M57 476h1M76 476h1M13 478h1M16 482h1M19 482h1M87 482h1M104 482h1M150 485h1M155 485h1M64 487h1M70 487h1M64 489h1M109 489h1M91 491h1M94 491h1M6 494h1M15 494h1M32 494h1M70 494h1M74 500h1M74 502h1M119 505h1M8 507h1M103 507h1M119 507h1M130 507h1M15 509h1M74 509h1M73 511h1M98 511h1M8 514h1M90 514h1M94 514h1M104 514h1M16 516h1M61 518h1M82 518h1M107 518h1M100 520h1M51 523h1M53 523h1M83 525h1M94 525h1M64 527h1M107 527h1M61 529h1M88 529h1M44 534h1M82 534h1M94 534h1M23 536h1M79 536h1M11 540h2M83 545h1M86 545h1M94 545h1M123 545h1M36 547h1M155 547h1M52 552h1M52 554h1M66 554h1M91 554h1M98 554h1M123 554h1M104 556h1M43 560h1M107 565h1M67 569h1M119 572h1M17 574h1M9 576h1M56 578h1M123 578h1M7 580h1M20 580h1M70 580h1M80 580h1M108 580h1M40 583h1M98 585h1M104 589h1M17 592h1M52 592h1M74 592h1M123 592h1M30 594h1M32 594h1M107 596h1M17 603h1M37 603h1M87 603h1M39 605h1M63 605h1M89 605h1M123 605h1M64 607h1M73 621h1M16 623h1M21 623h1M17 627h1M61 629h1M113 629h1M10 632h1M78 632h1M35 638h1M20 643h1M56 643h1M18 647h1M64 647h1M92 647h1M123 647h1M7 650h1M81 650h1M135 650h1M121 652h1M107 654h1M99 658h1M44 665h1M28 667h1M123 667h1M17 670h1M35 670h1M150 670h1M44 672h1M23 674h1M33 674h1M102 674h1M30 676h1M117 676h1M34 681h1M71 683h1M37 685h1M100 687h1M20 690h1M50 690h1M80 690h1M123 690h1M7 692h1M35 692h1M75 692h1M76 696h1M39 699h1M31 703h1M102 703h1M34 710h1M110 710h1M34 712h1M110 712h1M31 716h1M8 719h1M22 719h1M51 719h1M10 723h1M23 723h1M18 725h1M72 725h1M54 728h1M89 728h1M119 728h1M30 730h1M50 730h1M43 732h1M89 732h1M13 734h1M17 734h1M61 736h1M135 736h1M150 736h1M61 739h1M108 739h1M57 745h1M89 745h1M17 748h1M96 748h1M28 750h1M30 750h1M39 750h2M45 750h1M81 750h1M85 750h1M98 750h1M26 752h1M36 752h1M56 752h1M67 752h1M77 752h1M81 752h1M85 752h2M105 752h1M23 754h1M27 754h1M49 754h1M52 754h1M54 754h1M80 754h2M94 754h1M11 756h1M16 756h1M20 756h1M31 756h1M47 756h1M59 756h1M61 756h1M78 756h1M88 756h1M90 756h1M35 759h1M49 759h1M75 759h1M113 759h1M9 761h1M25 761h1M29 761h1M48 761h1M60 761h1M87 761h1M108 761h1M110 761h1M155 761h1M32 763h1M71 763h1M81 763h1M85 763h1M35 765h1M37 765h1M96 765h1M150 765h1M67 768h1M115 768h1M26 772h1M50 772h1M74 772h1M79 772h1M85 772h1M92 772h1M101 772h1M26 774h1M140 774h1M135 779h1M31 781h1M68 783h1M145 783h1M130 785h1M31 788h1M32 790h1M38 792h1M58 797h1"/>
<path stroke="#414487" d="M55 90h1M123 93h1M9 95h1M90 97h1M119 101h1M55 104h1M107 106h1M44 108h1M87 108h1M13 110h1M23 110h1M55 110h1M61 113h1M55 115h1M61 115h1M55 117h1M52 124h1M155 126h1M67 130h1M36 135h1M98 137h1M104 139h1M61 142h1M64 142h1M17 144h1M113 150h1M26 159h1M16 164h1M26 164h1M39 166h1M20 168h1M32 168h1M36 168h1M119 168h1M69 171h1M64 175h1M83 175h1M70 177h1M108 184h1M98 186h1M20 195h1M61 195h1M96 195h1M61 197h1M135 204h1M39 206h1M96 206h1M110 206h1M12 208h1M98 208h1M107 208h1M29 211h1M35 215h1M92 220h1M46 224h1M67 224h1M83 226h1M69 228h1M104 231h1M35 235h1M67 237h1M16 240h2M86 244h1M150 246h1M135 248h1M92 260h1M34 262h1M61 262h1M92 262h1M46 264h1M130 264h1M46 269h1M155 269h1M83 271h1M46 273h1M108 275h1M39 277h1M52 277h1M110 280h1M35 282h1M64 284h1M46 286h1M46 291h1M36 295h1M20 302h1M47 302h1M34 304h1M39 306h1M108 306h1M13 309h1M39 309h1M44 309h1M45 311h1M16 313h1M45 313h1M72 313h1M123 315h1M42 318h1M5 320h1M40 320h1M46 320h1M98 320h1M20 326h1M96 326h1M150 326h1M88 329h1M96 331h1M39 333h1M45 333h1M67 333h1M42 335h1M34 338h2M39 338h1M46 338h1M67 338h1M36 340h1M123 340h1M39 344h1M43 344h1M107 344h1M19 347h2M94 347h1M37 351h1M39 351h2M105 351h1M67 353h1M44 355h1M46 355h1M150 355h1M43 358h1M121 358h1M44 360h1M20 362h1M29 362h1M20 364h1M38 364h1M45 367h1M67 369h1M35 371h1M41 371h1M45 371h1M92 373h1M40 378h1M37 380h1M39 380h1M22 382h1M40 382h1M14 387h1M38 387h1M40 389h2M44 391h1M44 393h1M56 393h1M35 402h1M41 402h1M87 402h1M110 402h1M35 404h1M42 404h2M52 404h1M45 407h1M51 407h1M39 409h1M42 411h1M72 411h1M83 413h1M7 416h1M38 416h1M43 416h1M45 418h1M37 422h1M61 422h1M135 422h1M17 427h1M39 427h1M41 427h1M41 433h1M37 436h1M27 440h1M56 442h1M96 451h1M123 451h1M83 453h1M104 453h1M67 458h1M67 460h1M83 465h1M74 469h1M76 469h1M34 471h1M21 476h1M67 476h1M27 485h1M65 487h1M67 487h1M108 487h1M83 491h1M11 496h1M12 502h1M96 505h1M108 505h1M11 507h1M15 507h1M104 507h1M14 509h1M100 509h1M130 509h1M16 514h1M15 516h1M93 520h1M94 527h1M75 529h1M106 534h1M94 540h1M63 549h1M67 567h1M16 569h1M73 572h1M37 580h1M37 589h1M83 609h1M74 618h1M100 621h1M109 636h1M34 650h1M67 658h1M110 658h1M51 661h1M16 667h1M44 667h1M28 672h1M61 679h1M101 685h1M28 687h1M16 707h1M61 712h1M150 719h1M123 728h1M53 730h1M123 730h1M115 734h1M26 745h1M74 750h1M80 756h1M21 759h1M31 759h1M53 759h1M56 759h1M71 759h1M102 759h1M106 759h1M110 759h1M8 761h1M13 761h1M15 761h1M44 761h2M92 761h1M94 761h1M98 761h1M20 763h1M73 763h1M78 763h1M100 763h1M103 763h1M111 763h1M40 765h1M62 765h2M72 765h1M80 765h1M87 765h1M99 765h1M103 765h1M110 765h1M40 768h1M51 768h1M72 768h1M91 768h1M105 768h1M108 768h1M110 768h1M155 768h1M15 772h1M27 772h1M59 772h1M62 772h1M70 772h1M89 772h2M97 772h1M100 772h1M102 772h1M105 772h1M31 777h2M135 781h1M145 785h1M31 794h1"/>
<path stroke="#3d4d8a" d="M55 95h1M123 95h1M61 97h1M108 113h1M34 117h1M59 124h1M52 126h1M74 128h1M17 130h1M55 130h1M55 133h1M64 148h1M69 148h1M69 150h1M35 153h1M30 179h1M87 182h1M13 184h1M108 186h1M96 208h1M36 220h1M96 231h1M36 257h1M17 260h1M36 262h1M36 271h1M67 273h1M36 286h1M47 300h1M98 300h1M44 315h1M46 318h1M98 318h1M47 320h1M35 322h1M47 322h1M61 322h1M67 324h1M42 331h1M35 340h1M39 340h2M40 342h1M44 342h1M36 344h2M37 349h1M45 349h1M47 349h1M61 349h1M67 351h1M40 355h1M67 360h1M18 362h1M40 362h1M42 364h1M67 364h1M35 367h1M40 367h1M36 369h1M42 369h1M43 371h1M45 373h1M46 375h1M44 378h1M38 382h1M43 384h1M45 389h1M17 391h1M45 391h1M39 396h1M37 398h1M46 398h1M42 400h2M36 402h2M45 402h1M110 404h1M36 407h1M43 407h1M45 411h1M45 413h1M44 416h1M38 418h1M17 422h1M30 422h1M41 429h1M43 433h1M24 436h1M25 438h1M34 449h1M23 453h1M39 453h1M25 456h1M92 456h1M36 458h1M36 460h1M22 465h2M34 467h1M22 471h1M23 474h1M25 474h1M67 474h1M21 482h1M25 482h1M20 496h1M18 500h1M110 507h1M14 511h1M15 514h1M17 567h1M119 578h1M115 736h1M50 759h1M69 759h1M72 759h1M87 759h2M96 759h1M101 759h1M104 759h1M5 761h1M30 761h2M47 761h1M63 761h1M78 761h1M89 761h1M102 761h1M47 763h1M64 763h1M74 763h1M109 763h1M39 765h1M43 765h1M55 765h1M81 765h1M101 765h1M113 765h1M47 768h1M50 768h1M70 768h1M98 768h1M119 768h1M121 768h1M155 770h1M14 772h1M24 772h1M36 772h1M44 772h1M46 772h1M49 772h1M51 772h1M60 772h1M81 772h1M88 772h1M94 772h1M106 772h1M135 783h1M26 788h1M130 788h1M32 799h1"/>
<path stroke="#39568c" d="M61 90h1M55 108h1M69 110h1M69 121h1M69 130h1M69 137h1M46 202h1M36 228h1M130 260h1M46 262h1M36 273h1M46 277h1M35 280h1M35 289h1M110 295h1M46 311h1M46 313h1M46 324h1M45 329h1M45 338h1M45 340h2M67 347h1M67 349h1M47 353h1M36 360h1M43 360h1M35 369h1M41 373h1M44 373h1M67 373h1M36 375h1M43 378h1M40 380h1M44 384h1M37 389h1M40 391h2M44 396h2M38 398h1M43 398h1M45 400h1M42 402h2M35 407h1M42 416h1M43 422h1M41 425h1M43 425h1M34 429h1M34 431h1M37 431h1M41 431h1M34 436h1M29 438h1M67 440h1M25 442h1M34 447h1M23 456h1M25 460h1M34 460h1M67 469h1M27 471h1M34 476h1M67 478h1M17 485h1M18 491h1M23 494h1M19 496h1M15 498h1M19 500h1M16 502h1M18 502h1M16 507h1M19 507h1M16 509h1M8 511h1M19 511h1M94 511h1M17 516h1M15 520h1M32 759h1M48 759h1M59 759h1M66 759h1M91 759h1M93 759h1M100 759h1M105 759h1M22 761h1M27 761h1M36 761h1M43 761h1M50 761h1M71 761h1M76 761h1M84 761h1M88 761h1M96 761h1M103 761h1M19 763h1M24 763h1M36 763h1M44 763h1M56 763h1M60 763h1M106 763h1M21 765h1M49 765h1M57 765h1M115 765h1M61 768h1M75 768h1M81 768h1M83 768h2M89 768h2M94 768h1M111 768h1M12 772h1M37 772h1M39 772h2M43 772h1M64 772h1M73 772h1M78 772h1M82 772h1M107 772h1M155 772h1M140 779h1M135 785h1M145 788h1M130 790h1M38 797h1"/>
<path stroke="#355f8d" d="M9 99h1M69 108h1M69 164h1M130 253h1M130 257h1M46 280h1M46 289h1M67 315h1M46 329h1M46 335h1M40 338h1M45 342h2M45 355h1M40 360h1M46 369h1M46 371h1M36 373h1M37 375h1M36 382h1M43 382h1M47 389h1M36 396h1M40 396h1M36 400h1M46 404h1M41 409h1M43 409h1M44 411h1M44 413h1M29 416h1M41 418h1M30 420h1M39 422h1M28 427h1M40 427h1M36 429h1M40 433h1M41 436h2M25 440h1M39 442h1M41 442h1M24 445h1M27 449h1M39 449h2M36 451h1M40 451h1M34 456h1M27 458h1M34 458h1M28 460h1M27 462h1M27 465h1M34 465h1M34 469h1M28 474h2M16 494h1M19 494h2M14 496h1M16 500h1M14 514h1M14 516h1M94 543h1M39 759h1M84 759h1M97 759h1M11 761h1M14 761h1M17 761h1M23 761h1M32 761h1M34 761h1M52 761h1M69 761h1M105 761h1M5 763h1M9 763h1M17 763h1M34 763h1M66 763h1M92 763h1M110 763h1M22 765h1M34 765h1M45 765h1M50 765h1M59 765h2M84 765h1M98 765h1M109 765h1M46 768h1M48 768h1M66 768h1M77 768h1M6 772h1M11 772h1M20 772h1M34 772h1M55 772h1M86 772h1M150 772h1M21 777h1M28 777h1M34 777h1M91 777h1M94 777h1M102 777h1M109 777h1M140 781h1M94 785h1M109 785h1M26 790h1M145 790h1M130 792h1M68 797h1M58 801h1"/>
<path stroke="#31688e" d="M61 101h1M130 262h1M36 282h1M46 300h1M46 309h1M47 315h1M46 331h1M67 331h1M36 362h1M36 371h1M46 373h2M36 380h1M23 384h1M29 387h1M36 393h1M29 396h1M36 398h1M46 402h1M41 411h1M36 416h1M30 418h1M36 418h1M43 418h1M28 420h1M29 422h1M37 425h1M42 425h1M36 427h1M43 427h1M29 431h1M34 433h2M29 436h1M39 436h1M34 440h1M42 440h1M34 445h1M36 445h1M25 447h1M24 449h1M35 449h1M28 462h1M25 465h1M27 467h1M22 469h1M25 469h1M25 471h1M29 471h1M36 471h1M21 478h1M28 478h1M25 480h1M20 482h1M27 482h1M18 485h1M25 487h1M24 489h1M19 491h2M24 491h1M14 494h1M15 496h1M23 498h1M15 500h1M20 500h1M15 505h2M14 507h1M17 509h1M15 518h1M12 759h1M17 759h1M22 759h1M43 759h1M90 759h1M41 761h1M26 763h2M54 763h1M72 763h1M26 765h1M28 765h1M30 765h2M53 765h1M69 765h1M86 765h1M88 765h1M102 765h1M104 765h1M7 768h1M18 768h1M30 768h2M49 768h1M59 768h2M69 768h1M79 768h2M109 768h1M12 777h1M14 777h1M22 777h1M29 777h2M39 777h1M42 777h1M47 777h2M51 777h1M54 777h1M61 777h1M72 777h1M74 777h1M83 777h1M86 777h1M98 777h1M104 777h2M108 777h1M34 779h1M111 781h1M140 783h1M12 785h1M30 785h1M42 785h1M47 785h1M52 785h1M88 785h1M102 785h1M135 788h1M95 790h1M135 790h1M145 792h1M130 794h1M145 794h1"/>
<path stroke="#2d708e" d="M47 313h1M46 326h1M46 344h1M35 347h1M42 358h1M42 360h1M36 364h1M40 364h1M35 387h1M47 387h1M40 393h1M35 400h1M28 407h1M41 407h1M29 411h1M28 416h1M40 416h1M28 418h1M43 420h1M36 422h1M34 425h1M37 427h1M42 427h1M35 431h2M43 431h1M27 433h1M36 436h1M27 438h1M39 438h1M41 438h1M25 445h1M27 445h1M24 447h1M35 447h1M25 451h1M28 451h1M27 453h1M35 453h1M29 462h1M34 462h1M29 465h1M23 467h1M21 471h1M21 474h1M23 476h1M20 478h1M21 480h1M28 485h1M25 489h1M16 491h1M24 494h1M20 498h1M24 498h1M14 502h1M17 502h1M19 505h1M19 509h2M13 759h1M52 759h1M80 759h1M39 761h1M82 761h1M6 763h1M18 763h1M22 763h1M61 763h1M70 763h1M108 763h1M25 765h1M52 765h1M70 765h1M93 765h1M107 765h1M23 768h1M25 768h1M39 768h1M45 768h1M53 768h1M82 768h1M93 768h1M96 768h1M100 768h1M125 770h1M17 777h1M25 777h1M36 777h1M46 777h1M49 777h1M69 777h1M78 777h1M81 777h1M87 777h1M96 777h1M103 777h1M106 777h1M111 777h1M30 779h1M33 779h1M9 781h1M12 781h1M21 781h1M27 781h1M30 781h1M43 785h1M92 785h1M12 788h1M69 790h1M68 799h1"/>
<path stroke="#2a788e" d="M36 304h1M23 347h1M46 349h1M42 362h1M46 367h1M44 371h1M23 382h1M35 384h2M36 389h1M43 393h1M43 396h1M35 398h1M40 398h1M40 404h1M29 407h1M36 409h1M40 409h1M42 409h1M40 418h1M29 420h1M35 420h2M44 422h1M28 425h1M42 438h1M24 440h1M39 440h1M24 442h1M39 445h1M39 447h1M25 449h1M34 451h1M36 453h1M36 456h1M25 458h1M27 460h1M35 465h1M37 465h1M25 467h1M23 469h1M28 471h1M34 474h1M19 478h1M25 478h1M27 478h1M29 480h1M18 482h1M21 485h1M20 487h1M17 491h1M18 494h1M16 498h1M17 500h1M17 505h1M18 507h1M20 507h1M17 518h1M14 520h1M15 765h1M19 765h2M61 765h1M66 765h1M9 768h2M14 768h1M42 768h1M55 768h1M64 768h1M73 768h1M86 768h1M113 770h1M45 772h1M57 772h1M71 772h1M111 772h1M5 777h1M10 777h2M37 777h1M52 777h1M62 777h1M77 777h1M79 777h1M93 777h1M97 777h1M155 777h1M21 779h1M13 781h1M123 781h1M12 783h1M9 785h1M49 785h1M51 785h1M105 785h1M123 785h1M101 788h1M111 790h1M38 799h1M32 801h1"/>
<path stroke="#27808e" d="M46 298h1M46 333h1M47 371h1M43 373h1M23 380h1M36 387h1M35 391h1M29 393h1M35 393h1M35 396h1M40 400h1M46 400h1M40 402h1M28 411h1M45 416h1M35 418h1M42 418h1M44 418h1M27 425h1M40 425h1M27 431h1M35 438h1M35 440h1M40 440h2M27 442h1M34 442h1M29 445h1M40 445h1M40 447h1M24 451h1M39 451h1M25 453h1M23 458h1M24 460h1M25 462h1M28 465h1M28 469h1M23 471h1M25 476h1M18 480h1M20 480h1M23 480h1M27 480h1M23 482h1M19 485h1M29 485h1M28 487h1M23 491h1M24 496h1M14 498h1M17 498h1M20 502h1M14 505h1M20 505h1M16 518h1M6 765h1M27 765h1M33 765h1M74 765h1M92 765h1M5 768h1M13 768h1M21 768h1M24 768h1M62 768h1M65 768h1M74 768h1M103 768h1M107 768h1M119 770h1M8 772h1M13 772h1M18 772h1M21 772h1M30 772h1M123 774h1M9 777h1M35 777h1M41 777h1M43 777h1M45 777h1M50 777h1M55 777h1M59 777h1M66 777h1M71 777h1M76 777h1M80 777h1M89 777h1M9 779h1M13 779h1M22 779h1M28 779h1M121 779h1M22 781h1M34 781h1M121 781h1M123 783h1M33 785h1M65 785h1M69 785h1M111 785h1M140 785h1M58 817h1M58 819h1"/>
<path stroke="#23888e" d="M35 344h1M47 369h1M46 382h1M29 384h1M29 391h1M45 393h1M36 404h1M29 409h1M40 411h1M29 413h1M42 420h1M28 422h1M29 427h1M37 429h1M43 429h1M28 433h1M40 436h1M27 447h1M36 447h1M27 451h1M27 456h1M29 456h1M23 460h1M29 467h1M35 467h1M27 474h1M35 474h1M20 476h1M18 478h1M20 485h1M25 485h1M18 487h1M24 487h1M17 489h1M20 489h1M17 494h1M17 496h1M14 500h1M24 500h1M19 502h1M18 509h1M14 518h1M17 765h1M29 765h1M15 770h1M21 770h1M62 770h1M67 770h1M87 770h1M91 770h1M110 770h1M115 770h1M117 770h1M121 770h1M123 770h1M7 772h1M53 772h1M104 772h1M110 772h1M115 774h1M117 774h1M121 774h1M24 777h1M40 777h1M63 777h2M75 777h1M82 777h1M110 777h1M125 777h1M111 779h1M125 781h1M13 783h1M30 783h1M90 785h2M103 785h1M125 785h1M30 788h1M111 788h1M95 792h1M130 797h1M130 817h1M145 817h1"/>
<path stroke="#21918c" d="M36 306h1M46 347h1M23 349h1M23 378h1M29 389h1M35 389h1M29 398h1M29 402h1M40 407h1M35 413h1M40 413h1M42 413h1M35 416h1M40 420h1M35 427h1M35 429h1M40 429h1M40 431h1M27 436h1M34 438h1M36 438h1M35 442h2M28 445h1M35 445h1M29 447h1M24 456h1M35 460h1M23 462h1M36 462h1M24 465h1M27 469h1M29 469h1M28 476h2M28 482h1M24 485h1M18 489h1M25 491h1M16 511h2M23 765h1M29 768h1M33 768h1M10 770h1M14 770h1M26 770h1M37 770h1M42 770h1M53 770h1M80 770h1M84 770h1M101 770h1M108 770h1M42 772h1M61 772h1M72 772h1M76 772h1M83 772h1M150 774h1M155 774h1M16 777h1M20 777h1M27 777h1M53 777h1M65 777h1M70 777h1M73 777h1M84 777h2M88 777h1M92 777h1M99 777h1M150 777h1M12 779h1M117 779h1M123 779h1M125 779h1M155 779h1M17 781h1M33 781h1M69 781h1M9 783h1M22 783h1M125 783h1M22 785h1M53 785h1M70 785h1M73 785h1M93 785h1M69 788h1M125 788h1M12 790h1M22 790h1M135 792h1M31 797h1M68 801h1M38 817h1M68 817h1"/>
<path stroke="#1f988b" d="M43 375h1M43 380h1M46 380h1M46 387h1M36 391h1M29 418h1M41 420h1M41 422h1M36 425h1M27 429h1M29 429h1M28 436h1M40 438h1M36 440h1M28 442h1M29 449h1M28 453h1M34 453h1M24 458h1M28 467h1M24 476h1M27 476h1M35 476h1M23 478h1M29 482h1M17 487h1M19 487h1M19 489h1M23 496h1M19 498h1M18 505h1M17 507h1M10 765h1M24 765h1M34 768h1M29 770h1M36 770h1M40 770h1M47 770h1M61 770h1M64 770h1M74 770h1M76 770h1M78 770h1M85 770h1M23 772h1M41 772h1M65 772h1M96 772h1M103 772h1M56 774h1M64 774h1M70 774h1M90 774h1M113 774h1M119 774h1M125 774h1M13 777h1M15 777h1M23 777h1M44 777h1M56 777h2M67 777h1M90 777h1M100 777h1M107 777h1M15 779h1M17 779h1M23 779h1M69 779h1M150 779h1M23 781h1M117 781h1M155 781h1M69 783h1M121 783h1M50 785h1M54 785h1M100 785h1M22 788h1M140 788h1M33 790h1M101 790h1M26 792h1M145 797h1M130 799h1M58 803h1M32 817h1"/>
<path stroke="#1fa188" d="M23 351h1M28 400h1M28 402h1M29 404h1M44 420h1M40 422h1M27 427h1M28 440h2M29 453h1M36 467h1M24 471h1M29 478h1M24 482h1M16 496h1M18 511h1M17 514h1M5 765h1M7 765h1M11 765h2M36 765h1M27 768h1M32 768h1M5 770h1M25 770h1M43 770h1M60 770h1M71 770h1M88 770h1M106 770h2M111 770h1M10 772h1M54 772h1M63 772h1M75 772h1M87 772h1M93 772h1M10 774h2M14 774h1M19 774h1M47 774h1M54 774h1M57 774h1M62 774h1M74 774h1M83 774h1M85 774h1M91 774h1M100 774h1M33 777h1M60 777h1M117 777h1M121 777h1M123 777h1M10 779h1M14 779h1M27 779h1M85 779h1M85 781h1M15 783h1M33 783h1M111 783h1M117 783h1M72 785h1M104 785h1M117 785h1M33 788h1M123 788h1M95 794h1M135 794h1M38 801h1M32 803h1M85 817h1"/>
<path stroke="#22a884" d="M23 353h1M23 375h1M46 378h1M28 404h1M35 422h1M35 425h1M29 433h1M42 433h1M35 436h1M40 442h1M24 469h1M36 469h1M24 474h1M28 489h1M18 765h1M26 768h1M22 770h3M69 770h1M82 770h1M93 770h1M96 770h1M104 770h1M109 770h1M16 772h1M9 774h1M21 774h1M65 774h1M103 774h1M105 774h1M108 774h1M15 781h1M41 785h1M74 785h1M81 785h1M89 785h1M110 785h1M145 799h1"/>
<path stroke="#2ab07f" d="M23 373h1M29 400h1M28 413h1M42 422h1M28 458h2M36 465h1M23 485h1M18 496h1M31 770h1M33 770h1M44 770h1M56 770h1M65 770h1M98 770h1M100 770h1M5 774h1M28 774h1M37 774h1M42 774h2M46 774h1M52 774h1M69 774h1M84 774h1M87 774h1M119 779h1M150 781h1M56 785h1M62 785h1M76 785h1M79 785h1M121 785h1M123 790h1M125 792h1M26 794h1"/>
<path stroke="#35b779" d="M23 355h1M23 369h1M23 371h1M28 409h1M42 429h1M42 431h1M35 451h1M35 462h1M19 480h1M13 770h1M19 770h1M32 770h1M51 770h1M55 770h1M57 770h1M63 770h1M66 770h1M72 770h2M81 770h1M97 770h1M99 770h1M5 772h1M12 774h2M16 774h1M27 774h1M76 774h1M92 774h1M96 774h2M109 774h1M150 783h1M96 785h1M125 790h1M31 799h1M130 801h1M28 803h1"/>
<path stroke="#44bf70" d="M23 367h1M35 411h1M36 449h1M29 451h1M35 456h1M35 458h1M24 462h1M24 467h1M35 471h1M24 480h1M28 480h1M23 487h1M23 489h1M18 498h1M8 770h2M17 770h2M20 770h1M28 770h1M34 770h1M50 770h1M77 770h1M86 770h1M90 770h1M94 770h1M20 774h1M22 774h1M40 774h1M45 774h1M48 774h1M50 774h2M73 774h1M80 774h1M113 777h1M155 783h1M55 785h1M61 785h1M82 785h1M86 785h2M140 790h1M140 792h1"/>
<path stroke="#54c568" d="M23 358h1M23 360h1M23 362h1M23 364h1M36 433h1M28 438h1M35 469h1M24 478h1M11 770h1M16 770h1M39 770h1M45 770h1M48 770h2M54 770h1M59 770h1M70 770h1M75 770h1M79 770h1M102 770h1M25 774h1M29 774h1M33 774h1M44 774h1M60 774h2M66 774h1M75 774h1M77 774h1M88 774h1M102 774h1M104 774h1M115 777h1M119 777h1M53 779h1M56 779h1M60 779h1M90 779h1M11 781h1M78 781h1M17 783h1M44 785h2M57 785h1M155 785h1M9 788h1M33 792h1M101 792h1M33 794h1M135 797h1M31 801h1M38 803h1M68 803h1M130 803h1M58 806h1"/>
<path stroke="#67cc5c" d="M28 447h1M28 449h1M24 453h1M12 770h1M30 770h1M35 770h1M46 770h1M52 770h1M89 770h1M92 770h1M24 774h1M34 774h1M41 774h1M55 774h1M67 774h1M72 774h1M81 774h1M93 774h1M111 774h1M5 779h1M39 779h1M83 779h1M89 779h1M92 779h1M92 781h1M98 781h1M14 783h1M34 783h1M40 785h1M59 785h1M63 785h1M67 785h1M75 785h1M12 792h1M30 792h1M123 792h1M145 801h1"/>
<path stroke="#7ad151" d="M28 456h1M29 460h1M27 770h1M41 770h1M83 770h1M103 770h1M105 770h1M30 774h1M36 774h1M53 774h1M63 774h1M71 774h1M78 774h2M89 774h1M98 774h1M107 774h1M110 774h1M79 779h1M115 779h1M113 781h1M21 783h1M27 783h1M27 785h1M48 785h1M78 785h1M80 785h1M85 785h1M108 785h1M150 785h1M135 799h1M32 806h1M86 817h1"/>
<path stroke="#90d743" d="M6 774h1M18 774h1M59 774h1M82 774h1M86 774h1M94 774h1M106 774h1M19 779h1M55 779h1M77 779h1M91 779h1M106 779h1M14 781h1M57 781h1M62 781h1M80 781h1M86 781h2M10 783h1M23 783h1M87 783h1M92 783h1M106 783h1M14 785h1M21 785h1M34 785h1M60 785h1M17 792h1M69 794h1M111 794h1M140 794h1M125 797h1M32 808h1M58 808h1"/>
<path stroke="#a5db36" d="M29 425h1M28 429h1M28 431h1M29 442h1M7 770h1M15 774h1M17 774h1M23 774h1M35 774h1M39 774h1M49 774h1M99 774h1M24 779h1M35 779h1M40 779h1M45 779h1M64 779h1M71 779h1M81 779h1M96 779h1M99 779h1M102 779h1M107 779h1M109 779h1M10 781h1M25 781h1M42 781h1M45 781h1M48 781h1M53 781h1M66 781h1M74 781h1M84 781h1M88 781h1M96 781h1M100 781h1M106 781h1M109 781h1M115 781h1M119 781h1M20 783h1M24 783h1M50 783h1M52 783h1M73 783h1M85 783h1M94 783h1M119 783h1M5 785h1M15 785h1M17 785h1M23 785h1M71 785h1M97 785h1M115 785h1M15 788h1M89 788h1M9 790h1M30 790h1M92 790h1M121 790h1M111 792h1M101 794h1M95 797h1M26 799h1M121 799h1M12 801h1M95 801h1M12 803h1M95 803h1M145 803h1M38 808h1M68 810h1M12 817h1M12 819h1"/>
<path stroke="#bddf26" d="M7 777h2M11 779h1M43 779h1M50 779h1M54 779h1M65 779h1M78 779h1M98 779h1M104 779h1M113 779h1M5 781h1M28 781h2M39 781h1M46 781h1M56 781h1M59 781h3M64 781h1M71 781h2M102 781h1M107 781h1M28 783h1M46 783h1M53 783h1M63 783h2M115 783h1M10 785h1M13 785h1M64 785h1M98 785h1M117 788h1M121 788h1M150 788h1M15 790h1M27 790h1M22 792h1M69 792h1M12 794h1M22 794h1M123 794h1M125 794h1M30 797h1M135 801h1M101 803h1M145 806h1M31 808h1M95 808h1M130 808h1M69 817h1"/>
<path stroke="#d2e21b" d="M6 768h1M6 770h1M8 774h1M20 779h1M29 779h1M42 779h1M44 779h1M48 779h2M52 779h1M66 779h1M74 779h1M82 779h1M19 781h1M40 781h2M52 781h1M70 781h1M82 781h2M89 781h1M29 783h1M43 783h1M55 783h1M79 783h1M90 783h1M28 785h1M13 792h1M15 792h1M85 792h1M155 792h1M117 794h1M12 797h1M95 799h1M140 799h1M101 801h1M31 803h1M111 803h1M130 806h1M38 814h1"/>
<path stroke="#eae51a" d="M16 779h1M59 779h1M70 779h1M73 779h1M76 779h1M80 779h1M88 779h1M93 779h1M97 779h1M105 779h1M67 781h1M76 781h1M25 783h1M56 783h1M78 783h1M99 783h1M113 783h1M17 788h1M155 788h1M13 790h1M140 797h1M135 803h1M145 808h1"/>
<path stroke="#fde725" d="M7 774h1M6 777h1M18 777h2M6 779h3M18 779h1M25 779h1M36 779h2M41 779h1M46 779h2M51 779h1M57 779h1M61 779h3M67 779h1M72 779h1M75 779h1M84 779h1M86 779h2M94 779h1M100 779h1M103 779h1M108 779h1M110 779h1M6 781h3M16 781h1M18 781h1M20 781h1M24 781h1M35 781h3M43 781h2M47 781h1M49 781h3M54 781h2M63 781h1M65 781h1M73 781h1M75 781h1M77 781h1M79 781h1M81 781h1M90 781h2M93 781h2M97 781h1M99 781h1M103 781h3M108 781h1M110 781h1M5 783h4M11 783h1M16 783h1M18 783h2M35 783h3M39 783h4M44 783h2M47 783h3M51 783h1M54 783h1M57 783h1M59 783h4M65 783h3M70 783h3M74 783h4M80 783h5M86 783h1M88 783h2M91 783h1M93 783h1M96 783h3M100 783h1M102 783h4M107 783h4M6 785h3M11 785h1M16 785h1M18 785h3M24 785h2M29 785h1M35 785h3M39 785h1M46 785h1M66 785h1M77 785h1M83 785h2M99 785h1M106 785h2M113 785h1M119 785h1M5 788h4M10 788h2M13 788h2M16 788h1M18 788h4M23 788h3M27 788h3M34 788h4M39 788h19M59 788h9M70 788h19M90 788h5M96 788h5M102 788h9M113 788h1M115 788h1M119 788h1M5 790h4M10 790h2M14 790h1M16 790h6M23 790h3M28 790h2M34 790h4M39 790h19M59 790h9M70 790h22M93 790h2M96 790h5M102 790h9M113 790h1M115 790h1M117 790h1M119 790h1M150 790h1M155 790h1M5 792h7M14 792h1M16 792h1M18 792h4M23 792h3M27 792h3M34 792h4M39 792h19M59 792h9M70 792h15M86 792h9M96 792h5M102 792h9M113 792h1M115 792h1M117 792h1M119 792h1M121 792h1M150 792h1M5 794h7M13 794h9M23 794h3M27 794h4M34 794h4M39 794h19M59 794h9M70 794h25M96 794h5M102 794h9M113 794h1M115 794h1M119 794h1M121 794h1M150 794h1M155 794h1M5 797h7M13 797h17M33 797h5M39 797h19M59 797h9M69 797h26M96 797h16M113 797h1M115 797h1M117 797h1M119 797h1M121 797h1M123 797h1M150 797h1M155 797h1M5 799h21M27 799h4M33 799h5M39 799h19M59 799h9M69 799h26M96 799h16M113 799h1M115 799h1M117 799h1M119 799h1M123 799h1M125 799h1M150 799h1M155 799h1M5 801h7M13 801h18M33 801h5M39 801h19M59 801h9M69 801h26M96 801h5M102 801h10M113 801h1M115 801h1M117 801h1M119 801h1M121 801h1M123 801h1M125 801h1M140 801h1M150 801h1M155 801h1M5 803h7M13 803h15M29 803h2M33 803h5M39 803h19M59 803h9M69 803h26M96 803h5M102 803h9M113 803h1M115 803h1M117 803h1M119 803h1M121 803h1M123 803h1M125 803h1M140 803h1M150 803h1M155 803h1M5 806h27M33 806h25M59 806h53M113 806h1M115 806h1M117 806h1M119 806h1M121 806h1M123 806h1M125 806h1M135 806h1M140 806h1M150 806h1M155 806h1M5 808h26M33 808h5M39 808h19M59 808h36M96 808h16M113 808h1M115 808h1M117 808h1M119 808h1M121 808h1M123 808h1M125 808h1M135 808h1M140 808h1M150 808h1M155 808h1M5 810h63M69 810h43M113 810h1M115 810h1M117 810h1M119 810h1M121 810h1M123 810h1M125 810h1M130 810h1M135 810h1M140 810h1M145 810h1M150 810h1M155 810h1M5 812h107M113 812h1M115 812h1M117 812h1M119 812h1M121 812h1M123 812h1M125 812h1M130 812h1M135 812h1M140 812h1M145 812h1M150 812h1M155 812h1M5 814h33M39 814h73M113 814h1M115 814h1M117 814h1M119 814h1M121 814h1M123 814h1M125 814h1M130 814h1M135 814h1M140 814h1M145 814h1M150 814h1M155 814h1M5 817h7M13 817h19M33 817h5M39 817h19M59 817h9M70 817h15M87 817h25M113 817h1M115 817h1M117 817h1M119 817h1M121 817h1M123 817h1M125 817h1M135 817h1M140 817h1M150 817h1M155 817h1M5 819h7M13 819h45M59 819h53M113 819h1M115 819h1M117 819h1M119 819h1M121 819h1M123 819h1M125 819h1M130 819h1M135 819h1M140 819h1M145 819h1M150 819h1M155 819h1"/>
</g><g stroke-width="1" transform="translate(0,0.5)">
<path stroke="#470d60" d="M7 86h1M15 86h1M17 86h1M19 86h1M34 86h1M42 86h1M48 86h2M54 86h1M87 86h1M98 86h1M101 86h1M109 86h1M140 86h1M11 91h1M13 91h1M21 91h1M25 91h1M31 91h1M37 91h1M40 91h1M45 91h1M49 91h1M53 91h1M59 91h1M65 91h1M82 91h1M84 91h3M88 91h2M91 91h1M108 91h1M113 91h1M115 91h1M7 102h1M11 102h1M19 102h1M24 102h1M28 102h2M44 102h1M51 102h1M60 102h1M72 102h1M76 102h1M78 102h1M88 102h1M90 102h1M98 102h2M101 102h1M105 102h2M115 102h1M117 102h1M145 102h1M150 102h1M11 111h1M14 111h1M23 111h1M41 111h1M46 111h1M53 111h1M55 111h1M57 111h1M59 111h1M62 111h2M65 111h2M68 111h1M80 111h1M83 111h1M86 111h1M96 111h1M101 111h1M106 111h1M117 111h1M145 111h1M13 122h1M22 122h1M26 122h1M37 122h1M44 122h1M48 122h1M59 122h1M64 122h2M75 122h1M83 122h1M96 122h1M108 122h1M111 122h1M121 122h1M150 122h1M6 131h1M12 131h2M20 131h2M31 131h1M34 131h1M39 131h1M48 131h1M57 131h1M62 131h1M65 131h2M75 131h1M91 131h1M150 131h1M23 140h1M28 140h1M36 140h1M44 140h2M52 140h1M69 140h1M77 140h1M82 140h2M90 140h1M95 140h1M99 140h1M104 140h1M111 140h1M113 140h1M115 140h1M140 140h1M9 151h1M46 151h1M57 151h1M61 151h1M72 151h1M83 151h1M86 151h1M115 151h1M135 151h1M140 151h1M6 160h1M9 160h1M17 160h2M86 160h1M90 160h1M93 160h1M108 160h3M115 160h1M18 169h1M23 169h2M28 169h2M32 169h3M53 169h1M56 169h1M58 169h1M62 169h1M67 169h1M72 169h1M84 169h2M99 169h1M106 169h1M110 169h1M16 180h1M20 180h1M36 180h1M43 180h1M59 180h1M64 180h1M69 180h1M77 180h1M81 180h1M103 180h1M123 180h1M145 180h1M9 189h1M12 189h1M26 189h1M29 189h1M35 189h1M41 189h1M50 189h2M55 189h1M80 189h1M91 189h1M93 189h1M97 189h1M99 189h2M109 189h1M111 189h1M5 200h1M10 200h1M21 200h1M28 200h1M35 200h2M38 200h1M41 200h1M47 200h1M57 200h1M59 200h1M61 200h1M66 200h1M71 200h1M77 200h2M102 200h1M121 200h1M125 200h1M36 209h1M42 209h1M49 209h1M65 209h1M72 209h2M82 209h1M99 209h1M105 209h1M107 209h1M111 209h1M113 209h1M155 209h1M7 218h1M10 218h1M16 218h1M26 218h1M30 218h1M38 218h1M43 218h1M55 218h1M63 218h1M87 218h1M89 218h1M92 218h1M102 218h1M110 218h1M115 218h1M15 229h1M24 229h1M26 229h1M32 229h1M34 229h1M46 229h2M49 229h1M78 229h1M86 229h2M91 229h1M99 229h1M107 229h1M155 229h1M29 238h1M32 238h2M41 238h1M43 238h1M55 238h1M67 238h1M77 238h2M80 238h1M83 238h3M87 238h1M93 238h1M100 238h1M103 238h1M125 238h1M135 238h1M6 249h1M17 249h1M29 249h1M40 249h2M46 249h1M67 249h2M72 249h1M78 249h1M81 249h1M87 249h1M96 249h1M101 249h1M109 249h1M115 249h1M117 249h1M125 249h1M135 249h1M145 249h1M27 258h1M32 258h1M38 258h2M43 258h1M52 258h1M64 258h1M71 258h1M86 258h1M100 258h1M108 258h1M110 258h2M17 267h1M22 267h1M26 267h1M38 267h1M43 267h1M53 267h2M65 267h1M72 267h1M83 267h1M88 267h1M90 267h1M101 267h1M140 267h1M11 278h1M20 278h1M23 278h1M45 278h1M51 278h1M55 278h1M60 278h1M94 278h1M97 278h1M101 278h2M111 278h1M150 278h1M11 287h1M14 287h2M32 287h2M35 287h1M37 287h1M39 287h1M82 287h1M88 287h1M90 287h1M103 287h1M17 296h1M19 296h1M24 296h1M32 296h1M43 296h1M53 296h1M56 296h1M66 296h1M82 296h1M89 296h1M94 296h1M96 296h1M99 296h1M107 296h1M111 296h1M117 296h1M123 296h1M6 307h2M11 307h1M19 307h1M43 307h1M48 307h1M56 307h1M59 307h1M69 307h2M73 307h1M75 307h1M78 307h1M96 307h1M102 307h2M105 307h1M108 307h1M135 307h1M5 316h1M10 316h1M18 316h1M21 316h1M24 316h1M27 316h1M34 316h1M37 316h1M40 316h1M46 316h1M73 316h1M89 316h2M101 316h1M105 316h1M9 327h2M15 327h1M32 327h1M36 327h1M38 327h1M47 327h1M56 327h1M63 327h1M73 327h1M75 327h1M77 327h1M81 327h1M108 327h1M110 327h1M135 327h1M8 336h3M12 336h1M14 336h1M28 336h1M30 336h1M33 336h1M45 336h1M59 336h1M64 336h1M69 336h1M76 336h1M78 336h1M81 336h1M84 336h1M89 336h1M98 336h1M6 345h3M12 345h2M21 345h1M23 345h1M28 345h1M48 345h1M53 345h2M59 345h1M62 345h1M70 345h2M74 345h1M76 345h1M95 345h1M98 345h1M103 345h1M106 345h1M110 345h1M115 345h1M119 345h1M10 356h1M26 356h1M57 356h1M64 356h1M68 356h1M72 356h1M81 356h2M88 356h2M92 356h1M102 356h1M105 356h1M119 356h1M125 356h1M135 356h1M6 365h1M9 365h1M28 365h1M31 365h1M44 365h1M69 365h2M76 365h1M89 365h1M91 365h1M93 365h1M101 365h1M140 365h1M145 365h1M11 376h2M14 376h1M21 376h1M40 376h1M42 376h1M55 376h1M65 376h1M75 376h1M80 376h1M84 376h1M90 376h1M98 376h1M105 376h1M107 376h1M123 376h1M130 376h1M145 376h1M155 376h1M8 385h1M24 385h2M33 385h1M45 385h1M50 385h1M53 385h1M65 385h1M70 385h2M87 385h1M100 385h1M102 385h1M117 385h1M123 385h1M150 385h1M6 394h1M8 394h2M14 394h1M18 394h1M30 394h1M44 394h1M48 394h1M66 394h1M69 394h1M84 394h1M86 394h1M93 394h1M96 394h1M121 394h1M18 405h3M23 405h1M30 405h1M32 405h1M44 405h1M65 405h2M73 405h1M76 405h1M86 405h1M103 405h2M115 405h1M121 405h1M135 405h1M5 414h1M14 414h1M37 414h1M54 414h1M58 414h1M65 414h2M70 414h1M103 414h2M130 414h1M155 414h1M12 423h2M16 423h1M26 423h1M31 423h1M48 423h1M51 423h1M56 423h1M58 423h1M61 423h1M65 423h1M67 423h1M72 423h2M75 423h1M78 423h1M82 423h2M91 423h1M102 423h2M107 423h1M111 423h1M115 423h1M30 434h1M43 434h3M60 434h1M66 434h1M71 434h1M80 434h2M95 434h1M107 434h1M121 434h1M155 434h1M6 443h1M37 443h1M42 443h1M47 443h1M56 443h3M67 443h1M73 443h1M87 443h2M101 443h1M104 443h1M111 443h1M123 443h1M150 443h1M5 454h1M11 454h1M20 454h1M37 454h1M42 454h1M44 454h1M60 454h2M79 454h1M86 454h1M90 454h1M93 454h1M96 454h1M104 454h1M117 454h1M20 463h1M39 463h1M43 463h1M57 463h1M59 463h2M63 463h1M79 463h1M91 463h1M93 463h1M98 463h1M101 463h1M117 463h1M119 463h1M121 463h1M6 472h1M15 472h1M38 472h1M40 472h1M49 472h1M80 472h1M83 472h1M85 472h1M95 472h1M97 472h1M99 472h1M105 472h1M130 472h1M11 483h1M16 483h1M47 483h2M50 483h2M62 483h1M64 483h2M72 483h1M88 483h1M91 483h1M100 483h1M111 483h1M140 483h1M150 483h1M9 492h1M26 492h2M40 492h1M45 492h1M55 492h2M60 492h1M64 492h1M66 492h1M72 492h1M74 492h1M106 492h1M110 492h1M113 492h1M115 492h1M125 492h1M145 492h1M7 503h1M36 503h2M41 503h2M63 503h1M75 503h1M78 503h1M85 503h1M101 503h1M113 503h1M155 503h1M6 512h1M12 512h1M27 512h1M35 512h1M43 512h1M51 512h1M56 512h1M78 512h1M82 512h1M87 512h1M89 512h1M109 512h1M115 512h1M119 512h1M135 512h1M6 521h1M31 521h1M33 521h1M37 521h1M50 521h2M61 521h1M71 521h2M74 521h1M80 521h1M88 521h3M93 521h1M99 521h1M106 521h1M109 521h1M115 521h1M125 521h1M155 521h1M6 532h1M8 532h1M11 532h2M15 532h1M28 532h1M49 532h1M51 532h1M64 532h1M77 532h1M81 532h1M87 532h2M93 532h1M99 532h2M130 532h1M6 541h1M13 541h1M34 541h1M44 541h1M46 541h1M54 541h2M61 541h1M70 541h2M73 541h1M76 541h1M85 541h1M103 541h1M109 541h1M125 541h1M135 541h1M5 550h1M42 550h1M44 550h1M52 550h1M60 550h1M63 550h1M68 550h2M87 550h2M102 550h1M117 550h1M121 550h1M7 561h1M9 561h1M17 561h1M21 561h1M46 561h1M49 561h1M59 561h1M62 561h1M65 561h1M68 561h1M70 561h1M78 561h1M92 561h1M97 561h1M105 561h2M115 561h1M130 561h1M155 561h1M11 570h1M14 570h1M17 570h1M24 570h1M27 570h4M42 570h2M47 570h1M53 570h1M59 570h1M78 570h2M98 570h1M103 570h1M140 570h1M7 581h1M11 581h1M21 581h1M29 581h1M34 581h1M40 581h1M44 581h1M67 581h1M72 581h2M75 581h1M77 581h1M79 581h1M87 581h1M89 581h1M99 581h1M155 581h1M34 590h1M37 590h1M47 590h1M50 590h2M83 590h2M88 590h1M90 590h1M92 590h1M96 590h1M107 590h1M109 590h1M135 590h1M8 599h1M18 599h1M22 599h1M26 599h2M41 599h1M53 599h1M57 599h1M62 599h1M73 599h2M84 599h1M97 599h1M106 599h1M110 599h1M117 599h1M13 610h1M27 610h1M32 610h1M37 610h1M39 610h1M44 610h2M68 610h1M72 610h1M110 610h2M119 610h1M7 619h1M11 619h1M18 619h1M23 619h1M27 619h1M31 619h1M34 619h1M41 619h1M44 619h1M49 619h2M55 619h1M62 619h1M70 619h1M79 619h1M96 619h1M119 619h1M17 630h1M24 630h1M32 630h1M37 630h1M61 630h1M71 630h1M75 630h1M92 630h1M98 630h1M102 630h1M105 630h1M108 630h1M110 630h1M20 639h1M28 639h1M34 639h1M45 639h1M47 639h1M59 639h1M66 639h1M69 639h1M77 639h1M86 639h1M89 639h2M94 639h1M100 639h1M109 639h1M113 639h1M123 639h1M9 648h1M19 648h1M29 648h1M34 648h1M37 648h1M43 648h1M74 648h1M111 648h1M121 648h1M6 659h1M14 659h1M20 659h1M24 659h1M31 659h1M50 659h1M57 659h1M67 659h1M74 659h1M83 659h1M119 659h1M11 668h1M16 668h2M22 668h2M26 668h1M32 668h4M42 668h2M45 668h1M50 668h1M61 668h2M64 668h1M79 668h1M85 668h1M89 668h1M92 668h2M96 668h1M98 668h1M100 668h1M104 668h1M113 668h1M6 677h1M25 677h1M32 677h1M40 677h1M50 677h1M52 677h1M69 677h1M74 677h1M80 677h2M90 677h1M93 677h1M113 677h1M9 688h2M12 688h1M15 688h1M20 688h1M27 688h1M34 688h1M36 688h1M44 688h1M53 688h1M55 688h2M60 688h1M71 688h2M104 688h1M106 688h2M111 688h1M117 688h1M123 688h1M130 688h1M155 688h1M13 697h1M28 697h1M65 697h1M69 697h1M71 697h2M75 697h1M79 697h2M87 697h1M89 697h1M96 697h1M101 697h1M109 697h1M150 697h1M8 708h1M11 708h2M17 708h1M23 708h1M27 708h1M30 708h1M44 708h1M50 708h1M61 708h1M68 708h1M84 708h1M88 708h1M90 708h1M92 708h1M105 708h2M29 717h1M33 717h1M36 717h1M42 717h1M61 717h2M67 717h1M105 717h2M20 726h2M51 726h2M57 726h1M66 726h1M75 726h1M83 726h1M89 726h1M94 726h1M98 726h1M115 726h1M119 726h1M135 726h1M37 737h1M50 737h1M56 737h1M60 737h1M77 737h1M91 737h1M96 737h2M110 737h1M140 737h1M6 746h1M16 746h1M28 746h4M40 746h1M54 746h1M58 746h1M60 746h1M71 746h2M87 746h1M94 746h1M98 746h1M101 746h1M121 746h1M150 746h1M18 757h1M32 757h1M58 757h1M65 757h1M67 757h1M92 757h1M99 757h1M121 757h1M140 757h1M6 766h1M21 766h1M66 766h1M72 766h1M77 766h1M95 766h1M99 766h1M121 766h1M123 766h1M38 775h1M68 775h1M145 775h1M32 786h1M32 795h1"/>
<path stroke="#481a6c" d="M8 86h1M16 86h1M18 86h1M29 86h1M41 86h1M45 86h1M47 86h1M65 86h1M70 86h2M85 86h1M91 86h1M106 86h1M113 86h1M123 86h1M155 86h1M6 91h1M12 91h1M16 91h1M22 91h1M26 91h1M32 91h1M35 91h2M48 91h1M55 91h2M58 91h1M63 91h1M74 91h1M83 91h1M121 91h1M123 91h1M150 91h1M25 102h1M33 102h1M38 102h1M42 102h1M53 102h1M59 102h1M73 102h1M87 102h1M97 102h1M104 102h1M113 102h1M130 102h1M12 111h1M24 111h1M29 111h1M33 111h1M37 111h1M50 111h1M52 111h1M70 111h1M74 111h1M85 111h1M89 111h1M98 111h1M105 111h1M113 111h1M20 122h1M28 122h1M30 122h1M40 122h3M47 122h1M63 122h1M72 122h1M86 122h1M99 122h2M106 122h1M110 122h1M115 122h1M119 122h1M125 122h1M11 131h1M14 131h1M24 131h1M32 131h1M37 131h1M40 131h1M43 131h2M67 131h2M81 131h1M93 131h1M99 131h1M107 131h1M117 131h1M12 140h1M16 140h1M21 140h1M31 140h1M42 140h1M46 140h2M51 140h1M56 140h1M89 140h1M94 140h1M105 140h1M119 140h1M130 140h1M145 140h1M15 151h1M18 151h2M39 151h1M51 151h1M60 151h1M74 151h1M81 151h1M84 151h2M87 151h2M91 151h1M93 151h1M123 151h1M125 151h1M145 151h1M23 160h2M33 160h2M39 160h1M44 160h1M48 160h1M53 160h2M56 160h1M70 160h1M72 160h1M79 160h1M82 160h1M85 160h1M100 160h1M113 160h1M121 160h1M130 160h1M5 169h1M17 169h1M47 169h1M59 169h2M74 169h1M82 169h1M86 169h1M89 169h1M98 169h1M100 169h1M104 169h1M108 169h1M140 169h1M6 180h2M24 180h1M32 180h2M45 180h1M49 180h1M60 180h1M71 180h1M80 180h1M82 180h1M93 180h1M96 180h2M107 180h1M121 180h1M130 180h1M155 180h1M7 189h1M11 189h1M19 189h1M25 189h1M33 189h1M52 189h1M56 189h1M58 189h1M62 189h3M66 189h2M69 189h1M82 189h1M86 189h1M92 189h1M104 189h1M107 189h1M12 200h1M19 200h1M26 200h1M60 200h1M81 200h2M87 200h1M92 200h1M117 200h1M130 200h1M135 200h1M5 209h1M14 209h1M18 209h1M26 209h1M30 209h1M40 209h2M51 209h1M58 209h1M61 209h1M64 209h1M69 209h1M78 209h1M87 209h1M92 209h2M110 209h1M119 209h1M121 209h1M123 209h1M11 218h1M15 218h1M34 218h1M54 218h1M73 218h1M80 218h1M82 218h2M91 218h1M95 218h1M98 218h1M103 218h1M5 229h1M11 229h1M17 229h1M25 229h1M27 229h1M39 229h1M52 229h1M59 229h1M63 229h1M66 229h1M69 229h1M72 229h1M75 229h1M84 229h1M88 229h1M104 229h1M135 229h1M150 229h1M21 238h1M27 238h1M30 238h1M34 238h1M39 238h1M44 238h1M70 238h1M74 238h1M94 238h1M115 238h1M121 238h1M140 238h1M13 249h2M18 249h1M24 249h1M28 249h1M32 249h1M43 249h2M65 249h1M69 249h1M83 249h1M98 249h2M111 249h1M150 249h1M6 258h1M26 258h1M36 258h1M40 258h1M70 258h1M80 258h1M88 258h1M94 258h1M98 258h2M105 258h1M107 258h1M113 258h1M135 258h1M140 258h1M145 258h1M16 267h1M25 267h1M47 267h1M59 267h1M85 267h1M95 267h1M145 267h1M9 278h1M12 278h1M17 278h2M27 278h1M34 278h1M64 278h1M84 278h2M105 278h1M110 278h1M125 278h1M7 287h2M22 287h2M25 287h1M29 287h2M34 287h1M69 287h1M83 287h1M85 287h1M89 287h1M94 287h1M98 287h1M100 287h1M107 287h2M110 287h1M130 287h1M155 287h1M39 296h1M42 296h1M48 296h1M62 296h1M65 296h1M69 296h1M72 296h1M81 296h1M83 296h1M155 296h1M15 307h1M18 307h1M21 307h1M31 307h2M38 307h1M40 307h1M47 307h1M55 307h1M57 307h1M67 307h1M72 307h1M83 307h1M92 307h1M94 307h1M117 307h1M23 316h1M26 316h1M29 316h1M32 316h1M39 316h1M47 316h1M49 316h1M56 316h1M59 316h1M74 316h1M88 316h1M97 316h1M104 316h1M130 316h1M31 327h1M35 327h1M41 327h2M61 327h2M78 327h1M84 327h1M88 327h1M91 327h2M94 327h2M99 327h2M104 327h1M117 327h1M123 327h1M125 327h1M150 327h1M155 327h1M31 336h1M39 336h1M41 336h1M53 336h2M72 336h1M74 336h1M80 336h1M94 336h1M100 336h1M105 336h1M113 336h1M145 336h1M150 336h1M155 336h1M11 345h1M49 345h1M64 345h1M86 345h1M90 345h1M99 345h1M101 345h1M104 345h1M108 345h1M135 345h1M145 345h1M155 345h1M15 356h1M17 356h1M20 356h1M22 356h1M33 356h1M35 356h2M50 356h3M55 356h2M58 356h1M62 356h1M71 356h1M90 356h2M94 356h1M96 356h1M100 356h1M110 356h1M123 356h1M130 356h1M5 365h1M10 365h1M18 365h1M24 365h2M32 365h1M34 365h1M36 365h2M59 365h1M74 365h1M90 365h1M96 365h1M98 365h1M108 365h2M125 365h1M8 376h1M22 376h1M35 376h1M49 376h2M53 376h1M66 376h1M81 376h1M86 376h1M103 376h1M117 376h1M125 376h1M140 376h1M9 385h1M13 385h2M20 385h2M27 385h1M37 385h1M40 385h1M48 385h1M51 385h1M61 385h1M72 385h1M77 385h1M98 385h2M110 385h1M121 385h1M130 385h1M155 385h1M11 394h1M52 394h1M64 394h1M94 394h1M97 394h1M100 394h1M104 394h1M109 394h1M125 394h1M155 394h1M6 405h2M22 405h1M47 405h1M83 405h1M90 405h1M92 405h2M99 405h1M145 405h1M9 414h1M50 414h1M61 414h1M72 414h2M75 414h1M82 414h1M85 414h1M89 414h2M92 414h1M105 414h1M113 414h1M135 414h1M9 423h1M15 423h1M17 423h2M20 423h1M22 423h1M32 423h1M46 423h1M50 423h1M55 423h1M60 423h1M64 423h1M69 423h1M74 423h1M96 423h1M101 423h1M121 423h1M5 434h1M10 434h1M12 434h1M22 434h1M26 434h1M38 434h1M52 434h1M54 434h2M59 434h1M64 434h1M78 434h1M94 434h1M104 434h1M130 434h1M135 434h1M150 434h1M5 443h1M26 443h1M50 443h1M55 443h1M64 443h1M75 443h1M83 443h1M85 443h1M89 443h1M103 443h1M117 443h1M130 443h1M135 443h1M66 454h2M71 454h2M77 454h1M82 454h1M98 454h3M105 454h2M109 454h1M115 454h1M123 454h1M9 463h1M16 463h1M21 463h1M45 463h1M51 463h1M70 463h1M80 463h1M84 463h1M94 463h1M5 472h1M9 472h2M33 472h1M46 472h2M56 472h1M59 472h1M61 472h1M66 472h1M74 472h1M94 472h1M104 472h1M113 472h1M119 472h1M121 472h1M150 472h1M37 483h1M42 483h1M49 483h1M58 483h1M69 483h1M80 483h1M84 483h1M105 483h1M8 492h1M10 492h1M29 492h1M32 492h1M35 492h1M38 492h1M69 492h1M73 492h1M79 492h2M82 492h1M97 492h1M109 492h1M25 503h4M39 503h1M51 503h1M80 503h1M83 503h1M89 503h1M96 503h2M104 503h1M110 503h1M119 503h1M125 503h1M130 503h1M10 512h1M20 512h1M41 512h1M44 512h1M55 512h1M70 512h1M74 512h1M80 512h1M96 512h1M100 512h1M110 512h1M117 512h1M121 512h1M10 521h1M12 521h1M17 521h1M20 521h1M23 521h1M25 521h2M35 521h1M52 521h1M55 521h1M78 521h1M92 521h1M107 521h1M23 532h2M31 532h1M50 532h1M58 532h1M66 532h1M71 532h1M92 532h1M113 532h1M115 532h1M135 532h1M150 532h1M5 541h1M10 541h1M22 541h1M28 541h1M37 541h1M45 541h1M59 541h1M64 541h1M74 541h1M87 541h1M89 541h1M104 541h1M106 541h1M117 541h1M140 541h1M150 541h1M8 550h1M15 550h2M21 550h1M23 550h2M56 550h1M64 550h1M96 550h1M106 550h1M108 550h1M13 561h1M34 561h1M39 561h1M43 561h1M50 561h1M61 561h1M64 561h1M76 561h1M84 561h1M89 561h1M91 561h1M100 561h1M110 561h1M145 561h1M5 570h1M12 570h1M20 570h2M32 570h1M34 570h1M39 570h1M69 570h1M85 570h1M93 570h1M100 570h1M117 570h1M155 570h1M12 581h1M15 581h1M19 581h1M24 581h1M35 581h1M54 581h1M66 581h1M68 581h1M70 581h1M92 581h1M100 581h1M113 581h1M115 581h1M117 581h1M140 581h1M5 590h1M16 590h1M38 590h2M43 590h2M52 590h1M59 590h1M86 590h1M91 590h1M94 590h1M98 590h2M108 590h1M17 599h1M25 599h1M28 599h1M34 599h1M39 599h1M55 599h1M64 599h1M67 599h1M93 599h2M96 599h1M99 599h1M107 599h1M121 599h1M125 599h1M135 599h1M150 599h1M5 610h1M19 610h1M23 610h1M28 610h1M33 610h1M49 610h1M77 610h1M125 610h1M150 610h1M53 619h1M60 619h1M69 619h1M72 619h2M77 619h1M81 619h1M83 619h1M104 619h2M130 619h1M150 619h1M8 630h1M11 630h1M31 630h1M40 630h1M42 630h1M46 630h1M51 630h1M56 630h1M59 630h1M63 630h1M65 630h1M81 630h2M97 630h1M106 630h2M113 630h1M11 639h1M17 639h1M27 639h1M30 639h1M41 639h1M46 639h1M60 639h2M64 639h1M70 639h1M96 639h1M145 639h1M20 648h1M26 648h1M30 648h1M49 648h1M58 648h1M63 648h2M69 648h2M73 648h1M77 648h1M79 648h1M81 648h1M91 648h1M98 648h1M108 648h1M123 648h1M145 648h1M7 659h1M9 659h1M12 659h1M21 659h1M26 659h1M32 659h1M48 659h1M64 659h1M66 659h1M73 659h1M88 659h2M94 659h1M97 659h1M8 668h1M12 668h1M19 668h1M28 668h1M58 668h1M73 668h1M94 668h1M102 668h1M109 668h1M115 668h1M119 668h1M14 677h1M20 677h1M37 677h1M46 677h1M49 677h1M57 677h1M78 677h1M85 677h1M92 677h1M6 688h1M32 688h1M37 688h1M41 688h1M48 688h2M51 688h1M62 688h1M66 688h1M69 688h1M75 688h1M82 688h1M135 688h1M12 697h1M21 697h1M24 697h1M27 697h1M34 697h1M52 697h1M59 697h1M83 697h1M16 708h1M22 708h1M24 708h1M43 708h1M48 708h1M55 708h2M59 708h1M63 708h1M66 708h1M74 708h1M79 708h1M86 708h1M95 708h2M107 708h1M5 717h1M17 717h2M24 717h1M43 717h1M52 717h1M63 717h1M73 717h1M75 717h2M79 717h1M92 717h1M99 717h1M150 717h1M5 726h1M12 726h1M14 726h1M26 726h1M30 726h1M33 726h1M37 726h1M40 726h1M100 726h2M121 726h1M123 726h1M13 737h1M18 737h1M25 737h2M28 737h1M35 737h1M39 737h1M63 737h1M69 737h1M78 737h1M88 737h1M94 737h1M115 737h1M117 737h1M135 737h1M9 746h1M11 746h3M25 746h2M39 746h1M75 746h1M77 746h1M88 746h1M91 746h2M95 746h2M109 746h1M119 746h1M135 746h1M25 757h1M38 757h1M42 757h1M64 757h1M68 757h1M75 757h2M84 757h1M113 757h1M145 757h1M36 766h1M39 766h1M58 766h1M62 766h1M68 766h1M87 766h1M95 775h1M38 786h1M58 786h1"/>
<path stroke="#482475" d="M22 86h2M25 86h2M36 86h1M51 86h2M62 86h1M75 86h1M79 86h1M82 86h2M93 86h2M119 86h1M150 86h1M7 91h1M18 91h1M27 91h1M43 91h1M64 91h1M67 91h1M80 91h1M102 91h1M107 91h1M110 91h1M5 102h1M31 102h1M56 102h1M63 102h1M77 102h1M79 102h1M107 102h1M123 102h1M7 111h1M69 111h1M73 111h1M109 111h1M135 111h1M140 111h1M12 122h1M16 122h2M36 122h1M51 122h2M55 122h1M66 122h1M74 122h1M92 122h1M107 122h1M130 122h1M7 131h2M25 131h1M55 131h1M64 131h1M82 131h1M84 131h1M86 131h1M90 131h1M98 131h1M110 131h1M123 131h1M6 140h1M9 140h1M20 140h1M22 140h1M34 140h1M61 140h1M74 140h1M76 140h1M101 140h1M108 140h1M125 140h1M23 151h1M34 151h1M54 151h1M63 151h1M67 151h1M69 151h1M71 151h1M90 151h1M94 151h2M102 151h1M5 160h1M12 160h1M14 160h1M25 160h1M29 160h1M46 160h1M61 160h1M69 160h1M87 160h1M42 169h1M44 169h1M61 169h1M71 169h1M75 169h2M81 169h1M93 169h1M96 169h1M150 169h1M10 180h1M13 180h1M25 180h2M30 180h1M53 180h1M57 180h1M70 180h1M90 180h1M99 180h1M110 180h1M119 180h1M18 189h1M20 189h1M36 189h1M40 189h1M44 189h1M48 189h1M79 189h1M101 189h2M125 189h1M7 200h1M24 200h1M58 200h1M63 200h2M67 200h1M75 200h1M85 200h1M105 200h1M107 200h1M119 200h1M35 209h1M43 209h1M46 209h1M50 209h1M54 209h1M66 209h1M81 209h1M90 209h1M98 209h1M101 209h1M108 209h1M13 218h1M29 218h1M39 218h1M44 218h1M48 218h1M56 218h1M62 218h1M67 218h1M71 218h1M85 218h1M88 218h1M111 218h1M121 218h1M155 218h1M16 229h1M21 229h1M50 229h1M58 229h1M67 229h1M71 229h1M76 229h1M79 229h1M92 229h1M109 229h1M121 229h1M8 238h1M20 238h1M47 238h1M51 238h3M73 238h1M88 238h1M90 238h1M96 238h1M99 238h1M130 238h1M11 249h1M20 249h1M31 249h1M47 249h1M50 249h1M74 249h1M77 249h1M80 249h1M82 249h1M100 249h1M105 249h1M108 249h1M110 249h1M46 258h1M55 258h1M59 258h1M77 258h1M85 258h1M102 258h1M106 258h1M123 258h1M125 258h1M8 267h1M12 267h1M18 267h1M28 267h1M35 267h1M55 267h1M61 267h1M63 267h1M74 267h2M79 267h1M100 267h1M19 278h1M46 278h1M57 278h1M67 278h1M72 278h1M76 278h1M96 278h1M98 278h1M108 278h1M123 278h1M6 287h1M13 287h1M17 287h1M19 287h1M21 287h1M26 287h1M38 287h1M50 287h1M72 287h1M91 287h1M96 287h1M109 287h1M7 296h1M12 296h1M50 296h2M61 296h1M67 296h1M73 296h1M87 296h1M100 296h1M113 296h1M145 296h1M46 307h1M89 307h1M107 307h1M123 307h1M130 307h1M155 307h1M16 316h1M19 316h1M30 316h1M42 316h1M52 316h1M78 316h1M91 316h1M109 316h1M111 316h1M117 316h1M119 316h1M5 327h1M14 327h1M21 327h1M103 327h1M106 327h2M109 327h1M20 336h1M22 336h1M40 336h1M42 336h1M71 336h1M95 336h1M99 336h1M119 336h1M10 345h1M15 345h1M17 345h2M26 345h1M34 345h1M44 345h2M50 345h1M58 345h1M69 345h1M83 345h1M96 345h1M19 356h1M25 356h1M27 356h1M37 356h1M43 356h1M63 356h1M69 356h1M98 356h1M107 356h1M109 356h1M140 356h1M145 356h1M20 365h1M26 365h1M33 365h1M39 365h2M43 365h1M47 365h1M51 365h1M54 365h1M56 365h1M78 365h1M99 365h1M102 365h1M104 365h1M106 365h1M113 365h1M115 365h1M20 376h1M24 376h1M39 376h1M47 376h1M78 376h1M83 376h1M85 376h1M88 376h1M91 376h1M97 376h1M115 376h1M22 385h1M31 385h1M44 385h1M62 385h1M73 385h1M76 385h1M82 385h1M91 385h1M107 385h1M109 385h1M16 394h1M25 394h1M46 394h1M51 394h1M67 394h1M70 394h1M105 394h1M107 394h1M8 405h1M12 405h1M38 405h1M45 405h1M60 405h1M64 405h1M94 405h1M107 405h2M130 405h1M6 414h2M31 414h2M39 414h1M84 414h1M96 414h1M99 414h1M107 414h1M109 414h1M11 423h1M59 423h1M77 423h1M89 423h1M92 423h1M98 423h1M108 423h1M145 423h1M7 434h1M9 434h1M16 434h2M25 434h1M33 434h1M47 434h1M50 434h1M74 434h1M83 434h1M92 434h1M101 434h1M115 434h1M125 434h1M12 443h2M20 443h1M22 443h1M45 443h1M52 443h1M72 443h1M76 443h1M121 443h1M21 454h1M56 454h1M107 454h1M135 454h1M19 463h1M26 463h1M49 463h1M67 463h1M103 463h1M108 463h1M130 463h1M17 472h1M30 472h1M37 472h1M63 472h1M71 472h1M82 472h1M88 472h1M90 472h1M101 472h1M109 472h1M6 483h1M52 483h1M74 483h3M96 483h1M99 483h1M108 483h1M145 483h1M6 492h1M21 492h1M28 492h1M59 492h1M67 492h2M70 492h1M77 492h1M98 492h1M101 492h1M123 492h1M130 492h1M8 503h1M13 503h1M34 503h1M40 503h1M55 503h2M60 503h1M107 503h2M123 503h1M52 512h1M68 512h1M71 512h1M75 512h2M106 512h1M24 521h1M27 521h1M30 521h1M53 521h1M63 521h1M67 521h1M76 521h1M103 521h1M13 532h1M17 532h1M45 532h2M52 532h1M56 532h1M59 532h1M102 532h1M7 541h1M14 541h1M23 541h1M51 541h1M67 541h1M86 541h1M98 541h1M113 541h1M115 541h1M7 550h1M27 550h1M36 550h1M50 550h2M99 550h1M103 550h1M123 550h1M5 561h1M20 561h1M27 561h1M31 561h1M55 561h1M150 561h1M72 570h1M101 570h1M107 570h1M115 570h1M119 570h1M135 570h1M26 581h1M33 581h1M45 581h1M64 581h1M80 581h1M83 581h1M90 581h1M107 581h2M110 581h1M125 581h1M7 590h1M25 590h1M29 590h1M61 590h1M64 590h1M74 590h3M93 590h1M101 590h1M104 590h2M110 590h1M123 590h1M6 599h1M12 599h1M15 599h1M40 599h1M45 599h1M51 599h1M61 599h1M65 599h1M83 599h1M86 599h1M90 599h1M115 599h1M24 610h1M46 610h1M64 610h1M66 610h1M94 610h1M101 610h1M108 610h1M113 610h1M123 610h1M155 610h1M13 619h1M38 619h1M52 619h1M61 619h1M74 619h3M109 619h1M23 630h1M76 630h1M80 630h1M85 630h1M87 630h1M93 630h1M125 630h1M22 639h2M33 639h1M37 639h1M49 639h2M57 639h1M62 639h1M65 639h1M93 639h1M110 639h1M125 639h1M39 648h1M61 648h1M80 648h1M104 648h1M107 648h1M135 648h1M16 659h1M18 659h1M61 659h1M85 659h1M96 659h1M99 659h1M107 659h1M125 659h1M145 659h1M25 668h1M36 668h1M39 668h1M54 668h1M59 668h1M70 668h1M86 668h1M110 668h1M150 668h1M17 677h1M23 677h1M61 677h1M72 677h1M87 677h1M91 677h1M101 677h1M117 677h1M150 677h1M16 688h1M19 688h1M28 688h1M50 688h1M83 688h1M96 688h1M101 688h1M108 688h1M115 688h1M8 697h1M10 697h1M14 697h1M22 697h1M33 697h1M39 697h2M44 697h1M49 697h1M73 697h1M82 697h1M94 697h1M104 697h1M108 697h1M117 697h1M6 708h1M25 708h1M40 708h1M71 708h1M80 708h1M82 708h1M94 708h1M11 717h1M22 717h1M26 717h1M35 717h1M51 717h1M64 717h1M98 717h1M109 717h1M17 726h1M43 726h1M74 726h1M76 726h1M104 726h1M130 726h1M14 737h1M19 737h2M29 737h1M80 737h1M83 737h1M90 737h1M92 737h1M101 737h1M107 737h2M150 737h1M155 737h1M22 746h1M34 746h1M38 746h1M44 746h2M52 746h1M57 746h1M64 746h1M89 746h1M99 746h1M111 746h1M123 746h1M21 757h1M26 757h1M35 757h1M51 766h1M61 766h1M74 766h1M119 766h1M125 766h1M145 766h1M32 775h1M135 775h1M26 786h1M31 786h1M68 786h1M38 795h1M58 795h1"/>
<path stroke="#472f7d" d="M10 86h1M56 86h1M72 86h1M76 86h1M97 86h1M110 86h1M17 91h1M24 91h1M34 91h1M39 91h1M42 91h1M57 91h1M109 91h1M48 102h1M64 102h1M100 102h1M119 102h1M125 102h1M30 111h1M43 111h1M61 111h1M78 111h1M84 111h1M108 111h1M110 111h1M39 122h1M53 122h1M67 122h1M70 122h1M91 122h1M123 122h1M17 131h1M23 131h1M33 131h1M53 131h1M60 131h1M85 131h1M108 131h1M7 140h1M14 140h1M18 140h1M43 140h1M59 140h1M64 140h1M155 140h1M29 151h1M37 151h1M55 151h1M113 151h1M30 160h1M37 160h1M42 160h1M63 160h1M71 160h1M73 160h1M83 160h1M92 160h1M96 160h1M98 160h1M107 160h1M117 160h1M36 169h1M50 169h1M91 169h2M107 169h1M11 180h1M17 180h1M40 180h1M65 180h1M87 180h2M98 180h1M108 180h1M115 180h1M30 189h1M70 189h1M72 189h1M103 189h1M106 189h1M108 189h1M140 189h1M46 200h1M51 200h1M73 200h1M76 200h1M93 200h1M106 200h1M53 209h1M56 209h1M59 209h1M5 218h1M36 218h1M42 218h1M113 218h1M7 229h1M31 229h1M42 229h1M53 229h1M101 229h1M14 238h1M23 238h1M50 238h1M75 238h1M107 238h1M119 238h1M21 249h1M26 249h1M30 249h1M36 249h1M39 249h1M90 249h1M121 249h1M7 258h1M14 258h1M25 258h1M67 258h1M74 258h1M83 258h1M121 258h1M130 258h1M56 267h1M92 267h1M98 267h1M107 267h1M121 267h1M125 267h1M150 267h1M155 267h1M37 278h1M41 278h1M44 278h1M50 278h1M52 278h1M75 278h1M130 278h1M40 287h1M59 287h1M62 287h1M64 287h1M80 287h1M135 287h1M11 296h1M37 296h1M92 296h1M108 296h1M12 307h2M16 307h1M61 307h1M82 307h1M113 307h1M13 316h1M41 316h1M44 316h2M61 316h1M65 316h1M70 316h1M102 316h1M123 316h1M23 327h2M40 327h1M87 327h1M96 327h1M98 327h1M17 336h1M35 336h3M47 336h1M55 336h1M82 336h2M88 336h1M121 336h1M9 345h1M19 345h1M30 345h1M39 345h1M55 345h1M61 345h1M72 345h1M93 345h2M97 345h1M100 345h1M121 345h1M7 356h1M12 356h1M70 356h1M75 356h1M45 365h1M67 365h1M82 365h1M110 365h1M30 376h1M41 376h1M43 376h1M17 385h1M34 385h1M47 385h1M74 385h1M78 385h1M83 385h1M113 385h1M135 385h1M12 394h1M33 394h1M37 394h3M42 394h1M61 394h1M92 394h1M103 394h1M119 394h1M16 405h1M34 405h1M48 405h1M53 405h1M57 405h1M71 405h1M80 405h1M110 405h2M150 405h1M155 405h1M8 414h1M22 414h1M56 414h1M63 414h1M69 414h1M100 414h1M24 423h1M99 423h1M104 423h1M20 434h1M24 434h1M37 434h1M69 434h1M53 443h1M105 443h1M13 454h1M43 454h1M74 454h1M83 454h1M92 454h1M102 454h1M46 463h1M50 463h1M81 463h1M13 472h1M52 472h1M55 472h1M17 483h1M32 483h1M66 483h2M83 483h1M103 483h2M119 483h1M125 483h1M12 492h1M22 492h1M42 492h1M53 492h1M91 492h1M94 492h1M12 503h1M45 503h1M86 503h1M15 512h1M22 512h1M46 512h1M50 512h1M90 512h1M98 512h1M19 521h1M57 521h1M44 532h1M67 532h1M74 532h1M31 541h1M56 541h1M96 541h1M107 541h1M25 550h1M75 550h1M98 550h1M113 550h1M53 561h1M83 561h1M85 561h1M113 561h1M8 570h1M16 570h1M73 570h1M75 570h1M91 570h1M42 581h1M26 590h1M42 590h1M70 590h1M87 590h1M56 599h1M92 599h1M155 599h1M12 610h1M17 610h1M92 610h1M104 610h1M20 619h1M110 619h1M145 619h1M10 630h1M78 630h1M96 630h1M103 630h1M155 630h1M8 648h1M46 648h1M13 659h1M82 659h1M100 659h1M20 668h1M44 668h1M30 677h1M35 677h1M7 688h1M42 688h1M110 688h1M119 688h1M19 697h1M46 697h1M107 697h1M64 708h1M83 708h1M98 708h1M31 717h1M77 717h1M81 717h1M91 717h1M107 717h1M12 737h1M61 737h1M104 737h1M50 746h2M56 746h1M68 746h1M76 746h1M84 746h1M46 757h1M70 757h1M79 757h1M93 757h1M105 766h1M26 775h1M58 775h1M95 786h1M68 795h1"/>
<path stroke="#443983" d="M32 86h1M108 86h1M98 91h1M104 91h1M135 91h1M15 102h1M82 102h1M17 111h1M34 111h1M82 111h1M7 122h1M94 122h1M98 122h1M28 131h1M35 131h1M69 131h1M92 140h1M110 140h1M30 151h1M35 151h1M64 151h1M104 151h1M26 160h1M8 169h1M20 169h1M39 169h1M51 169h1M22 180h1M51 180h1M39 189h1M43 189h1M87 189h1M17 200h1M109 200h1M7 209h1M12 209h1M17 209h1M29 209h1M39 209h1M96 209h1M135 209h1M35 218h1M57 218h1M70 218h1M140 218h1M83 229h1M96 229h1M113 229h1M9 238h1M17 238h1M40 238h1M69 238h1M8 249h1M61 249h1M75 249h1M11 258h1M17 258h1M20 258h1M35 258h1M81 258h1M36 267h1M71 267h1M119 267h1M130 267h1M104 278h1M155 278h1M51 287h1M60 287h1M22 296h2M54 296h1M104 296h1M110 296h1M135 296h1M34 307h1M115 307h1M17 316h1M35 316h1M51 316h1M66 316h2M108 316h1M113 316h1M13 327h1M44 327h2M6 336h1M32 336h1M34 336h1M106 336h1M108 336h1M20 345h1M84 345h1M92 345h1M38 356h2M45 356h1M67 356h1M99 356h1M150 356h1M11 365h1M135 365h1M17 376h1M45 376h1M59 376h1M64 376h1M150 376h1M5 385h1M23 385h1M59 385h1M108 385h1M27 394h1M56 394h1M83 394h1M70 405h1M85 405h1M43 414h1M110 414h1M38 423h1M76 423h1M88 423h1M56 434h1M18 443h1M51 443h1M82 443h1M100 443h1M107 443h1M119 454h1M125 454h1M10 463h1M12 463h1M74 463h1M18 472h1M44 483h1M87 483h1M123 483h1M155 483h1M65 492h1M83 492h1M73 503h1M92 503h1M13 512h1M94 512h1M13 521h1M22 532h1M98 532h1M29 541h1M53 541h1M145 541h1M74 550h1M37 561h1M15 570h1M35 570h1M52 570h1M83 610h1M100 619h1M107 619h1M74 630h1M33 648h1M92 648h1M51 659h1M86 659h1M110 659h1M82 668h1M123 668h1M64 677h1M23 717h1M50 717h1M8 726h1M20 757h1M23 757h1M47 757h1M53 757h1M61 757h1M82 757h1M87 757h1M109 757h1M150 757h1M155 757h1M46 766h2M85 766h1M92 766h1M100 766h1M103 766h1M155 766h1M31 775h1"/>
<path stroke="#414487" d="M13 86h1M92 91h1M96 91h1M46 102h1M16 160h1M123 160h1M52 169h1M69 169h1M74 180h1M155 200h1M22 209h1M33 209h1M61 218h1M69 218h1M36 229h1M64 249h1M50 258h1M92 258h1M110 267h1M135 278h1M61 287h1M64 296h1M91 296h1M35 307h1M39 307h1M43 316h1M98 316h1M107 316h1M44 336h1M46 336h1M37 345h1M41 345h3M47 345h1M67 345h1M107 345h1M38 365h1M41 365h2M37 376h1M36 385h1M39 385h1M42 385h1M35 394h1M45 394h1M37 405h1M51 405h1M34 414h1M64 414h1M123 414h1M135 423h1M51 434h1M74 443h1M21 472h1M34 472h1M70 472h1M75 472h1M22 483h1M20 492h1M76 503h1M8 512h1M94 532h1M61 581h1M67 590h1M51 610h1M56 659h1M61 688h1M98 697h1M43 737h1M36 746h1M29 757h1M31 757h1M39 757h1M73 757h1M94 757h1M97 757h1M102 757h1M106 757h1M40 766h2M43 766h1M70 766h1M79 766h1M117 766h1M150 766h1M101 775h1M140 775h1M130 786h1"/>
<path stroke="#3d4d8a" d="M9 91h1M55 102h1M150 189h1M108 200h1M35 249h1M36 287h1M35 296h2M36 316h1M46 345h1M38 376h1M46 385h1M40 394h2M41 405h3M39 423h1M39 434h1M30 454h1M39 454h1M27 463h1M94 521h1M12 757h1M33 757h1M41 757h1M66 757h1M85 757h1M100 757h1M104 757h1M111 757h1M64 766h1M145 786h1"/>
<path stroke="#39568c" d="M61 91h1M35 238h1M44 307h1M67 327h1M40 356h1M44 356h1M30 423h1M37 423h1M25 443h1M40 443h1M23 454h1M27 454h1M34 454h1M37 463h1M19 492h1M19 503h1M94 541h1M6 757h1M8 757h1M10 757h1M13 757h1M24 757h1M34 757h1M37 757h1M48 757h1M55 757h2M63 757h1M107 757h1M56 766h1M76 766h1M86 766h1M98 766h1M110 766h1"/>
<path stroke="#355f8d" d="M69 122h1M46 267h1M46 287h1M46 296h1M36 345h1M46 356h1M36 376h1M38 385h1M36 394h1M36 414h1M29 423h1M36 423h1M36 443h1M27 472h1M24 492h1M17 503h1M11 757h1M51 757h1M69 757h1M72 757h1M103 757h1M105 757h1M32 766h1M60 766h1M63 766h1M65 766h1M84 766h1M96 766h1M107 766h1M30 775h1M39 775h1M101 786h1M135 786h1"/>
<path stroke="#31688e" d="M61 102h1M43 385h1M35 405h1M38 414h1M34 423h1M36 434h1M39 443h1M41 443h1M22 472h2M19 483h1M27 483h1M14 503h1M16 503h1M19 512h1M5 757h1M14 757h1M30 757h1M43 757h1M80 757h1M86 757h1M91 757h1M13 766h1M19 766h1M25 766h1M30 766h1M33 766h1M69 766h1M75 766h1M82 766h1M97 766h1M10 775h1M13 775h3M41 775h1M43 775h1M45 775h1M62 775h1M71 775h1M73 775h1M92 775h1M103 775h1M108 775h1M155 775h1M9 786h1M30 786h1"/>
<path stroke="#2d708e" d="M61 122h1M35 345h1M42 356h1M43 394h1M40 405h1M35 414h1M42 414h1M45 414h1M41 423h1M43 423h1M34 443h1M23 483h1M28 483h1M15 492h1M18 492h1M15 503h1M20 503h1M19 757h1M54 757h1M81 757h1M88 757h1M90 757h1M5 766h1M10 766h1M20 766h1M55 766h1M57 766h1M67 766h1M71 766h1M88 766h1M93 766h1M102 766h1M104 766h1M106 766h1M17 775h2M21 775h1M34 775h1M36 775h1M50 775h1M60 775h1M63 775h1M78 775h2M87 775h1M93 775h1M102 775h1M104 775h1M109 775h2M150 775h1M69 786h1M31 795h1"/>
<path stroke="#2a788e" d="M46 376h1M29 394h1M36 405h1M29 414h1M27 423h1M25 454h1M36 454h1M29 463h1M25 472h1M28 472h1M17 492h1M14 512h1M18 766h1M22 766h1M29 766h1M37 766h1M44 766h2M53 766h2M80 766h2M108 766h1M9 775h1M16 775h1M27 775h1M37 775h1M44 775h1M48 775h2M74 775h1M84 775h2M91 775h1M98 775h2M107 775h1M111 786h1M130 795h1"/>
<path stroke="#27808e" d="M28 414h1M41 434h1M24 443h1M29 454h1M18 483h1M20 483h2M29 483h1M16 492h1M16 512h1M18 512h1M14 521h1M8 766h2M27 766h1M49 766h1M83 766h1M101 766h1M11 775h1M20 775h1M22 775h1M51 775h1M53 775h1M65 775h1M76 775h1M82 775h2M89 775h1M94 775h1M96 775h1M106 775h1M123 786h1M58 815h1"/>
<path stroke="#23888e" d="M28 423h1M42 423h1M27 434h1M34 434h1M27 443h1M34 463h1M29 472h1M18 503h1M16 766h1M24 766h1M5 775h1M19 775h1M25 775h1M28 775h2M46 775h1M55 775h1M57 775h1M59 775h1M80 775h2M100 775h1M111 775h1M115 775h1M119 775h1M125 775h1M33 786h1M140 786h1M130 815h1"/>
<path stroke="#21918c" d="M28 405h1M44 414h1M35 423h1M42 434h1M28 443h1M35 443h1M28 463h1M36 463h1M24 472h1M35 472h2M24 483h2M23 492h1M17 512h1M12 766h1M34 766h1M12 775h1M33 775h1M35 775h1M54 775h1M56 775h1M61 775h1M67 775h1M72 775h1M88 775h1M97 775h1M117 775h1M22 786h1M145 795h1M38 815h1M68 815h1"/>
<path stroke="#1f988b" d="M23 376h1M29 385h1M35 385h1M40 414h1M35 434h1M40 434h1M25 463h1M11 766h1M26 766h1M23 775h2M40 775h1M42 775h1M47 775h1M52 775h1M64 775h1M66 775h1M69 775h1M75 775h1M77 775h1M90 775h1M113 775h1M121 775h1M123 775h1M12 786h1M125 786h1M58 804h1M32 815h1"/>
<path stroke="#1fa188" d="M40 423h1M28 434h1M35 454h1M23 463h1M35 463h1M14 766h1M17 766h1M23 766h1M28 766h1M31 766h1M35 766h1M70 775h1M86 775h1M105 775h1"/>
<path stroke="#22a884" d="M29 434h1M24 454h1M117 786h1"/>
<path stroke="#2ab07f" d="M29 405h1M135 795h1"/>
<path stroke="#44bf70" d="M23 356h1M24 463h1M121 786h1M32 804h1"/>
<path stroke="#54c568" d="M23 365h1M29 443h1M15 804h1"/>
<path stroke="#7ad151" d="M28 454h1M15 786h1M95 795h1M68 804h1M31 815h1"/>
<path stroke="#90d743" d="M81 786h1M105 786h1M155 786h1M26 795h1M130 804h1"/>
<path stroke="#a5db36" d="M17 786h1M56 786h1M84 786h1"/>
<path stroke="#bddf26" d="M13 786h2M28 786h1M85 786h1M150 786h1M125 795h1M140 795h1M38 804h1"/>
<path stroke="#d2e21b" d="M6 775h1M16 786h1M23 786h1M40 786h1M66 786h1M75 786h1M22 795h1M69 795h1M123 795h1M140 804h1M145 804h1"/>
<path stroke="#eae51a" d="M8 775h1M51 786h1M12 795h1M31 804h1"/>
<path stroke="#fde725" d="M7 775h1M5 786h4M10 786h2M18 786h4M24 786h2M27 786h1M29 786h1M34 786h4M39 786h1M41 786h10M52 786h4M57 786h1M59 786h7M67 786h1M70 786h5M76 786h5M82 786h2M86 786h9M96 786h5M102 786h3M106 786h5M113 786h1M115 786h1M119 786h1M5 795h7M13 795h9M23 795h3M27 795h4M33 795h5M39 795h19M59 795h9M70 795h25M96 795h16M113 795h1M115 795h1M117 795h1M119 795h1M121 795h1M150 795h1M155 795h1M5 804h10M16 804h15M33 804h5M39 804h19M59 804h9M69 804h43M113 804h1M115 804h1M117 804h1M119 804h1M121 804h1M123 804h1M125 804h1M135 804h1M150 804h1M155 804h1M5 815h26M33 815h5M39 815h19M59 815h9M69 815h43M113 815h1M115 815h1M117 815h1M119 815h1M121 815h1M123 815h1M125 815h1M135 815h1M140 815h1M145 815h1M150 815h1M155 815h1"/>
</g>
</g></g>
<rect x="1016.50" y="85.50" width="36.00" height="737.00" fill="url(#vg)"/>
<g fill="none" stroke="#000" stroke-width="1.11">
<rect x="98.50" y="85.50" width="864.00" height="737.00"/>
<rect x="1016.50" y="85.50" width="36.00" height="737.00"/>
<path d="M179.50 822.50v5.25"/><path d="M287.50 822.50v5.25"/><path d="M395.50 822.50v5.25"/><path d="M503.50 822.50v5.25"/><path d="M611.50 822.50v5.25"/><path d="M719.50 822.50v5.25"/><path d="M827.50 822.50v5.25"/><path d="M935.50 822.50v5.25"/><path d="M98.50 810.50h-5.25"/><path d="M98.50 689.50h-5.25"/><path d="M98.50 569.50h-5.25"/><path d="M98.50 448.50h-5.25"/><path d="M98.50 327.50h-5.25"/><path d="M98.50 206.50h-5.25"/><path d="M98.50 85.50h-5.25"/><path d="M1052.50 822.50h5.25"/><path d="M1052.50 699.50h5.25"/><path d="M1052.50 577.50h5.25"/><path d="M1052.50 454.50h5.25"/><path d="M1052.50 331.50h5.25"/><path d="M1052.50 208.50h5.25"/><path d="M1052.50 85.50h5.25"/>
</g>
<g opacity="0.999">
<text transform="matrix(0.9350 0.0000 0.0000 1.0676 159.76 43.90)" font-size="28" xml:space="preserve">IRF</text>
<text transform="matrix(1.0768 0.0000 0.0000 1.0513 211.68 43.64)" font-size="28" xml:space="preserve">Kiruna</text>
<text transform="matrix(1.0909 0.0000 0.0000 1.0513 310.37 43.64)" font-size="28" xml:space="preserve">Ionosonde</text>
<text transform="matrix(1.0619 0.0000 0.0000 1.0405 462.71 43.64)" font-size="28" xml:space="preserve">KI167</text>
<text transform="matrix(1.1162 0.0000 0.0000 1.0405 550.68 43.64)" font-size="28" xml:space="preserve">2025-12-21</text>
<text transform="matrix(1.1383 0.0000 0.0000 1.0405 720.96 43.64)" font-size="28" xml:space="preserve">05:07:00</text>
<text transform="matrix(1.0015 0.0000 0.0000 1.0539 863.10 43.64)" font-size="28" xml:space="preserve">UT</text>
<text transform="matrix(1.0910 0.0000 0.0000 1.0513 233.17 76.64)" font-size="28" xml:space="preserve">noise</text>
<text transform="matrix(0.8971 0.0000 0.0000 0.8916 306.55 78.76)" font-size="28" xml:space="preserve">_</text>
<text transform="matrix(1.1726 0.0000 0.0000 1.0513 320.76 76.64)" font-size="28" xml:space="preserve">floor=-118.74</text>
<text transform="matrix(1.0869 0.0000 0.0000 0.9827 523.20 75.00)" font-size="28" xml:space="preserve">(dB)</text>
<text transform="matrix(1.0983 0.0000 0.0000 1.0596 590.18 76.81)" font-size="28" xml:space="preserve">peak</text>
<text transform="matrix(1.0948 0.0000 0.0000 1.0405 666.73 76.64)" font-size="28" xml:space="preserve">SNR=94.58</text>
<text transform="matrix(1.0725 0.0000 0.0000 1.0427 442.47 873.22)" font-size="21" stroke="#000" stroke-width="0.07" xml:space="preserve">Frequency</text>
<text transform="matrix(1.0376 0.0000 0.0000 0.9513 556.80 872.61)" font-size="21" stroke="#000" stroke-width="0.07" xml:space="preserve">(MHz)</text>
<text transform="matrix(0.0000 -1.1226 1.0033 0.0000 37.65 548.93)" font-size="21" stroke="#000" stroke-width="0.07" xml:space="preserve">Virtual</text>
<text transform="matrix(0.0000 -1.1034 0.9876 0.0000 37.46 474.31)" font-size="21" stroke="#000" stroke-width="0.07" xml:space="preserve">range</text>
<text transform="matrix(0.0000 -1.1342 0.9513 0.0000 36.86 407.32)" font-size="21" stroke="#000" stroke-width="0.07" xml:space="preserve">(km)</text>
<text transform="matrix(0.0000 -0.9657 1.0535 0.0000 1108.64 500.87)" font-size="21" stroke="#000" stroke-width="0.07" xml:space="preserve">SNR</text>
<text transform="matrix(0.0000 -1.0960 0.9513 0.0000 1107.86 451.27)" font-size="21" stroke="#000" stroke-width="0.07" xml:space="preserve">(dB)</text>
<text transform="matrix(1.0055 0.0000 0.0000 1.0713 173.09 847.90)" font-size="21" stroke="#000" stroke-width="0.16" xml:space="preserve">2</text>
<text transform="matrix(0.9821 0.0000 0.0000 1.0898 280.85 847.90)" font-size="21" stroke="#000" stroke-width="0.16" xml:space="preserve">4</text>
<text transform="matrix(1.1080 0.0000 0.0000 1.0535 387.99 847.64)" font-size="21" stroke="#000" stroke-width="0.16" xml:space="preserve">6</text>
<text transform="matrix(1.0822 0.0000 0.0000 1.0535 496.27 847.64)" font-size="21" stroke="#000" stroke-width="0.16" xml:space="preserve">8</text>
<text transform="matrix(1.0262 0.0000 0.0000 1.0535 598.56 847.64)" font-size="21" stroke="#000" stroke-width="0.16" xml:space="preserve">10</text>
<text transform="matrix(1.0386 0.0000 0.0000 1.0713 706.54 847.90)" font-size="21" stroke="#000" stroke-width="0.16" xml:space="preserve">12</text>
<text transform="matrix(1.0730 0.0000 0.0000 1.0898 814.49 847.90)" font-size="21" stroke="#000" stroke-width="0.16" xml:space="preserve">14</text>
<text transform="matrix(1.0382 0.0000 0.0000 1.0535 922.54 847.64)" font-size="21" stroke="#000" stroke-width="0.16" xml:space="preserve">16</text>
<text transform="matrix(1.0552 0.0000 0.0000 1.0535 75.31 817.64)" font-size="21" stroke="#000" stroke-width="0.16" xml:space="preserve">0</text>
<text transform="matrix(1.0626 0.0000 0.0000 1.0535 48.51 696.64)" font-size="21" stroke="#000" stroke-width="0.16" xml:space="preserve">100</text>
<text transform="matrix(1.0767 0.0000 0.0000 1.0535 49.02 576.64)" font-size="21" stroke="#000" stroke-width="0.16" xml:space="preserve">200</text>
<text transform="matrix(1.0687 0.0000 0.0000 1.0535 49.30 455.64)" font-size="21" stroke="#000" stroke-width="0.16" xml:space="preserve">300</text>
<text transform="matrix(1.0904 0.0000 0.0000 1.0535 48.55 334.64)" font-size="21" stroke="#000" stroke-width="0.16" xml:space="preserve">400</text>
<text transform="matrix(1.0692 0.0000 0.0000 1.0535 49.28 213.64)" font-size="21" stroke="#000" stroke-width="0.16" xml:space="preserve">500</text>
<text transform="matrix(1.1068 0.0000 0.0000 1.0535 48.99 92.64)" font-size="21" stroke="#000" stroke-width="0.16" xml:space="preserve">600</text>
<text transform="matrix(1.0552 0.0000 0.0000 1.0535 1062.31 829.64)" font-size="21" stroke="#000" stroke-width="0.16" xml:space="preserve">0</text>
<text transform="matrix(0.9546 0.0000 0.0000 1.0713 1063.39 706.63)" font-size="21" stroke="#000" stroke-width="0.16" xml:space="preserve">5</text>
<text transform="matrix(1.0262 0.0000 0.0000 1.0535 1062.56 584.64)" font-size="21" stroke="#000" stroke-width="0.16" xml:space="preserve">10</text>
<text transform="matrix(1.0382 0.0000 0.0000 1.0713 1062.54 461.63)" font-size="21" stroke="#000" stroke-width="0.16" xml:space="preserve">15</text>
<text transform="matrix(1.0489 0.0000 0.0000 1.0535 1063.05 338.64)" font-size="21" stroke="#000" stroke-width="0.16" xml:space="preserve">20</text>
<text transform="matrix(1.0605 0.0000 0.0000 1.0535 1063.04 215.64)" font-size="21" stroke="#000" stroke-width="0.16" xml:space="preserve">25</text>
<text transform="matrix(1.0368 0.0000 0.0000 1.0535 1063.32 92.64)" font-size="21" stroke="#000" stroke-width="0.16" xml:space="preserve">30</text>
</g>
</svg>
</body></html>
